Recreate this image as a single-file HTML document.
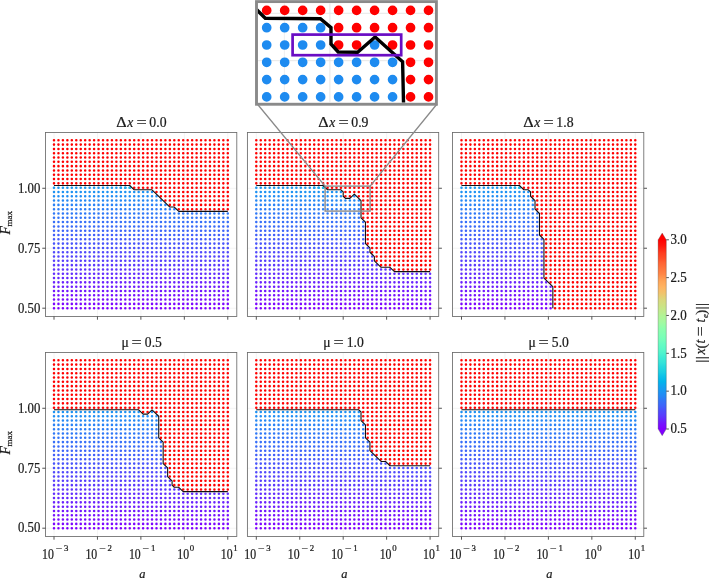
<!DOCTYPE html>
<html lang="en"><head><meta charset="utf-8"><title>Figure</title>
<style>html,body{margin:0;padding:0;background:#fff}svg{display:block}text{font-family:"Liberation Serif","DejaVu Serif",serif;fill:#1a1a1a;stroke:#1a1a1a;stroke-width:0.22px}.i{font-style:italic}.d{fill:none;stroke-linecap:round;stroke-width:2.55}</style></head><body>
<svg width="709" height="579" viewBox="0 0 709 579">
<rect width="709" height="579" fill="#fff"/>
<g>
<path d="M54 132.5v184M97.45 132.5v184M140.89 132.5v184M184.34 132.5v184M227.78 132.5v184M45.5 308.19h191.3M45.5 248.23h191.3M45.5 188.27h191.3" fill="none" stroke="#f1f1f1" stroke-width="0.8"/>
<path class="d" stroke="#1997f2" d="M54 187.66h0M58.46 187.66h0M62.91 187.66h0M67.37 187.66h0M71.82 187.66h0M76.28 187.66h0M80.74 187.66h0M85.19 187.66h0M89.65 187.66h0M94.1 187.66h0M98.56 187.66h0M103.02 187.66h0M107.47 187.66h0M111.93 187.66h0M116.38 187.66h0M120.84 187.66h0M125.3 187.66h0M129.75 187.66h0"/>
<path class="d" stroke="#1cc2e2" d="M129.75 187.66h0"/>
<path class="d" stroke="#19aaea" d="M125.3 187.66h0"/>
<path class="d" stroke="#1a9eee" d="M120.84 187.66h0"/>
<path class="d" stroke="#1d92f3" d="M54 191.96h0M58.46 191.96h0M62.91 191.96h0M67.37 191.96h0M71.82 191.96h0M76.28 191.96h0M80.74 191.96h0M85.19 191.96h0M89.65 191.96h0M94.1 191.96h0M98.56 191.96h0M103.02 191.96h0M107.47 191.96h0M111.93 191.96h0M116.38 191.96h0M120.84 191.96h0M125.3 191.96h0M129.75 191.96h0M134.21 191.96h0M138.66 191.96h0M143.12 191.96h0M147.58 191.96h0M152.03 191.96h0"/>
<path class="d" stroke="#208df4" d="M54 196.27h0M58.46 196.27h0M62.91 196.27h0M67.37 196.27h0M71.82 196.27h0M76.28 196.27h0M80.74 196.27h0M85.19 196.27h0M89.65 196.27h0M94.1 196.27h0M98.56 196.27h0M103.02 196.27h0M107.47 196.27h0M111.93 196.27h0M116.38 196.27h0M120.84 196.27h0M125.3 196.27h0M129.75 196.27h0M134.21 196.27h0M138.66 196.27h0M143.12 196.27h0M147.58 196.27h0M152.03 196.27h0M156.49 196.27h0"/>
<path class="d" stroke="#2488f5" d="M54 200.57h0M58.46 200.57h0M62.91 200.57h0M67.37 200.57h0M71.82 200.57h0M76.28 200.57h0M80.74 200.57h0M85.19 200.57h0M89.65 200.57h0M94.1 200.57h0M98.56 200.57h0M103.02 200.57h0M107.47 200.57h0M111.93 200.57h0M116.38 200.57h0M120.84 200.57h0M125.3 200.57h0M129.75 200.57h0M134.21 200.57h0M138.66 200.57h0M143.12 200.57h0M147.58 200.57h0M152.03 200.57h0M156.49 200.57h0M160.94 200.57h0"/>
<path class="d" stroke="#2883f6" d="M54 204.88h0M58.46 204.88h0M62.91 204.88h0M67.37 204.88h0M71.82 204.88h0M76.28 204.88h0M80.74 204.88h0M85.19 204.88h0M89.65 204.88h0M94.1 204.88h0M98.56 204.88h0M103.02 204.88h0M107.47 204.88h0M111.93 204.88h0M116.38 204.88h0M120.84 204.88h0M125.3 204.88h0M129.75 204.88h0M134.21 204.88h0M138.66 204.88h0M143.12 204.88h0M147.58 204.88h0M152.03 204.88h0M156.49 204.88h0M160.94 204.88h0M165.4 204.88h0"/>
<path class="d" stroke="#2b7ef6" d="M54 209.18h0M58.46 209.18h0M62.91 209.18h0M67.37 209.18h0M71.82 209.18h0M76.28 209.18h0M80.74 209.18h0M85.19 209.18h0M89.65 209.18h0M94.1 209.18h0M98.56 209.18h0M103.02 209.18h0M107.47 209.18h0M111.93 209.18h0M116.38 209.18h0M120.84 209.18h0M125.3 209.18h0M129.75 209.18h0M134.21 209.18h0M138.66 209.18h0M143.12 209.18h0M147.58 209.18h0M152.03 209.18h0M156.49 209.18h0M160.94 209.18h0M165.4 209.18h0M169.86 209.18h0M174.31 209.18h0"/>
<path class="d" stroke="#2f79f7" d="M54 213.49h0M58.46 213.49h0M62.91 213.49h0M67.37 213.49h0M71.82 213.49h0M76.28 213.49h0M80.74 213.49h0M85.19 213.49h0M89.65 213.49h0M94.1 213.49h0M98.56 213.49h0M103.02 213.49h0M107.47 213.49h0M111.93 213.49h0M116.38 213.49h0M120.84 213.49h0M125.3 213.49h0M129.75 213.49h0M134.21 213.49h0M138.66 213.49h0M143.12 213.49h0M147.58 213.49h0M152.03 213.49h0M156.49 213.49h0M160.94 213.49h0M165.4 213.49h0M169.86 213.49h0M174.31 213.49h0M178.77 213.49h0M183.22 213.49h0M187.68 213.49h0M192.14 213.49h0M196.59 213.49h0M201.05 213.49h0M205.5 213.49h0M209.96 213.49h0M214.42 213.49h0M218.87 213.49h0M223.33 213.49h0M227.78 213.49h0"/>
<path class="d" stroke="#3374f8" d="M54 217.79h0M58.46 217.79h0M62.91 217.79h0M67.37 217.79h0M71.82 217.79h0M76.28 217.79h0M80.74 217.79h0M85.19 217.79h0M89.65 217.79h0M94.1 217.79h0M98.56 217.79h0M103.02 217.79h0M107.47 217.79h0M111.93 217.79h0M116.38 217.79h0M120.84 217.79h0M125.3 217.79h0M129.75 217.79h0M134.21 217.79h0M138.66 217.79h0M143.12 217.79h0M147.58 217.79h0M152.03 217.79h0M156.49 217.79h0M160.94 217.79h0M165.4 217.79h0M169.86 217.79h0M174.31 217.79h0M178.77 217.79h0M183.22 217.79h0M187.68 217.79h0M192.14 217.79h0M196.59 217.79h0M201.05 217.79h0M205.5 217.79h0M209.96 217.79h0M214.42 217.79h0M218.87 217.79h0M223.33 217.79h0M227.78 217.79h0"/>
<path class="d" stroke="#366ff9" d="M54 222.09h0M58.46 222.09h0M62.91 222.09h0M67.37 222.09h0M71.82 222.09h0M76.28 222.09h0M80.74 222.09h0M85.19 222.09h0M89.65 222.09h0M94.1 222.09h0M98.56 222.09h0M103.02 222.09h0M107.47 222.09h0M111.93 222.09h0M116.38 222.09h0M120.84 222.09h0M125.3 222.09h0M129.75 222.09h0M134.21 222.09h0M138.66 222.09h0M143.12 222.09h0M147.58 222.09h0M152.03 222.09h0M156.49 222.09h0M160.94 222.09h0M165.4 222.09h0M169.86 222.09h0M174.31 222.09h0M178.77 222.09h0M183.22 222.09h0M187.68 222.09h0M192.14 222.09h0M196.59 222.09h0M201.05 222.09h0M205.5 222.09h0M209.96 222.09h0M214.42 222.09h0M218.87 222.09h0M223.33 222.09h0M227.78 222.09h0"/>
<path class="d" stroke="#3a6af9" d="M54 226.4h0M58.46 226.4h0M62.91 226.4h0M67.37 226.4h0M71.82 226.4h0M76.28 226.4h0M80.74 226.4h0M85.19 226.4h0M89.65 226.4h0M94.1 226.4h0M98.56 226.4h0M103.02 226.4h0M107.47 226.4h0M111.93 226.4h0M116.38 226.4h0M120.84 226.4h0M125.3 226.4h0M129.75 226.4h0M134.21 226.4h0M138.66 226.4h0M143.12 226.4h0M147.58 226.4h0M152.03 226.4h0M156.49 226.4h0M160.94 226.4h0M165.4 226.4h0M169.86 226.4h0M174.31 226.4h0M178.77 226.4h0M183.22 226.4h0M187.68 226.4h0M192.14 226.4h0M196.59 226.4h0M201.05 226.4h0M205.5 226.4h0M209.96 226.4h0M214.42 226.4h0M218.87 226.4h0M223.33 226.4h0M227.78 226.4h0"/>
<path class="d" stroke="#3e65fa" d="M54 230.71h0M58.46 230.71h0M62.91 230.71h0M67.37 230.71h0M71.82 230.71h0M76.28 230.71h0M80.74 230.71h0M85.19 230.71h0M89.65 230.71h0M94.1 230.71h0M98.56 230.71h0M103.02 230.71h0M107.47 230.71h0M111.93 230.71h0M116.38 230.71h0M120.84 230.71h0M125.3 230.71h0M129.75 230.71h0M134.21 230.71h0M138.66 230.71h0M143.12 230.71h0M147.58 230.71h0M152.03 230.71h0M156.49 230.71h0M160.94 230.71h0M165.4 230.71h0M169.86 230.71h0M174.31 230.71h0M178.77 230.71h0M183.22 230.71h0M187.68 230.71h0M192.14 230.71h0M196.59 230.71h0M201.05 230.71h0M205.5 230.71h0M209.96 230.71h0M214.42 230.71h0M218.87 230.71h0M223.33 230.71h0M227.78 230.71h0"/>
<path class="d" stroke="#415ffa" d="M54 235.01h0M58.46 235.01h0M62.91 235.01h0M67.37 235.01h0M71.82 235.01h0M76.28 235.01h0M80.74 235.01h0M85.19 235.01h0M89.65 235.01h0M94.1 235.01h0M98.56 235.01h0M103.02 235.01h0M107.47 235.01h0M111.93 235.01h0M116.38 235.01h0M120.84 235.01h0M125.3 235.01h0M129.75 235.01h0M134.21 235.01h0M138.66 235.01h0M143.12 235.01h0M147.58 235.01h0M152.03 235.01h0M156.49 235.01h0M160.94 235.01h0M165.4 235.01h0M169.86 235.01h0M174.31 235.01h0M178.77 235.01h0M183.22 235.01h0M187.68 235.01h0M192.14 235.01h0M196.59 235.01h0M201.05 235.01h0M205.5 235.01h0M209.96 235.01h0M214.42 235.01h0M218.87 235.01h0M223.33 235.01h0M227.78 235.01h0"/>
<path class="d" stroke="#455afb" d="M54 239.31h0M58.46 239.31h0M62.91 239.31h0M67.37 239.31h0M71.82 239.31h0M76.28 239.31h0M80.74 239.31h0M85.19 239.31h0M89.65 239.31h0M94.1 239.31h0M98.56 239.31h0M103.02 239.31h0M107.47 239.31h0M111.93 239.31h0M116.38 239.31h0M120.84 239.31h0M125.3 239.31h0M129.75 239.31h0M134.21 239.31h0M138.66 239.31h0M143.12 239.31h0M147.58 239.31h0M152.03 239.31h0M156.49 239.31h0M160.94 239.31h0M165.4 239.31h0M169.86 239.31h0M174.31 239.31h0M178.77 239.31h0M183.22 239.31h0M187.68 239.31h0M192.14 239.31h0M196.59 239.31h0M201.05 239.31h0M205.5 239.31h0M209.96 239.31h0M214.42 239.31h0M218.87 239.31h0M223.33 239.31h0M227.78 239.31h0"/>
<path class="d" stroke="#4955fb" d="M54 243.62h0M58.46 243.62h0M62.91 243.62h0M67.37 243.62h0M71.82 243.62h0M76.28 243.62h0M80.74 243.62h0M85.19 243.62h0M89.65 243.62h0M94.1 243.62h0M98.56 243.62h0M103.02 243.62h0M107.47 243.62h0M111.93 243.62h0M116.38 243.62h0M120.84 243.62h0M125.3 243.62h0M129.75 243.62h0M134.21 243.62h0M138.66 243.62h0M143.12 243.62h0M147.58 243.62h0M152.03 243.62h0M156.49 243.62h0M160.94 243.62h0M165.4 243.62h0M169.86 243.62h0M174.31 243.62h0M178.77 243.62h0M183.22 243.62h0M187.68 243.62h0M192.14 243.62h0M196.59 243.62h0M201.05 243.62h0M205.5 243.62h0M209.96 243.62h0M214.42 243.62h0M218.87 243.62h0M223.33 243.62h0M227.78 243.62h0"/>
<path class="d" stroke="#4c4ffc" d="M54 247.93h0M58.46 247.93h0M62.91 247.93h0M67.37 247.93h0M71.82 247.93h0M76.28 247.93h0M80.74 247.93h0M85.19 247.93h0M89.65 247.93h0M94.1 247.93h0M98.56 247.93h0M103.02 247.93h0M107.47 247.93h0M111.93 247.93h0M116.38 247.93h0M120.84 247.93h0M125.3 247.93h0M129.75 247.93h0M134.21 247.93h0M138.66 247.93h0M143.12 247.93h0M147.58 247.93h0M152.03 247.93h0M156.49 247.93h0M160.94 247.93h0M165.4 247.93h0M169.86 247.93h0M174.31 247.93h0M178.77 247.93h0M183.22 247.93h0M187.68 247.93h0M192.14 247.93h0M196.59 247.93h0M201.05 247.93h0M205.5 247.93h0M209.96 247.93h0M214.42 247.93h0M218.87 247.93h0M223.33 247.93h0M227.78 247.93h0"/>
<path class="d" stroke="#504afc" d="M54 252.23h0M58.46 252.23h0M62.91 252.23h0M67.37 252.23h0M71.82 252.23h0M76.28 252.23h0M80.74 252.23h0M85.19 252.23h0M89.65 252.23h0M94.1 252.23h0M98.56 252.23h0M103.02 252.23h0M107.47 252.23h0M111.93 252.23h0M116.38 252.23h0M120.84 252.23h0M125.3 252.23h0M129.75 252.23h0M134.21 252.23h0M138.66 252.23h0M143.12 252.23h0M147.58 252.23h0M152.03 252.23h0M156.49 252.23h0M160.94 252.23h0M165.4 252.23h0M169.86 252.23h0M174.31 252.23h0M178.77 252.23h0M183.22 252.23h0M187.68 252.23h0M192.14 252.23h0M196.59 252.23h0M201.05 252.23h0M205.5 252.23h0M209.96 252.23h0M214.42 252.23h0M218.87 252.23h0M223.33 252.23h0M227.78 252.23h0"/>
<path class="d" stroke="#5444fd" d="M54 256.53h0M58.46 256.53h0M62.91 256.53h0M67.37 256.53h0M71.82 256.53h0M76.28 256.53h0M80.74 256.53h0M85.19 256.53h0M89.65 256.53h0M94.1 256.53h0M98.56 256.53h0M103.02 256.53h0M107.47 256.53h0M111.93 256.53h0M116.38 256.53h0M120.84 256.53h0M125.3 256.53h0M129.75 256.53h0M134.21 256.53h0M138.66 256.53h0M143.12 256.53h0M147.58 256.53h0M152.03 256.53h0M156.49 256.53h0M160.94 256.53h0M165.4 256.53h0M169.86 256.53h0M174.31 256.53h0M178.77 256.53h0M183.22 256.53h0M187.68 256.53h0M192.14 256.53h0M196.59 256.53h0M201.05 256.53h0M205.5 256.53h0M209.96 256.53h0M214.42 256.53h0M218.87 256.53h0M223.33 256.53h0M227.78 256.53h0"/>
<path class="d" stroke="#573ffd" d="M54 260.84h0M58.46 260.84h0M62.91 260.84h0M67.37 260.84h0M71.82 260.84h0M76.28 260.84h0M80.74 260.84h0M85.19 260.84h0M89.65 260.84h0M94.1 260.84h0M98.56 260.84h0M103.02 260.84h0M107.47 260.84h0M111.93 260.84h0M116.38 260.84h0M120.84 260.84h0M125.3 260.84h0M129.75 260.84h0M134.21 260.84h0M138.66 260.84h0M143.12 260.84h0M147.58 260.84h0M152.03 260.84h0M156.49 260.84h0M160.94 260.84h0M165.4 260.84h0M169.86 260.84h0M174.31 260.84h0M178.77 260.84h0M183.22 260.84h0M187.68 260.84h0M192.14 260.84h0M196.59 260.84h0M201.05 260.84h0M205.5 260.84h0M209.96 260.84h0M214.42 260.84h0M218.87 260.84h0M223.33 260.84h0M227.78 260.84h0"/>
<path class="d" stroke="#5b39fd" d="M54 265.14h0M58.46 265.14h0M62.91 265.14h0M67.37 265.14h0M71.82 265.14h0M76.28 265.14h0M80.74 265.14h0M85.19 265.14h0M89.65 265.14h0M94.1 265.14h0M98.56 265.14h0M103.02 265.14h0M107.47 265.14h0M111.93 265.14h0M116.38 265.14h0M120.84 265.14h0M125.3 265.14h0M129.75 265.14h0M134.21 265.14h0M138.66 265.14h0M143.12 265.14h0M147.58 265.14h0M152.03 265.14h0M156.49 265.14h0M160.94 265.14h0M165.4 265.14h0M169.86 265.14h0M174.31 265.14h0M178.77 265.14h0M183.22 265.14h0M187.68 265.14h0M192.14 265.14h0M196.59 265.14h0M201.05 265.14h0M205.5 265.14h0M209.96 265.14h0M214.42 265.14h0M218.87 265.14h0M223.33 265.14h0M227.78 265.14h0"/>
<path class="d" stroke="#5f33fe" d="M54 269.45h0M58.46 269.45h0M62.91 269.45h0M67.37 269.45h0M71.82 269.45h0M76.28 269.45h0M80.74 269.45h0M85.19 269.45h0M89.65 269.45h0M94.1 269.45h0M98.56 269.45h0M103.02 269.45h0M107.47 269.45h0M111.93 269.45h0M116.38 269.45h0M120.84 269.45h0M125.3 269.45h0M129.75 269.45h0M134.21 269.45h0M138.66 269.45h0M143.12 269.45h0M147.58 269.45h0M152.03 269.45h0M156.49 269.45h0M160.94 269.45h0M165.4 269.45h0M169.86 269.45h0M174.31 269.45h0M178.77 269.45h0M183.22 269.45h0M187.68 269.45h0M192.14 269.45h0M196.59 269.45h0M201.05 269.45h0M205.5 269.45h0M209.96 269.45h0M214.42 269.45h0M218.87 269.45h0M223.33 269.45h0M227.78 269.45h0"/>
<path class="d" stroke="#622efe" d="M54 273.75h0M58.46 273.75h0M62.91 273.75h0M67.37 273.75h0M71.82 273.75h0M76.28 273.75h0M80.74 273.75h0M85.19 273.75h0M89.65 273.75h0M94.1 273.75h0M98.56 273.75h0M103.02 273.75h0M107.47 273.75h0M111.93 273.75h0M116.38 273.75h0M120.84 273.75h0M125.3 273.75h0M129.75 273.75h0M134.21 273.75h0M138.66 273.75h0M143.12 273.75h0M147.58 273.75h0M152.03 273.75h0M156.49 273.75h0M160.94 273.75h0M165.4 273.75h0M169.86 273.75h0M174.31 273.75h0M178.77 273.75h0M183.22 273.75h0M187.68 273.75h0M192.14 273.75h0M196.59 273.75h0M201.05 273.75h0M205.5 273.75h0M209.96 273.75h0M214.42 273.75h0M218.87 273.75h0M223.33 273.75h0M227.78 273.75h0"/>
<path class="d" stroke="#6628fe" d="M54 278.06h0M58.46 278.06h0M62.91 278.06h0M67.37 278.06h0M71.82 278.06h0M76.28 278.06h0M80.74 278.06h0M85.19 278.06h0M89.65 278.06h0M94.1 278.06h0M98.56 278.06h0M103.02 278.06h0M107.47 278.06h0M111.93 278.06h0M116.38 278.06h0M120.84 278.06h0M125.3 278.06h0M129.75 278.06h0M134.21 278.06h0M138.66 278.06h0M143.12 278.06h0M147.58 278.06h0M152.03 278.06h0M156.49 278.06h0M160.94 278.06h0M165.4 278.06h0M169.86 278.06h0M174.31 278.06h0M178.77 278.06h0M183.22 278.06h0M187.68 278.06h0M192.14 278.06h0M196.59 278.06h0M201.05 278.06h0M205.5 278.06h0M209.96 278.06h0M214.42 278.06h0M218.87 278.06h0M223.33 278.06h0M227.78 278.06h0"/>
<path class="d" stroke="#6a22fe" d="M54 282.37h0M58.46 282.37h0M62.91 282.37h0M67.37 282.37h0M71.82 282.37h0M76.28 282.37h0M80.74 282.37h0M85.19 282.37h0M89.65 282.37h0M94.1 282.37h0M98.56 282.37h0M103.02 282.37h0M107.47 282.37h0M111.93 282.37h0M116.38 282.37h0M120.84 282.37h0M125.3 282.37h0M129.75 282.37h0M134.21 282.37h0M138.66 282.37h0M143.12 282.37h0M147.58 282.37h0M152.03 282.37h0M156.49 282.37h0M160.94 282.37h0M165.4 282.37h0M169.86 282.37h0M174.31 282.37h0M178.77 282.37h0M183.22 282.37h0M187.68 282.37h0M192.14 282.37h0M196.59 282.37h0M201.05 282.37h0M205.5 282.37h0M209.96 282.37h0M214.42 282.37h0M218.87 282.37h0M223.33 282.37h0M227.78 282.37h0"/>
<path class="d" stroke="#6d1dff" d="M54 286.67h0M58.46 286.67h0M62.91 286.67h0M67.37 286.67h0M71.82 286.67h0M76.28 286.67h0M80.74 286.67h0M85.19 286.67h0M89.65 286.67h0M94.1 286.67h0M98.56 286.67h0M103.02 286.67h0M107.47 286.67h0M111.93 286.67h0M116.38 286.67h0M120.84 286.67h0M125.3 286.67h0M129.75 286.67h0M134.21 286.67h0M138.66 286.67h0M143.12 286.67h0M147.58 286.67h0M152.03 286.67h0M156.49 286.67h0M160.94 286.67h0M165.4 286.67h0M169.86 286.67h0M174.31 286.67h0M178.77 286.67h0M183.22 286.67h0M187.68 286.67h0M192.14 286.67h0M196.59 286.67h0M201.05 286.67h0M205.5 286.67h0M209.96 286.67h0M214.42 286.67h0M218.87 286.67h0M223.33 286.67h0M227.78 286.67h0"/>
<path class="d" stroke="#7117ff" d="M54 290.98h0M58.46 290.98h0M62.91 290.98h0M67.37 290.98h0M71.82 290.98h0M76.28 290.98h0M80.74 290.98h0M85.19 290.98h0M89.65 290.98h0M94.1 290.98h0M98.56 290.98h0M103.02 290.98h0M107.47 290.98h0M111.93 290.98h0M116.38 290.98h0M120.84 290.98h0M125.3 290.98h0M129.75 290.98h0M134.21 290.98h0M138.66 290.98h0M143.12 290.98h0M147.58 290.98h0M152.03 290.98h0M156.49 290.98h0M160.94 290.98h0M165.4 290.98h0M169.86 290.98h0M174.31 290.98h0M178.77 290.98h0M183.22 290.98h0M187.68 290.98h0M192.14 290.98h0M196.59 290.98h0M201.05 290.98h0M205.5 290.98h0M209.96 290.98h0M214.42 290.98h0M218.87 290.98h0M223.33 290.98h0M227.78 290.98h0"/>
<path class="d" stroke="#7511ff" d="M54 295.28h0M58.46 295.28h0M62.91 295.28h0M67.37 295.28h0M71.82 295.28h0M76.28 295.28h0M80.74 295.28h0M85.19 295.28h0M89.65 295.28h0M94.1 295.28h0M98.56 295.28h0M103.02 295.28h0M107.47 295.28h0M111.93 295.28h0M116.38 295.28h0M120.84 295.28h0M125.3 295.28h0M129.75 295.28h0M134.21 295.28h0M138.66 295.28h0M143.12 295.28h0M147.58 295.28h0M152.03 295.28h0M156.49 295.28h0M160.94 295.28h0M165.4 295.28h0M169.86 295.28h0M174.31 295.28h0M178.77 295.28h0M183.22 295.28h0M187.68 295.28h0M192.14 295.28h0M196.59 295.28h0M201.05 295.28h0M205.5 295.28h0M209.96 295.28h0M214.42 295.28h0M218.87 295.28h0M223.33 295.28h0M227.78 295.28h0"/>
<path class="d" stroke="#780bff" d="M54 299.59h0M58.46 299.59h0M62.91 299.59h0M67.37 299.59h0M71.82 299.59h0M76.28 299.59h0M80.74 299.59h0M85.19 299.59h0M89.65 299.59h0M94.1 299.59h0M98.56 299.59h0M103.02 299.59h0M107.47 299.59h0M111.93 299.59h0M116.38 299.59h0M120.84 299.59h0M125.3 299.59h0M129.75 299.59h0M134.21 299.59h0M138.66 299.59h0M143.12 299.59h0M147.58 299.59h0M152.03 299.59h0M156.49 299.59h0M160.94 299.59h0M165.4 299.59h0M169.86 299.59h0M174.31 299.59h0M178.77 299.59h0M183.22 299.59h0M187.68 299.59h0M192.14 299.59h0M196.59 299.59h0M201.05 299.59h0M205.5 299.59h0M209.96 299.59h0M214.42 299.59h0M218.87 299.59h0M223.33 299.59h0M227.78 299.59h0"/>
<path class="d" stroke="#7c06ff" d="M54 303.89h0M58.46 303.89h0M62.91 303.89h0M67.37 303.89h0M71.82 303.89h0M76.28 303.89h0M80.74 303.89h0M85.19 303.89h0M89.65 303.89h0M94.1 303.89h0M98.56 303.89h0M103.02 303.89h0M107.47 303.89h0M111.93 303.89h0M116.38 303.89h0M120.84 303.89h0M125.3 303.89h0M129.75 303.89h0M134.21 303.89h0M138.66 303.89h0M143.12 303.89h0M147.58 303.89h0M152.03 303.89h0M156.49 303.89h0M160.94 303.89h0M165.4 303.89h0M169.86 303.89h0M174.31 303.89h0M178.77 303.89h0M183.22 303.89h0M187.68 303.89h0M192.14 303.89h0M196.59 303.89h0M201.05 303.89h0M205.5 303.89h0M209.96 303.89h0M214.42 303.89h0M218.87 303.89h0M223.33 303.89h0M227.78 303.89h0"/>
<path class="d" stroke="#8000ff" d="M54 308.19h0M58.46 308.19h0M62.91 308.19h0M67.37 308.19h0M71.82 308.19h0M76.28 308.19h0M80.74 308.19h0M85.19 308.19h0M89.65 308.19h0M94.1 308.19h0M98.56 308.19h0M103.02 308.19h0M107.47 308.19h0M111.93 308.19h0M116.38 308.19h0M120.84 308.19h0M125.3 308.19h0M129.75 308.19h0M134.21 308.19h0M138.66 308.19h0M143.12 308.19h0M147.58 308.19h0M152.03 308.19h0M156.49 308.19h0M160.94 308.19h0M165.4 308.19h0M169.86 308.19h0M174.31 308.19h0M178.77 308.19h0M183.22 308.19h0M187.68 308.19h0M192.14 308.19h0M196.59 308.19h0M201.05 308.19h0M205.5 308.19h0M209.96 308.19h0M214.42 308.19h0M218.87 308.19h0M223.33 308.19h0M227.78 308.19h0"/>
<path class="d" stroke="#ff0000" d="M54 140.3h0M58.46 140.3h0M62.91 140.3h0M67.37 140.3h0M71.82 140.3h0M76.28 140.3h0M80.74 140.3h0M85.19 140.3h0M89.65 140.3h0M94.1 140.3h0M98.56 140.3h0M103.02 140.3h0M107.47 140.3h0M111.93 140.3h0M116.38 140.3h0M120.84 140.3h0M125.3 140.3h0M129.75 140.3h0M134.21 140.3h0M138.66 140.3h0M143.12 140.3h0M147.58 140.3h0M152.03 140.3h0M156.49 140.3h0M160.94 140.3h0M165.4 140.3h0M169.86 140.3h0M174.31 140.3h0M178.77 140.3h0M183.22 140.3h0M187.68 140.3h0M192.14 140.3h0M196.59 140.3h0M201.05 140.3h0M205.5 140.3h0M209.96 140.3h0M214.42 140.3h0M218.87 140.3h0M223.33 140.3h0M227.78 140.3h0M54 144.61h0M58.46 144.61h0M62.91 144.61h0M67.37 144.61h0M71.82 144.61h0M76.28 144.61h0M80.74 144.61h0M85.19 144.61h0M89.65 144.61h0M94.1 144.61h0M98.56 144.61h0M103.02 144.61h0M107.47 144.61h0M111.93 144.61h0M116.38 144.61h0M120.84 144.61h0M125.3 144.61h0M129.75 144.61h0M134.21 144.61h0M138.66 144.61h0M143.12 144.61h0M147.58 144.61h0M152.03 144.61h0M156.49 144.61h0M160.94 144.61h0M165.4 144.61h0M169.86 144.61h0M174.31 144.61h0M178.77 144.61h0M183.22 144.61h0M187.68 144.61h0M192.14 144.61h0M196.59 144.61h0M201.05 144.61h0M205.5 144.61h0M209.96 144.61h0M214.42 144.61h0M218.87 144.61h0M223.33 144.61h0M227.78 144.61h0M54 148.91h0M58.46 148.91h0M62.91 148.91h0M67.37 148.91h0M71.82 148.91h0M76.28 148.91h0M80.74 148.91h0M85.19 148.91h0M89.65 148.91h0M94.1 148.91h0M98.56 148.91h0M103.02 148.91h0M107.47 148.91h0M111.93 148.91h0M116.38 148.91h0M120.84 148.91h0M125.3 148.91h0M129.75 148.91h0M134.21 148.91h0M138.66 148.91h0M143.12 148.91h0M147.58 148.91h0M152.03 148.91h0M156.49 148.91h0M160.94 148.91h0M165.4 148.91h0M169.86 148.91h0M174.31 148.91h0M178.77 148.91h0M183.22 148.91h0M187.68 148.91h0M192.14 148.91h0M196.59 148.91h0M201.05 148.91h0M205.5 148.91h0M209.96 148.91h0M214.42 148.91h0M218.87 148.91h0M223.33 148.91h0M227.78 148.91h0M54 153.22h0M58.46 153.22h0M62.91 153.22h0M67.37 153.22h0M71.82 153.22h0M76.28 153.22h0M80.74 153.22h0M85.19 153.22h0M89.65 153.22h0M94.1 153.22h0M98.56 153.22h0M103.02 153.22h0M107.47 153.22h0M111.93 153.22h0M116.38 153.22h0M120.84 153.22h0M125.3 153.22h0M129.75 153.22h0M134.21 153.22h0M138.66 153.22h0M143.12 153.22h0M147.58 153.22h0M152.03 153.22h0M156.49 153.22h0M160.94 153.22h0M165.4 153.22h0M169.86 153.22h0M174.31 153.22h0M178.77 153.22h0M183.22 153.22h0M187.68 153.22h0M192.14 153.22h0M196.59 153.22h0M201.05 153.22h0M205.5 153.22h0M209.96 153.22h0M214.42 153.22h0M218.87 153.22h0M223.33 153.22h0M227.78 153.22h0M54 157.52h0M58.46 157.52h0M62.91 157.52h0M67.37 157.52h0M71.82 157.52h0M76.28 157.52h0M80.74 157.52h0M85.19 157.52h0M89.65 157.52h0M94.1 157.52h0M98.56 157.52h0M103.02 157.52h0M107.47 157.52h0M111.93 157.52h0M116.38 157.52h0M120.84 157.52h0M125.3 157.52h0M129.75 157.52h0M134.21 157.52h0M138.66 157.52h0M143.12 157.52h0M147.58 157.52h0M152.03 157.52h0M156.49 157.52h0M160.94 157.52h0M165.4 157.52h0M169.86 157.52h0M174.31 157.52h0M178.77 157.52h0M183.22 157.52h0M187.68 157.52h0M192.14 157.52h0M196.59 157.52h0M201.05 157.52h0M205.5 157.52h0M209.96 157.52h0M214.42 157.52h0M218.87 157.52h0M223.33 157.52h0M227.78 157.52h0M54 161.83h0M58.46 161.83h0M62.91 161.83h0M67.37 161.83h0M71.82 161.83h0M76.28 161.83h0M80.74 161.83h0M85.19 161.83h0M89.65 161.83h0M94.1 161.83h0M98.56 161.83h0M103.02 161.83h0M107.47 161.83h0M111.93 161.83h0M116.38 161.83h0M120.84 161.83h0M125.3 161.83h0M129.75 161.83h0M134.21 161.83h0M138.66 161.83h0M143.12 161.83h0M147.58 161.83h0M152.03 161.83h0M156.49 161.83h0M160.94 161.83h0M165.4 161.83h0M169.86 161.83h0M174.31 161.83h0M178.77 161.83h0M183.22 161.83h0M187.68 161.83h0M192.14 161.83h0M196.59 161.83h0M201.05 161.83h0M205.5 161.83h0M209.96 161.83h0M214.42 161.83h0M218.87 161.83h0M223.33 161.83h0M227.78 161.83h0M54 166.13h0M58.46 166.13h0M62.91 166.13h0M67.37 166.13h0M71.82 166.13h0M76.28 166.13h0M80.74 166.13h0M85.19 166.13h0M89.65 166.13h0M94.1 166.13h0M98.56 166.13h0M103.02 166.13h0M107.47 166.13h0M111.93 166.13h0M116.38 166.13h0M120.84 166.13h0M125.3 166.13h0M129.75 166.13h0M134.21 166.13h0M138.66 166.13h0M143.12 166.13h0M147.58 166.13h0M152.03 166.13h0M156.49 166.13h0M160.94 166.13h0M165.4 166.13h0M169.86 166.13h0M174.31 166.13h0M178.77 166.13h0M183.22 166.13h0M187.68 166.13h0M192.14 166.13h0M196.59 166.13h0M201.05 166.13h0M205.5 166.13h0M209.96 166.13h0M214.42 166.13h0M218.87 166.13h0M223.33 166.13h0M227.78 166.13h0M54 170.44h0M58.46 170.44h0M62.91 170.44h0M67.37 170.44h0M71.82 170.44h0M76.28 170.44h0M80.74 170.44h0M85.19 170.44h0M89.65 170.44h0M94.1 170.44h0M98.56 170.44h0M103.02 170.44h0M107.47 170.44h0M111.93 170.44h0M116.38 170.44h0M120.84 170.44h0M125.3 170.44h0M129.75 170.44h0M134.21 170.44h0M138.66 170.44h0M143.12 170.44h0M147.58 170.44h0M152.03 170.44h0M156.49 170.44h0M160.94 170.44h0M165.4 170.44h0M169.86 170.44h0M174.31 170.44h0M178.77 170.44h0M183.22 170.44h0M187.68 170.44h0M192.14 170.44h0M196.59 170.44h0M201.05 170.44h0M205.5 170.44h0M209.96 170.44h0M214.42 170.44h0M218.87 170.44h0M223.33 170.44h0M227.78 170.44h0M54 174.74h0M58.46 174.74h0M62.91 174.74h0M67.37 174.74h0M71.82 174.74h0M76.28 174.74h0M80.74 174.74h0M85.19 174.74h0M89.65 174.74h0M94.1 174.74h0M98.56 174.74h0M103.02 174.74h0M107.47 174.74h0M111.93 174.74h0M116.38 174.74h0M120.84 174.74h0M125.3 174.74h0M129.75 174.74h0M134.21 174.74h0M138.66 174.74h0M143.12 174.74h0M147.58 174.74h0M152.03 174.74h0M156.49 174.74h0M160.94 174.74h0M165.4 174.74h0M169.86 174.74h0M174.31 174.74h0M178.77 174.74h0M183.22 174.74h0M187.68 174.74h0M192.14 174.74h0M196.59 174.74h0M201.05 174.74h0M205.5 174.74h0M209.96 174.74h0M214.42 174.74h0M218.87 174.74h0M223.33 174.74h0M227.78 174.74h0M54 179.05h0M58.46 179.05h0M62.91 179.05h0M67.37 179.05h0M71.82 179.05h0M76.28 179.05h0M80.74 179.05h0M85.19 179.05h0M89.65 179.05h0M94.1 179.05h0M98.56 179.05h0M103.02 179.05h0M107.47 179.05h0M111.93 179.05h0M116.38 179.05h0M120.84 179.05h0M125.3 179.05h0M129.75 179.05h0M134.21 179.05h0M138.66 179.05h0M143.12 179.05h0M147.58 179.05h0M152.03 179.05h0M156.49 179.05h0M160.94 179.05h0M165.4 179.05h0M169.86 179.05h0M174.31 179.05h0M178.77 179.05h0M183.22 179.05h0M187.68 179.05h0M192.14 179.05h0M196.59 179.05h0M201.05 179.05h0M205.5 179.05h0M209.96 179.05h0M214.42 179.05h0M218.87 179.05h0M223.33 179.05h0M227.78 179.05h0M54 183.35h0M58.46 183.35h0M62.91 183.35h0M67.37 183.35h0M71.82 183.35h0M76.28 183.35h0M80.74 183.35h0M85.19 183.35h0M89.65 183.35h0M94.1 183.35h0M98.56 183.35h0M103.02 183.35h0M107.47 183.35h0M111.93 183.35h0M116.38 183.35h0M120.84 183.35h0M125.3 183.35h0M129.75 183.35h0M134.21 183.35h0M138.66 183.35h0M143.12 183.35h0M147.58 183.35h0M152.03 183.35h0M156.49 183.35h0M160.94 183.35h0M165.4 183.35h0M169.86 183.35h0M174.31 183.35h0M178.77 183.35h0M183.22 183.35h0M187.68 183.35h0M192.14 183.35h0M196.59 183.35h0M201.05 183.35h0M205.5 183.35h0M209.96 183.35h0M214.42 183.35h0M218.87 183.35h0M223.33 183.35h0M227.78 183.35h0M134.21 187.66h0M138.66 187.66h0M143.12 187.66h0M147.58 187.66h0M152.03 187.66h0M156.49 187.66h0M160.94 187.66h0M165.4 187.66h0M169.86 187.66h0M174.31 187.66h0M178.77 187.66h0M183.22 187.66h0M187.68 187.66h0M192.14 187.66h0M196.59 187.66h0M201.05 187.66h0M205.5 187.66h0M209.96 187.66h0M214.42 187.66h0M218.87 187.66h0M223.33 187.66h0M227.78 187.66h0M156.49 191.96h0M160.94 191.96h0M165.4 191.96h0M169.86 191.96h0M174.31 191.96h0M178.77 191.96h0M183.22 191.96h0M187.68 191.96h0M192.14 191.96h0M196.59 191.96h0M201.05 191.96h0M205.5 191.96h0M209.96 191.96h0M214.42 191.96h0M218.87 191.96h0M223.33 191.96h0M227.78 191.96h0M160.94 196.27h0M165.4 196.27h0M169.86 196.27h0M174.31 196.27h0M178.77 196.27h0M183.22 196.27h0M187.68 196.27h0M192.14 196.27h0M196.59 196.27h0M201.05 196.27h0M205.5 196.27h0M209.96 196.27h0M214.42 196.27h0M218.87 196.27h0M223.33 196.27h0M227.78 196.27h0M165.4 200.57h0M169.86 200.57h0M174.31 200.57h0M178.77 200.57h0M183.22 200.57h0M187.68 200.57h0M192.14 200.57h0M196.59 200.57h0M201.05 200.57h0M205.5 200.57h0M209.96 200.57h0M214.42 200.57h0M218.87 200.57h0M223.33 200.57h0M227.78 200.57h0M169.86 204.88h0M174.31 204.88h0M178.77 204.88h0M183.22 204.88h0M187.68 204.88h0M192.14 204.88h0M196.59 204.88h0M201.05 204.88h0M205.5 204.88h0M209.96 204.88h0M214.42 204.88h0M218.87 204.88h0M223.33 204.88h0M227.78 204.88h0M178.77 209.18h0M183.22 209.18h0M187.68 209.18h0M192.14 209.18h0M196.59 209.18h0M201.05 209.18h0M205.5 209.18h0M209.96 209.18h0M214.42 209.18h0M218.87 209.18h0M223.33 209.18h0M227.78 209.18h0"/>
<polyline fill="none" stroke="#111" stroke-width="1.1" stroke-linejoin="round" points="54,185.5 129.75,185.5 134.21,189.81 152.03,189.81 169.86,207.03 174.31,207.03 178.77,211.33 227.78,211.33"/>
<rect x="45.5" y="132.5" width="191.3" height="184" fill="none" stroke="#6a6a6a" stroke-width="0.85"/>
<path d="M54 316.5v3.2M97.45 316.5v3.2M140.89 316.5v3.2M184.34 316.5v3.2M227.78 316.5v3.2M45.5 308.19h-3.2M45.5 248.23h-3.2M45.5 188.27h-3.2" fill="none" stroke="#404040" stroke-width="0.9"/>
<text y="127" font-size="13.6"><tspan x="116.25" textLength="10.4" lengthAdjust="spacingAndGlyphs">Δ</tspan><tspan class="i" x="127.25">x</tspan><tspan x="136.55" textLength="10.2" lengthAdjust="spacingAndGlyphs">=</tspan><tspan x="149.35" textLength="17.2" lengthAdjust="spacingAndGlyphs">0.0</tspan></text>
<text x="40.3" y="312.5" font-size="13.6" text-anchor="end" textLength="22.3" lengthAdjust="spacingAndGlyphs">0.50</text>
<text x="40.3" y="252.53" font-size="13.6" text-anchor="end" textLength="22.3" lengthAdjust="spacingAndGlyphs">0.75</text>
<text x="40.3" y="192.57" font-size="13.6" text-anchor="end" textLength="22.3" lengthAdjust="spacingAndGlyphs">1.00</text>
<text transform="translate(9.7 223.2) rotate(-90)" font-size="13.6"><tspan class="i" x="-11.2" y="0">F</tspan><tspan x="-3.4" y="2.3" font-size="9">max</tspan></text>
</g>
<g>
<path d="M256.3 132.5v184M299.75 132.5v184M343.19 132.5v184M386.64 132.5v184M430.08 132.5v184M247.4 308.19h191.3M247.4 248.23h191.3M247.4 188.27h191.3" fill="none" stroke="#f1f1f1" stroke-width="0.8"/>
<path class="d" stroke="#1997f2" d="M256.3 187.66h0M260.76 187.66h0M265.21 187.66h0M269.67 187.66h0M274.12 187.66h0M278.58 187.66h0M283.04 187.66h0M287.49 187.66h0M291.95 187.66h0M296.4 187.66h0M300.86 187.66h0M305.32 187.66h0M309.77 187.66h0M314.23 187.66h0M318.68 187.66h0M323.14 187.66h0"/>
<path class="d" stroke="#1cc2e2" d="M323.14 187.66h0"/>
<path class="d" stroke="#19aaea" d="M318.68 187.66h0"/>
<path class="d" stroke="#1a9eee" d="M314.23 187.66h0"/>
<path class="d" stroke="#1d92f3" d="M256.3 191.96h0M260.76 191.96h0M265.21 191.96h0M269.67 191.96h0M274.12 191.96h0M278.58 191.96h0M283.04 191.96h0M287.49 191.96h0M291.95 191.96h0M296.4 191.96h0M300.86 191.96h0M305.32 191.96h0M309.77 191.96h0M314.23 191.96h0M318.68 191.96h0M323.14 191.96h0M327.6 191.96h0M332.05 191.96h0M336.51 191.96h0M340.96 191.96h0"/>
<path class="d" stroke="#208df4" d="M256.3 196.27h0M260.76 196.27h0M265.21 196.27h0M269.67 196.27h0M274.12 196.27h0M278.58 196.27h0M283.04 196.27h0M287.49 196.27h0M291.95 196.27h0M296.4 196.27h0M300.86 196.27h0M305.32 196.27h0M309.77 196.27h0M314.23 196.27h0M318.68 196.27h0M323.14 196.27h0M327.6 196.27h0M332.05 196.27h0M336.51 196.27h0M340.96 196.27h0M354.33 196.27h0"/>
<path class="d" stroke="#2488f5" d="M256.3 200.57h0M260.76 200.57h0M265.21 200.57h0M269.67 200.57h0M274.12 200.57h0M278.58 200.57h0M283.04 200.57h0M287.49 200.57h0M291.95 200.57h0M296.4 200.57h0M300.86 200.57h0M305.32 200.57h0M309.77 200.57h0M314.23 200.57h0M318.68 200.57h0M323.14 200.57h0M327.6 200.57h0M332.05 200.57h0M336.51 200.57h0M340.96 200.57h0M345.42 200.57h0M349.88 200.57h0M354.33 200.57h0M358.79 200.57h0"/>
<path class="d" stroke="#2883f6" d="M256.3 204.88h0M260.76 204.88h0M265.21 204.88h0M269.67 204.88h0M274.12 204.88h0M278.58 204.88h0M283.04 204.88h0M287.49 204.88h0M291.95 204.88h0M296.4 204.88h0M300.86 204.88h0M305.32 204.88h0M309.77 204.88h0M314.23 204.88h0M318.68 204.88h0M323.14 204.88h0M327.6 204.88h0M332.05 204.88h0M336.51 204.88h0M340.96 204.88h0M345.42 204.88h0M349.88 204.88h0M354.33 204.88h0M358.79 204.88h0"/>
<path class="d" stroke="#2b7ef6" d="M256.3 209.18h0M260.76 209.18h0M265.21 209.18h0M269.67 209.18h0M274.12 209.18h0M278.58 209.18h0M283.04 209.18h0M287.49 209.18h0M291.95 209.18h0M296.4 209.18h0M300.86 209.18h0M305.32 209.18h0M309.77 209.18h0M314.23 209.18h0M318.68 209.18h0M323.14 209.18h0M327.6 209.18h0M332.05 209.18h0M336.51 209.18h0M340.96 209.18h0M345.42 209.18h0M349.88 209.18h0M354.33 209.18h0M358.79 209.18h0"/>
<path class="d" stroke="#2f79f7" d="M256.3 213.49h0M260.76 213.49h0M265.21 213.49h0M269.67 213.49h0M274.12 213.49h0M278.58 213.49h0M283.04 213.49h0M287.49 213.49h0M291.95 213.49h0M296.4 213.49h0M300.86 213.49h0M305.32 213.49h0M309.77 213.49h0M314.23 213.49h0M318.68 213.49h0M323.14 213.49h0M327.6 213.49h0M332.05 213.49h0M336.51 213.49h0M340.96 213.49h0M345.42 213.49h0M349.88 213.49h0M354.33 213.49h0M358.79 213.49h0"/>
<path class="d" stroke="#3374f8" d="M256.3 217.79h0M260.76 217.79h0M265.21 217.79h0M269.67 217.79h0M274.12 217.79h0M278.58 217.79h0M283.04 217.79h0M287.49 217.79h0M291.95 217.79h0M296.4 217.79h0M300.86 217.79h0M305.32 217.79h0M309.77 217.79h0M314.23 217.79h0M318.68 217.79h0M323.14 217.79h0M327.6 217.79h0M332.05 217.79h0M336.51 217.79h0M340.96 217.79h0M345.42 217.79h0M349.88 217.79h0M354.33 217.79h0M358.79 217.79h0"/>
<path class="d" stroke="#366ff9" d="M256.3 222.09h0M260.76 222.09h0M265.21 222.09h0M269.67 222.09h0M274.12 222.09h0M278.58 222.09h0M283.04 222.09h0M287.49 222.09h0M291.95 222.09h0M296.4 222.09h0M300.86 222.09h0M305.32 222.09h0M309.77 222.09h0M314.23 222.09h0M318.68 222.09h0M323.14 222.09h0M327.6 222.09h0M332.05 222.09h0M336.51 222.09h0M340.96 222.09h0M345.42 222.09h0M349.88 222.09h0M354.33 222.09h0M358.79 222.09h0M363.24 222.09h0"/>
<path class="d" stroke="#3a6af9" d="M256.3 226.4h0M260.76 226.4h0M265.21 226.4h0M269.67 226.4h0M274.12 226.4h0M278.58 226.4h0M283.04 226.4h0M287.49 226.4h0M291.95 226.4h0M296.4 226.4h0M300.86 226.4h0M305.32 226.4h0M309.77 226.4h0M314.23 226.4h0M318.68 226.4h0M323.14 226.4h0M327.6 226.4h0M332.05 226.4h0M336.51 226.4h0M340.96 226.4h0M345.42 226.4h0M349.88 226.4h0M354.33 226.4h0M358.79 226.4h0M363.24 226.4h0"/>
<path class="d" stroke="#3e65fa" d="M256.3 230.71h0M260.76 230.71h0M265.21 230.71h0M269.67 230.71h0M274.12 230.71h0M278.58 230.71h0M283.04 230.71h0M287.49 230.71h0M291.95 230.71h0M296.4 230.71h0M300.86 230.71h0M305.32 230.71h0M309.77 230.71h0M314.23 230.71h0M318.68 230.71h0M323.14 230.71h0M327.6 230.71h0M332.05 230.71h0M336.51 230.71h0M340.96 230.71h0M345.42 230.71h0M349.88 230.71h0M354.33 230.71h0M358.79 230.71h0M363.24 230.71h0"/>
<path class="d" stroke="#415ffa" d="M256.3 235.01h0M260.76 235.01h0M265.21 235.01h0M269.67 235.01h0M274.12 235.01h0M278.58 235.01h0M283.04 235.01h0M287.49 235.01h0M291.95 235.01h0M296.4 235.01h0M300.86 235.01h0M305.32 235.01h0M309.77 235.01h0M314.23 235.01h0M318.68 235.01h0M323.14 235.01h0M327.6 235.01h0M332.05 235.01h0M336.51 235.01h0M340.96 235.01h0M345.42 235.01h0M349.88 235.01h0M354.33 235.01h0M358.79 235.01h0M363.24 235.01h0"/>
<path class="d" stroke="#455afb" d="M256.3 239.31h0M260.76 239.31h0M265.21 239.31h0M269.67 239.31h0M274.12 239.31h0M278.58 239.31h0M283.04 239.31h0M287.49 239.31h0M291.95 239.31h0M296.4 239.31h0M300.86 239.31h0M305.32 239.31h0M309.77 239.31h0M314.23 239.31h0M318.68 239.31h0M323.14 239.31h0M327.6 239.31h0M332.05 239.31h0M336.51 239.31h0M340.96 239.31h0M345.42 239.31h0M349.88 239.31h0M354.33 239.31h0M358.79 239.31h0M363.24 239.31h0"/>
<path class="d" stroke="#4955fb" d="M256.3 243.62h0M260.76 243.62h0M265.21 243.62h0M269.67 243.62h0M274.12 243.62h0M278.58 243.62h0M283.04 243.62h0M287.49 243.62h0M291.95 243.62h0M296.4 243.62h0M300.86 243.62h0M305.32 243.62h0M309.77 243.62h0M314.23 243.62h0M318.68 243.62h0M323.14 243.62h0M327.6 243.62h0M332.05 243.62h0M336.51 243.62h0M340.96 243.62h0M345.42 243.62h0M349.88 243.62h0M354.33 243.62h0M358.79 243.62h0M363.24 243.62h0"/>
<path class="d" stroke="#4c4ffc" d="M256.3 247.93h0M260.76 247.93h0M265.21 247.93h0M269.67 247.93h0M274.12 247.93h0M278.58 247.93h0M283.04 247.93h0M287.49 247.93h0M291.95 247.93h0M296.4 247.93h0M300.86 247.93h0M305.32 247.93h0M309.77 247.93h0M314.23 247.93h0M318.68 247.93h0M323.14 247.93h0M327.6 247.93h0M332.05 247.93h0M336.51 247.93h0M340.96 247.93h0M345.42 247.93h0M349.88 247.93h0M354.33 247.93h0M358.79 247.93h0M363.24 247.93h0M367.7 247.93h0"/>
<path class="d" stroke="#504afc" d="M256.3 252.23h0M260.76 252.23h0M265.21 252.23h0M269.67 252.23h0M274.12 252.23h0M278.58 252.23h0M283.04 252.23h0M287.49 252.23h0M291.95 252.23h0M296.4 252.23h0M300.86 252.23h0M305.32 252.23h0M309.77 252.23h0M314.23 252.23h0M318.68 252.23h0M323.14 252.23h0M327.6 252.23h0M332.05 252.23h0M336.51 252.23h0M340.96 252.23h0M345.42 252.23h0M349.88 252.23h0M354.33 252.23h0M358.79 252.23h0M363.24 252.23h0M367.7 252.23h0"/>
<path class="d" stroke="#5444fd" d="M256.3 256.53h0M260.76 256.53h0M265.21 256.53h0M269.67 256.53h0M274.12 256.53h0M278.58 256.53h0M283.04 256.53h0M287.49 256.53h0M291.95 256.53h0M296.4 256.53h0M300.86 256.53h0M305.32 256.53h0M309.77 256.53h0M314.23 256.53h0M318.68 256.53h0M323.14 256.53h0M327.6 256.53h0M332.05 256.53h0M336.51 256.53h0M340.96 256.53h0M345.42 256.53h0M349.88 256.53h0M354.33 256.53h0M358.79 256.53h0M363.24 256.53h0M367.7 256.53h0M372.16 256.53h0"/>
<path class="d" stroke="#573ffd" d="M256.3 260.84h0M260.76 260.84h0M265.21 260.84h0M269.67 260.84h0M274.12 260.84h0M278.58 260.84h0M283.04 260.84h0M287.49 260.84h0M291.95 260.84h0M296.4 260.84h0M300.86 260.84h0M305.32 260.84h0M309.77 260.84h0M314.23 260.84h0M318.68 260.84h0M323.14 260.84h0M327.6 260.84h0M332.05 260.84h0M336.51 260.84h0M340.96 260.84h0M345.42 260.84h0M349.88 260.84h0M354.33 260.84h0M358.79 260.84h0M363.24 260.84h0M367.7 260.84h0M372.16 260.84h0"/>
<path class="d" stroke="#5b39fd" d="M256.3 265.14h0M260.76 265.14h0M265.21 265.14h0M269.67 265.14h0M274.12 265.14h0M278.58 265.14h0M283.04 265.14h0M287.49 265.14h0M291.95 265.14h0M296.4 265.14h0M300.86 265.14h0M305.32 265.14h0M309.77 265.14h0M314.23 265.14h0M318.68 265.14h0M323.14 265.14h0M327.6 265.14h0M332.05 265.14h0M336.51 265.14h0M340.96 265.14h0M345.42 265.14h0M349.88 265.14h0M354.33 265.14h0M358.79 265.14h0M363.24 265.14h0M367.7 265.14h0M372.16 265.14h0M376.61 265.14h0"/>
<path class="d" stroke="#5f33fe" d="M256.3 269.45h0M260.76 269.45h0M265.21 269.45h0M269.67 269.45h0M274.12 269.45h0M278.58 269.45h0M283.04 269.45h0M287.49 269.45h0M291.95 269.45h0M296.4 269.45h0M300.86 269.45h0M305.32 269.45h0M309.77 269.45h0M314.23 269.45h0M318.68 269.45h0M323.14 269.45h0M327.6 269.45h0M332.05 269.45h0M336.51 269.45h0M340.96 269.45h0M345.42 269.45h0M349.88 269.45h0M354.33 269.45h0M358.79 269.45h0M363.24 269.45h0M367.7 269.45h0M372.16 269.45h0M376.61 269.45h0M381.07 269.45h0M385.52 269.45h0M389.98 269.45h0"/>
<path class="d" stroke="#622efe" d="M256.3 273.75h0M260.76 273.75h0M265.21 273.75h0M269.67 273.75h0M274.12 273.75h0M278.58 273.75h0M283.04 273.75h0M287.49 273.75h0M291.95 273.75h0M296.4 273.75h0M300.86 273.75h0M305.32 273.75h0M309.77 273.75h0M314.23 273.75h0M318.68 273.75h0M323.14 273.75h0M327.6 273.75h0M332.05 273.75h0M336.51 273.75h0M340.96 273.75h0M345.42 273.75h0M349.88 273.75h0M354.33 273.75h0M358.79 273.75h0M363.24 273.75h0M367.7 273.75h0M372.16 273.75h0M376.61 273.75h0M381.07 273.75h0M385.52 273.75h0M389.98 273.75h0M394.44 273.75h0M398.89 273.75h0M403.35 273.75h0M407.8 273.75h0M412.26 273.75h0M416.72 273.75h0M421.17 273.75h0M425.63 273.75h0M430.08 273.75h0"/>
<path class="d" stroke="#6628fe" d="M256.3 278.06h0M260.76 278.06h0M265.21 278.06h0M269.67 278.06h0M274.12 278.06h0M278.58 278.06h0M283.04 278.06h0M287.49 278.06h0M291.95 278.06h0M296.4 278.06h0M300.86 278.06h0M305.32 278.06h0M309.77 278.06h0M314.23 278.06h0M318.68 278.06h0M323.14 278.06h0M327.6 278.06h0M332.05 278.06h0M336.51 278.06h0M340.96 278.06h0M345.42 278.06h0M349.88 278.06h0M354.33 278.06h0M358.79 278.06h0M363.24 278.06h0M367.7 278.06h0M372.16 278.06h0M376.61 278.06h0M381.07 278.06h0M385.52 278.06h0M389.98 278.06h0M394.44 278.06h0M398.89 278.06h0M403.35 278.06h0M407.8 278.06h0M412.26 278.06h0M416.72 278.06h0M421.17 278.06h0M425.63 278.06h0M430.08 278.06h0"/>
<path class="d" stroke="#6a22fe" d="M256.3 282.37h0M260.76 282.37h0M265.21 282.37h0M269.67 282.37h0M274.12 282.37h0M278.58 282.37h0M283.04 282.37h0M287.49 282.37h0M291.95 282.37h0M296.4 282.37h0M300.86 282.37h0M305.32 282.37h0M309.77 282.37h0M314.23 282.37h0M318.68 282.37h0M323.14 282.37h0M327.6 282.37h0M332.05 282.37h0M336.51 282.37h0M340.96 282.37h0M345.42 282.37h0M349.88 282.37h0M354.33 282.37h0M358.79 282.37h0M363.24 282.37h0M367.7 282.37h0M372.16 282.37h0M376.61 282.37h0M381.07 282.37h0M385.52 282.37h0M389.98 282.37h0M394.44 282.37h0M398.89 282.37h0M403.35 282.37h0M407.8 282.37h0M412.26 282.37h0M416.72 282.37h0M421.17 282.37h0M425.63 282.37h0M430.08 282.37h0"/>
<path class="d" stroke="#6d1dff" d="M256.3 286.67h0M260.76 286.67h0M265.21 286.67h0M269.67 286.67h0M274.12 286.67h0M278.58 286.67h0M283.04 286.67h0M287.49 286.67h0M291.95 286.67h0M296.4 286.67h0M300.86 286.67h0M305.32 286.67h0M309.77 286.67h0M314.23 286.67h0M318.68 286.67h0M323.14 286.67h0M327.6 286.67h0M332.05 286.67h0M336.51 286.67h0M340.96 286.67h0M345.42 286.67h0M349.88 286.67h0M354.33 286.67h0M358.79 286.67h0M363.24 286.67h0M367.7 286.67h0M372.16 286.67h0M376.61 286.67h0M381.07 286.67h0M385.52 286.67h0M389.98 286.67h0M394.44 286.67h0M398.89 286.67h0M403.35 286.67h0M407.8 286.67h0M412.26 286.67h0M416.72 286.67h0M421.17 286.67h0M425.63 286.67h0M430.08 286.67h0"/>
<path class="d" stroke="#7117ff" d="M256.3 290.98h0M260.76 290.98h0M265.21 290.98h0M269.67 290.98h0M274.12 290.98h0M278.58 290.98h0M283.04 290.98h0M287.49 290.98h0M291.95 290.98h0M296.4 290.98h0M300.86 290.98h0M305.32 290.98h0M309.77 290.98h0M314.23 290.98h0M318.68 290.98h0M323.14 290.98h0M327.6 290.98h0M332.05 290.98h0M336.51 290.98h0M340.96 290.98h0M345.42 290.98h0M349.88 290.98h0M354.33 290.98h0M358.79 290.98h0M363.24 290.98h0M367.7 290.98h0M372.16 290.98h0M376.61 290.98h0M381.07 290.98h0M385.52 290.98h0M389.98 290.98h0M394.44 290.98h0M398.89 290.98h0M403.35 290.98h0M407.8 290.98h0M412.26 290.98h0M416.72 290.98h0M421.17 290.98h0M425.63 290.98h0M430.08 290.98h0"/>
<path class="d" stroke="#7511ff" d="M256.3 295.28h0M260.76 295.28h0M265.21 295.28h0M269.67 295.28h0M274.12 295.28h0M278.58 295.28h0M283.04 295.28h0M287.49 295.28h0M291.95 295.28h0M296.4 295.28h0M300.86 295.28h0M305.32 295.28h0M309.77 295.28h0M314.23 295.28h0M318.68 295.28h0M323.14 295.28h0M327.6 295.28h0M332.05 295.28h0M336.51 295.28h0M340.96 295.28h0M345.42 295.28h0M349.88 295.28h0M354.33 295.28h0M358.79 295.28h0M363.24 295.28h0M367.7 295.28h0M372.16 295.28h0M376.61 295.28h0M381.07 295.28h0M385.52 295.28h0M389.98 295.28h0M394.44 295.28h0M398.89 295.28h0M403.35 295.28h0M407.8 295.28h0M412.26 295.28h0M416.72 295.28h0M421.17 295.28h0M425.63 295.28h0M430.08 295.28h0"/>
<path class="d" stroke="#780bff" d="M256.3 299.59h0M260.76 299.59h0M265.21 299.59h0M269.67 299.59h0M274.12 299.59h0M278.58 299.59h0M283.04 299.59h0M287.49 299.59h0M291.95 299.59h0M296.4 299.59h0M300.86 299.59h0M305.32 299.59h0M309.77 299.59h0M314.23 299.59h0M318.68 299.59h0M323.14 299.59h0M327.6 299.59h0M332.05 299.59h0M336.51 299.59h0M340.96 299.59h0M345.42 299.59h0M349.88 299.59h0M354.33 299.59h0M358.79 299.59h0M363.24 299.59h0M367.7 299.59h0M372.16 299.59h0M376.61 299.59h0M381.07 299.59h0M385.52 299.59h0M389.98 299.59h0M394.44 299.59h0M398.89 299.59h0M403.35 299.59h0M407.8 299.59h0M412.26 299.59h0M416.72 299.59h0M421.17 299.59h0M425.63 299.59h0M430.08 299.59h0"/>
<path class="d" stroke="#7c06ff" d="M256.3 303.89h0M260.76 303.89h0M265.21 303.89h0M269.67 303.89h0M274.12 303.89h0M278.58 303.89h0M283.04 303.89h0M287.49 303.89h0M291.95 303.89h0M296.4 303.89h0M300.86 303.89h0M305.32 303.89h0M309.77 303.89h0M314.23 303.89h0M318.68 303.89h0M323.14 303.89h0M327.6 303.89h0M332.05 303.89h0M336.51 303.89h0M340.96 303.89h0M345.42 303.89h0M349.88 303.89h0M354.33 303.89h0M358.79 303.89h0M363.24 303.89h0M367.7 303.89h0M372.16 303.89h0M376.61 303.89h0M381.07 303.89h0M385.52 303.89h0M389.98 303.89h0M394.44 303.89h0M398.89 303.89h0M403.35 303.89h0M407.8 303.89h0M412.26 303.89h0M416.72 303.89h0M421.17 303.89h0M425.63 303.89h0M430.08 303.89h0"/>
<path class="d" stroke="#8000ff" d="M256.3 308.19h0M260.76 308.19h0M265.21 308.19h0M269.67 308.19h0M274.12 308.19h0M278.58 308.19h0M283.04 308.19h0M287.49 308.19h0M291.95 308.19h0M296.4 308.19h0M300.86 308.19h0M305.32 308.19h0M309.77 308.19h0M314.23 308.19h0M318.68 308.19h0M323.14 308.19h0M327.6 308.19h0M332.05 308.19h0M336.51 308.19h0M340.96 308.19h0M345.42 308.19h0M349.88 308.19h0M354.33 308.19h0M358.79 308.19h0M363.24 308.19h0M367.7 308.19h0M372.16 308.19h0M376.61 308.19h0M381.07 308.19h0M385.52 308.19h0M389.98 308.19h0M394.44 308.19h0M398.89 308.19h0M403.35 308.19h0M407.8 308.19h0M412.26 308.19h0M416.72 308.19h0M421.17 308.19h0M425.63 308.19h0M430.08 308.19h0"/>
<path class="d" stroke="#ff0000" d="M256.3 140.3h0M260.76 140.3h0M265.21 140.3h0M269.67 140.3h0M274.12 140.3h0M278.58 140.3h0M283.04 140.3h0M287.49 140.3h0M291.95 140.3h0M296.4 140.3h0M300.86 140.3h0M305.32 140.3h0M309.77 140.3h0M314.23 140.3h0M318.68 140.3h0M323.14 140.3h0M327.6 140.3h0M332.05 140.3h0M336.51 140.3h0M340.96 140.3h0M345.42 140.3h0M349.88 140.3h0M354.33 140.3h0M358.79 140.3h0M363.24 140.3h0M367.7 140.3h0M372.16 140.3h0M376.61 140.3h0M381.07 140.3h0M385.52 140.3h0M389.98 140.3h0M394.44 140.3h0M398.89 140.3h0M403.35 140.3h0M407.8 140.3h0M412.26 140.3h0M416.72 140.3h0M421.17 140.3h0M425.63 140.3h0M430.08 140.3h0M256.3 144.61h0M260.76 144.61h0M265.21 144.61h0M269.67 144.61h0M274.12 144.61h0M278.58 144.61h0M283.04 144.61h0M287.49 144.61h0M291.95 144.61h0M296.4 144.61h0M300.86 144.61h0M305.32 144.61h0M309.77 144.61h0M314.23 144.61h0M318.68 144.61h0M323.14 144.61h0M327.6 144.61h0M332.05 144.61h0M336.51 144.61h0M340.96 144.61h0M345.42 144.61h0M349.88 144.61h0M354.33 144.61h0M358.79 144.61h0M363.24 144.61h0M367.7 144.61h0M372.16 144.61h0M376.61 144.61h0M381.07 144.61h0M385.52 144.61h0M389.98 144.61h0M394.44 144.61h0M398.89 144.61h0M403.35 144.61h0M407.8 144.61h0M412.26 144.61h0M416.72 144.61h0M421.17 144.61h0M425.63 144.61h0M430.08 144.61h0M256.3 148.91h0M260.76 148.91h0M265.21 148.91h0M269.67 148.91h0M274.12 148.91h0M278.58 148.91h0M283.04 148.91h0M287.49 148.91h0M291.95 148.91h0M296.4 148.91h0M300.86 148.91h0M305.32 148.91h0M309.77 148.91h0M314.23 148.91h0M318.68 148.91h0M323.14 148.91h0M327.6 148.91h0M332.05 148.91h0M336.51 148.91h0M340.96 148.91h0M345.42 148.91h0M349.88 148.91h0M354.33 148.91h0M358.79 148.91h0M363.24 148.91h0M367.7 148.91h0M372.16 148.91h0M376.61 148.91h0M381.07 148.91h0M385.52 148.91h0M389.98 148.91h0M394.44 148.91h0M398.89 148.91h0M403.35 148.91h0M407.8 148.91h0M412.26 148.91h0M416.72 148.91h0M421.17 148.91h0M425.63 148.91h0M430.08 148.91h0M256.3 153.22h0M260.76 153.22h0M265.21 153.22h0M269.67 153.22h0M274.12 153.22h0M278.58 153.22h0M283.04 153.22h0M287.49 153.22h0M291.95 153.22h0M296.4 153.22h0M300.86 153.22h0M305.32 153.22h0M309.77 153.22h0M314.23 153.22h0M318.68 153.22h0M323.14 153.22h0M327.6 153.22h0M332.05 153.22h0M336.51 153.22h0M340.96 153.22h0M345.42 153.22h0M349.88 153.22h0M354.33 153.22h0M358.79 153.22h0M363.24 153.22h0M367.7 153.22h0M372.16 153.22h0M376.61 153.22h0M381.07 153.22h0M385.52 153.22h0M389.98 153.22h0M394.44 153.22h0M398.89 153.22h0M403.35 153.22h0M407.8 153.22h0M412.26 153.22h0M416.72 153.22h0M421.17 153.22h0M425.63 153.22h0M430.08 153.22h0M256.3 157.52h0M260.76 157.52h0M265.21 157.52h0M269.67 157.52h0M274.12 157.52h0M278.58 157.52h0M283.04 157.52h0M287.49 157.52h0M291.95 157.52h0M296.4 157.52h0M300.86 157.52h0M305.32 157.52h0M309.77 157.52h0M314.23 157.52h0M318.68 157.52h0M323.14 157.52h0M327.6 157.52h0M332.05 157.52h0M336.51 157.52h0M340.96 157.52h0M345.42 157.52h0M349.88 157.52h0M354.33 157.52h0M358.79 157.52h0M363.24 157.52h0M367.7 157.52h0M372.16 157.52h0M376.61 157.52h0M381.07 157.52h0M385.52 157.52h0M389.98 157.52h0M394.44 157.52h0M398.89 157.52h0M403.35 157.52h0M407.8 157.52h0M412.26 157.52h0M416.72 157.52h0M421.17 157.52h0M425.63 157.52h0M430.08 157.52h0M256.3 161.83h0M260.76 161.83h0M265.21 161.83h0M269.67 161.83h0M274.12 161.83h0M278.58 161.83h0M283.04 161.83h0M287.49 161.83h0M291.95 161.83h0M296.4 161.83h0M300.86 161.83h0M305.32 161.83h0M309.77 161.83h0M314.23 161.83h0M318.68 161.83h0M323.14 161.83h0M327.6 161.83h0M332.05 161.83h0M336.51 161.83h0M340.96 161.83h0M345.42 161.83h0M349.88 161.83h0M354.33 161.83h0M358.79 161.83h0M363.24 161.83h0M367.7 161.83h0M372.16 161.83h0M376.61 161.83h0M381.07 161.83h0M385.52 161.83h0M389.98 161.83h0M394.44 161.83h0M398.89 161.83h0M403.35 161.83h0M407.8 161.83h0M412.26 161.83h0M416.72 161.83h0M421.17 161.83h0M425.63 161.83h0M430.08 161.83h0M256.3 166.13h0M260.76 166.13h0M265.21 166.13h0M269.67 166.13h0M274.12 166.13h0M278.58 166.13h0M283.04 166.13h0M287.49 166.13h0M291.95 166.13h0M296.4 166.13h0M300.86 166.13h0M305.32 166.13h0M309.77 166.13h0M314.23 166.13h0M318.68 166.13h0M323.14 166.13h0M327.6 166.13h0M332.05 166.13h0M336.51 166.13h0M340.96 166.13h0M345.42 166.13h0M349.88 166.13h0M354.33 166.13h0M358.79 166.13h0M363.24 166.13h0M367.7 166.13h0M372.16 166.13h0M376.61 166.13h0M381.07 166.13h0M385.52 166.13h0M389.98 166.13h0M394.44 166.13h0M398.89 166.13h0M403.35 166.13h0M407.8 166.13h0M412.26 166.13h0M416.72 166.13h0M421.17 166.13h0M425.63 166.13h0M430.08 166.13h0M256.3 170.44h0M260.76 170.44h0M265.21 170.44h0M269.67 170.44h0M274.12 170.44h0M278.58 170.44h0M283.04 170.44h0M287.49 170.44h0M291.95 170.44h0M296.4 170.44h0M300.86 170.44h0M305.32 170.44h0M309.77 170.44h0M314.23 170.44h0M318.68 170.44h0M323.14 170.44h0M327.6 170.44h0M332.05 170.44h0M336.51 170.44h0M340.96 170.44h0M345.42 170.44h0M349.88 170.44h0M354.33 170.44h0M358.79 170.44h0M363.24 170.44h0M367.7 170.44h0M372.16 170.44h0M376.61 170.44h0M381.07 170.44h0M385.52 170.44h0M389.98 170.44h0M394.44 170.44h0M398.89 170.44h0M403.35 170.44h0M407.8 170.44h0M412.26 170.44h0M416.72 170.44h0M421.17 170.44h0M425.63 170.44h0M430.08 170.44h0M256.3 174.74h0M260.76 174.74h0M265.21 174.74h0M269.67 174.74h0M274.12 174.74h0M278.58 174.74h0M283.04 174.74h0M287.49 174.74h0M291.95 174.74h0M296.4 174.74h0M300.86 174.74h0M305.32 174.74h0M309.77 174.74h0M314.23 174.74h0M318.68 174.74h0M323.14 174.74h0M327.6 174.74h0M332.05 174.74h0M336.51 174.74h0M340.96 174.74h0M345.42 174.74h0M349.88 174.74h0M354.33 174.74h0M358.79 174.74h0M363.24 174.74h0M367.7 174.74h0M372.16 174.74h0M376.61 174.74h0M381.07 174.74h0M385.52 174.74h0M389.98 174.74h0M394.44 174.74h0M398.89 174.74h0M403.35 174.74h0M407.8 174.74h0M412.26 174.74h0M416.72 174.74h0M421.17 174.74h0M425.63 174.74h0M430.08 174.74h0M256.3 179.05h0M260.76 179.05h0M265.21 179.05h0M269.67 179.05h0M274.12 179.05h0M278.58 179.05h0M283.04 179.05h0M287.49 179.05h0M291.95 179.05h0M296.4 179.05h0M300.86 179.05h0M305.32 179.05h0M309.77 179.05h0M314.23 179.05h0M318.68 179.05h0M323.14 179.05h0M327.6 179.05h0M332.05 179.05h0M336.51 179.05h0M340.96 179.05h0M345.42 179.05h0M349.88 179.05h0M354.33 179.05h0M358.79 179.05h0M363.24 179.05h0M367.7 179.05h0M372.16 179.05h0M376.61 179.05h0M381.07 179.05h0M385.52 179.05h0M389.98 179.05h0M394.44 179.05h0M398.89 179.05h0M403.35 179.05h0M407.8 179.05h0M412.26 179.05h0M416.72 179.05h0M421.17 179.05h0M425.63 179.05h0M430.08 179.05h0M256.3 183.35h0M260.76 183.35h0M265.21 183.35h0M269.67 183.35h0M274.12 183.35h0M278.58 183.35h0M283.04 183.35h0M287.49 183.35h0M291.95 183.35h0M296.4 183.35h0M300.86 183.35h0M305.32 183.35h0M309.77 183.35h0M314.23 183.35h0M318.68 183.35h0M323.14 183.35h0M327.6 183.35h0M332.05 183.35h0M336.51 183.35h0M340.96 183.35h0M345.42 183.35h0M349.88 183.35h0M354.33 183.35h0M358.79 183.35h0M363.24 183.35h0M367.7 183.35h0M372.16 183.35h0M376.61 183.35h0M381.07 183.35h0M385.52 183.35h0M389.98 183.35h0M394.44 183.35h0M398.89 183.35h0M403.35 183.35h0M407.8 183.35h0M412.26 183.35h0M416.72 183.35h0M421.17 183.35h0M425.63 183.35h0M430.08 183.35h0M327.6 187.66h0M332.05 187.66h0M336.51 187.66h0M340.96 187.66h0M345.42 187.66h0M349.88 187.66h0M354.33 187.66h0M358.79 187.66h0M363.24 187.66h0M367.7 187.66h0M372.16 187.66h0M376.61 187.66h0M381.07 187.66h0M385.52 187.66h0M389.98 187.66h0M394.44 187.66h0M398.89 187.66h0M403.35 187.66h0M407.8 187.66h0M412.26 187.66h0M416.72 187.66h0M421.17 187.66h0M425.63 187.66h0M430.08 187.66h0M345.42 191.96h0M349.88 191.96h0M354.33 191.96h0M358.79 191.96h0M363.24 191.96h0M367.7 191.96h0M372.16 191.96h0M376.61 191.96h0M381.07 191.96h0M385.52 191.96h0M389.98 191.96h0M394.44 191.96h0M398.89 191.96h0M403.35 191.96h0M407.8 191.96h0M412.26 191.96h0M416.72 191.96h0M421.17 191.96h0M425.63 191.96h0M430.08 191.96h0M345.42 196.27h0M349.88 196.27h0M358.79 196.27h0M363.24 196.27h0M367.7 196.27h0M372.16 196.27h0M376.61 196.27h0M381.07 196.27h0M385.52 196.27h0M389.98 196.27h0M394.44 196.27h0M398.89 196.27h0M403.35 196.27h0M407.8 196.27h0M412.26 196.27h0M416.72 196.27h0M421.17 196.27h0M425.63 196.27h0M430.08 196.27h0M363.24 200.57h0M367.7 200.57h0M372.16 200.57h0M376.61 200.57h0M381.07 200.57h0M385.52 200.57h0M389.98 200.57h0M394.44 200.57h0M398.89 200.57h0M403.35 200.57h0M407.8 200.57h0M412.26 200.57h0M416.72 200.57h0M421.17 200.57h0M425.63 200.57h0M430.08 200.57h0M363.24 204.88h0M367.7 204.88h0M372.16 204.88h0M376.61 204.88h0M381.07 204.88h0M385.52 204.88h0M389.98 204.88h0M394.44 204.88h0M398.89 204.88h0M403.35 204.88h0M407.8 204.88h0M412.26 204.88h0M416.72 204.88h0M421.17 204.88h0M425.63 204.88h0M430.08 204.88h0M363.24 209.18h0M367.7 209.18h0M372.16 209.18h0M376.61 209.18h0M381.07 209.18h0M385.52 209.18h0M389.98 209.18h0M394.44 209.18h0M398.89 209.18h0M403.35 209.18h0M407.8 209.18h0M412.26 209.18h0M416.72 209.18h0M421.17 209.18h0M425.63 209.18h0M430.08 209.18h0M363.24 213.49h0M367.7 213.49h0M372.16 213.49h0M376.61 213.49h0M381.07 213.49h0M385.52 213.49h0M389.98 213.49h0M394.44 213.49h0M398.89 213.49h0M403.35 213.49h0M407.8 213.49h0M412.26 213.49h0M416.72 213.49h0M421.17 213.49h0M425.63 213.49h0M430.08 213.49h0M363.24 217.79h0M367.7 217.79h0M372.16 217.79h0M376.61 217.79h0M381.07 217.79h0M385.52 217.79h0M389.98 217.79h0M394.44 217.79h0M398.89 217.79h0M403.35 217.79h0M407.8 217.79h0M412.26 217.79h0M416.72 217.79h0M421.17 217.79h0M425.63 217.79h0M430.08 217.79h0M367.7 222.09h0M372.16 222.09h0M376.61 222.09h0M381.07 222.09h0M385.52 222.09h0M389.98 222.09h0M394.44 222.09h0M398.89 222.09h0M403.35 222.09h0M407.8 222.09h0M412.26 222.09h0M416.72 222.09h0M421.17 222.09h0M425.63 222.09h0M430.08 222.09h0M367.7 226.4h0M372.16 226.4h0M376.61 226.4h0M381.07 226.4h0M385.52 226.4h0M389.98 226.4h0M394.44 226.4h0M398.89 226.4h0M403.35 226.4h0M407.8 226.4h0M412.26 226.4h0M416.72 226.4h0M421.17 226.4h0M425.63 226.4h0M430.08 226.4h0M367.7 230.71h0M372.16 230.71h0M376.61 230.71h0M381.07 230.71h0M385.52 230.71h0M389.98 230.71h0M394.44 230.71h0M398.89 230.71h0M403.35 230.71h0M407.8 230.71h0M412.26 230.71h0M416.72 230.71h0M421.17 230.71h0M425.63 230.71h0M430.08 230.71h0M367.7 235.01h0M372.16 235.01h0M376.61 235.01h0M381.07 235.01h0M385.52 235.01h0M389.98 235.01h0M394.44 235.01h0M398.89 235.01h0M403.35 235.01h0M407.8 235.01h0M412.26 235.01h0M416.72 235.01h0M421.17 235.01h0M425.63 235.01h0M430.08 235.01h0M367.7 239.31h0M372.16 239.31h0M376.61 239.31h0M381.07 239.31h0M385.52 239.31h0M389.98 239.31h0M394.44 239.31h0M398.89 239.31h0M403.35 239.31h0M407.8 239.31h0M412.26 239.31h0M416.72 239.31h0M421.17 239.31h0M425.63 239.31h0M430.08 239.31h0M367.7 243.62h0M372.16 243.62h0M376.61 243.62h0M381.07 243.62h0M385.52 243.62h0M389.98 243.62h0M394.44 243.62h0M398.89 243.62h0M403.35 243.62h0M407.8 243.62h0M412.26 243.62h0M416.72 243.62h0M421.17 243.62h0M425.63 243.62h0M430.08 243.62h0M372.16 247.93h0M376.61 247.93h0M381.07 247.93h0M385.52 247.93h0M389.98 247.93h0M394.44 247.93h0M398.89 247.93h0M403.35 247.93h0M407.8 247.93h0M412.26 247.93h0M416.72 247.93h0M421.17 247.93h0M425.63 247.93h0M430.08 247.93h0M372.16 252.23h0M376.61 252.23h0M381.07 252.23h0M385.52 252.23h0M389.98 252.23h0M394.44 252.23h0M398.89 252.23h0M403.35 252.23h0M407.8 252.23h0M412.26 252.23h0M416.72 252.23h0M421.17 252.23h0M425.63 252.23h0M430.08 252.23h0M376.61 256.53h0M381.07 256.53h0M385.52 256.53h0M389.98 256.53h0M394.44 256.53h0M398.89 256.53h0M403.35 256.53h0M407.8 256.53h0M412.26 256.53h0M416.72 256.53h0M421.17 256.53h0M425.63 256.53h0M430.08 256.53h0M376.61 260.84h0M381.07 260.84h0M385.52 260.84h0M389.98 260.84h0M394.44 260.84h0M398.89 260.84h0M403.35 260.84h0M407.8 260.84h0M412.26 260.84h0M416.72 260.84h0M421.17 260.84h0M425.63 260.84h0M430.08 260.84h0M381.07 265.14h0M385.52 265.14h0M389.98 265.14h0M394.44 265.14h0M398.89 265.14h0M403.35 265.14h0M407.8 265.14h0M412.26 265.14h0M416.72 265.14h0M421.17 265.14h0M425.63 265.14h0M430.08 265.14h0M394.44 269.45h0M398.89 269.45h0M403.35 269.45h0M407.8 269.45h0M412.26 269.45h0M416.72 269.45h0M421.17 269.45h0M425.63 269.45h0M430.08 269.45h0"/>
<polyline fill="none" stroke="#111" stroke-width="1.1" stroke-linejoin="round" points="256.3,185.5 323.14,185.5 327.6,189.81 340.96,189.81 343.19,191.96 343.19,196.27 345.42,198.42 349.88,198.42 354.33,194.11 361.02,200.57 361.02,217.79 365.47,222.09 365.47,243.62 369.93,247.93 369.93,252.23 374.38,256.53 374.38,260.84 381.07,267.3 389.98,267.3 394.44,271.6 430.08,271.6"/>
<rect x="247.4" y="132.5" width="191.3" height="184" fill="none" stroke="#6a6a6a" stroke-width="0.85"/>
<path d="M256.3 316.5v3.2M299.75 316.5v3.2M343.19 316.5v3.2M386.64 316.5v3.2M430.08 316.5v3.2M438.7 308.19h3.2M438.7 248.23h3.2M438.7 188.27h3.2" fill="none" stroke="#404040" stroke-width="0.9"/>
<text y="127" font-size="13.6"><tspan x="318.15" textLength="10.4" lengthAdjust="spacingAndGlyphs">Δ</tspan><tspan class="i" x="329.15">x</tspan><tspan x="338.45" textLength="10.2" lengthAdjust="spacingAndGlyphs">=</tspan><tspan x="351.25" textLength="17.2" lengthAdjust="spacingAndGlyphs">0.9</tspan></text>
</g>
<g>
<path d="M461.5 132.5v184M504.95 132.5v184M548.39 132.5v184M591.84 132.5v184M635.28 132.5v184M452.5 308.19h191.3M452.5 248.23h191.3M452.5 188.27h191.3" fill="none" stroke="#f1f1f1" stroke-width="0.8"/>
<path class="d" stroke="#1997f2" d="M461.5 187.66h0M465.96 187.66h0M470.41 187.66h0M474.87 187.66h0M479.32 187.66h0M483.78 187.66h0M488.24 187.66h0M492.69 187.66h0M497.15 187.66h0M501.6 187.66h0M506.06 187.66h0M510.52 187.66h0M514.97 187.66h0M519.43 187.66h0"/>
<path class="d" stroke="#1cc2e2" d="M519.43 187.66h0"/>
<path class="d" stroke="#19aaea" d="M514.97 187.66h0"/>
<path class="d" stroke="#1a9eee" d="M510.52 187.66h0"/>
<path class="d" stroke="#1d92f3" d="M461.5 191.96h0M465.96 191.96h0M470.41 191.96h0M474.87 191.96h0M479.32 191.96h0M483.78 191.96h0M488.24 191.96h0M492.69 191.96h0M497.15 191.96h0M501.6 191.96h0M506.06 191.96h0M510.52 191.96h0M514.97 191.96h0M519.43 191.96h0M523.88 191.96h0M528.34 191.96h0"/>
<path class="d" stroke="#208df4" d="M461.5 196.27h0M465.96 196.27h0M470.41 196.27h0M474.87 196.27h0M479.32 196.27h0M483.78 196.27h0M488.24 196.27h0M492.69 196.27h0M497.15 196.27h0M501.6 196.27h0M506.06 196.27h0M510.52 196.27h0M514.97 196.27h0M519.43 196.27h0M523.88 196.27h0M528.34 196.27h0"/>
<path class="d" stroke="#2488f5" d="M461.5 200.57h0M465.96 200.57h0M470.41 200.57h0M474.87 200.57h0M479.32 200.57h0M483.78 200.57h0M488.24 200.57h0M492.69 200.57h0M497.15 200.57h0M501.6 200.57h0M506.06 200.57h0M510.52 200.57h0M514.97 200.57h0M519.43 200.57h0M523.88 200.57h0M528.34 200.57h0M532.8 200.57h0"/>
<path class="d" stroke="#2883f6" d="M461.5 204.88h0M465.96 204.88h0M470.41 204.88h0M474.87 204.88h0M479.32 204.88h0M483.78 204.88h0M488.24 204.88h0M492.69 204.88h0M497.15 204.88h0M501.6 204.88h0M506.06 204.88h0M510.52 204.88h0M514.97 204.88h0M519.43 204.88h0M523.88 204.88h0M528.34 204.88h0M532.8 204.88h0"/>
<path class="d" stroke="#2b7ef6" d="M461.5 209.18h0M465.96 209.18h0M470.41 209.18h0M474.87 209.18h0M479.32 209.18h0M483.78 209.18h0M488.24 209.18h0M492.69 209.18h0M497.15 209.18h0M501.6 209.18h0M506.06 209.18h0M510.52 209.18h0M514.97 209.18h0M519.43 209.18h0M523.88 209.18h0M528.34 209.18h0M532.8 209.18h0"/>
<path class="d" stroke="#2f79f7" d="M461.5 213.49h0M465.96 213.49h0M470.41 213.49h0M474.87 213.49h0M479.32 213.49h0M483.78 213.49h0M488.24 213.49h0M492.69 213.49h0M497.15 213.49h0M501.6 213.49h0M506.06 213.49h0M510.52 213.49h0M514.97 213.49h0M519.43 213.49h0M523.88 213.49h0M528.34 213.49h0M532.8 213.49h0M537.25 213.49h0"/>
<path class="d" stroke="#3374f8" d="M461.5 217.79h0M465.96 217.79h0M470.41 217.79h0M474.87 217.79h0M479.32 217.79h0M483.78 217.79h0M488.24 217.79h0M492.69 217.79h0M497.15 217.79h0M501.6 217.79h0M506.06 217.79h0M510.52 217.79h0M514.97 217.79h0M519.43 217.79h0M523.88 217.79h0M528.34 217.79h0M532.8 217.79h0M537.25 217.79h0"/>
<path class="d" stroke="#366ff9" d="M461.5 222.09h0M465.96 222.09h0M470.41 222.09h0M474.87 222.09h0M479.32 222.09h0M483.78 222.09h0M488.24 222.09h0M492.69 222.09h0M497.15 222.09h0M501.6 222.09h0M506.06 222.09h0M510.52 222.09h0M514.97 222.09h0M519.43 222.09h0M523.88 222.09h0M528.34 222.09h0M532.8 222.09h0M537.25 222.09h0"/>
<path class="d" stroke="#3a6af9" d="M461.5 226.4h0M465.96 226.4h0M470.41 226.4h0M474.87 226.4h0M479.32 226.4h0M483.78 226.4h0M488.24 226.4h0M492.69 226.4h0M497.15 226.4h0M501.6 226.4h0M506.06 226.4h0M510.52 226.4h0M514.97 226.4h0M519.43 226.4h0M523.88 226.4h0M528.34 226.4h0M532.8 226.4h0M537.25 226.4h0"/>
<path class="d" stroke="#3e65fa" d="M461.5 230.71h0M465.96 230.71h0M470.41 230.71h0M474.87 230.71h0M479.32 230.71h0M483.78 230.71h0M488.24 230.71h0M492.69 230.71h0M497.15 230.71h0M501.6 230.71h0M506.06 230.71h0M510.52 230.71h0M514.97 230.71h0M519.43 230.71h0M523.88 230.71h0M528.34 230.71h0M532.8 230.71h0M537.25 230.71h0"/>
<path class="d" stroke="#415ffa" d="M461.5 235.01h0M465.96 235.01h0M470.41 235.01h0M474.87 235.01h0M479.32 235.01h0M483.78 235.01h0M488.24 235.01h0M492.69 235.01h0M497.15 235.01h0M501.6 235.01h0M506.06 235.01h0M510.52 235.01h0M514.97 235.01h0M519.43 235.01h0M523.88 235.01h0M528.34 235.01h0M532.8 235.01h0M537.25 235.01h0"/>
<path class="d" stroke="#455afb" d="M461.5 239.31h0M465.96 239.31h0M470.41 239.31h0M474.87 239.31h0M479.32 239.31h0M483.78 239.31h0M488.24 239.31h0M492.69 239.31h0M497.15 239.31h0M501.6 239.31h0M506.06 239.31h0M510.52 239.31h0M514.97 239.31h0M519.43 239.31h0M523.88 239.31h0M528.34 239.31h0M532.8 239.31h0M537.25 239.31h0M541.71 239.31h0"/>
<path class="d" stroke="#4955fb" d="M461.5 243.62h0M465.96 243.62h0M470.41 243.62h0M474.87 243.62h0M479.32 243.62h0M483.78 243.62h0M488.24 243.62h0M492.69 243.62h0M497.15 243.62h0M501.6 243.62h0M506.06 243.62h0M510.52 243.62h0M514.97 243.62h0M519.43 243.62h0M523.88 243.62h0M528.34 243.62h0M532.8 243.62h0M537.25 243.62h0M541.71 243.62h0"/>
<path class="d" stroke="#4c4ffc" d="M461.5 247.93h0M465.96 247.93h0M470.41 247.93h0M474.87 247.93h0M479.32 247.93h0M483.78 247.93h0M488.24 247.93h0M492.69 247.93h0M497.15 247.93h0M501.6 247.93h0M506.06 247.93h0M510.52 247.93h0M514.97 247.93h0M519.43 247.93h0M523.88 247.93h0M528.34 247.93h0M532.8 247.93h0M537.25 247.93h0M541.71 247.93h0"/>
<path class="d" stroke="#504afc" d="M461.5 252.23h0M465.96 252.23h0M470.41 252.23h0M474.87 252.23h0M479.32 252.23h0M483.78 252.23h0M488.24 252.23h0M492.69 252.23h0M497.15 252.23h0M501.6 252.23h0M506.06 252.23h0M510.52 252.23h0M514.97 252.23h0M519.43 252.23h0M523.88 252.23h0M528.34 252.23h0M532.8 252.23h0M537.25 252.23h0M541.71 252.23h0"/>
<path class="d" stroke="#5444fd" d="M461.5 256.53h0M465.96 256.53h0M470.41 256.53h0M474.87 256.53h0M479.32 256.53h0M483.78 256.53h0M488.24 256.53h0M492.69 256.53h0M497.15 256.53h0M501.6 256.53h0M506.06 256.53h0M510.52 256.53h0M514.97 256.53h0M519.43 256.53h0M523.88 256.53h0M528.34 256.53h0M532.8 256.53h0M537.25 256.53h0M541.71 256.53h0"/>
<path class="d" stroke="#573ffd" d="M461.5 260.84h0M465.96 260.84h0M470.41 260.84h0M474.87 260.84h0M479.32 260.84h0M483.78 260.84h0M488.24 260.84h0M492.69 260.84h0M497.15 260.84h0M501.6 260.84h0M506.06 260.84h0M510.52 260.84h0M514.97 260.84h0M519.43 260.84h0M523.88 260.84h0M528.34 260.84h0M532.8 260.84h0M537.25 260.84h0M541.71 260.84h0"/>
<path class="d" stroke="#5b39fd" d="M461.5 265.14h0M465.96 265.14h0M470.41 265.14h0M474.87 265.14h0M479.32 265.14h0M483.78 265.14h0M488.24 265.14h0M492.69 265.14h0M497.15 265.14h0M501.6 265.14h0M506.06 265.14h0M510.52 265.14h0M514.97 265.14h0M519.43 265.14h0M523.88 265.14h0M528.34 265.14h0M532.8 265.14h0M537.25 265.14h0M541.71 265.14h0"/>
<path class="d" stroke="#5f33fe" d="M461.5 269.45h0M465.96 269.45h0M470.41 269.45h0M474.87 269.45h0M479.32 269.45h0M483.78 269.45h0M488.24 269.45h0M492.69 269.45h0M497.15 269.45h0M501.6 269.45h0M506.06 269.45h0M510.52 269.45h0M514.97 269.45h0M519.43 269.45h0M523.88 269.45h0M528.34 269.45h0M532.8 269.45h0M537.25 269.45h0M541.71 269.45h0"/>
<path class="d" stroke="#622efe" d="M461.5 273.75h0M465.96 273.75h0M470.41 273.75h0M474.87 273.75h0M479.32 273.75h0M483.78 273.75h0M488.24 273.75h0M492.69 273.75h0M497.15 273.75h0M501.6 273.75h0M506.06 273.75h0M510.52 273.75h0M514.97 273.75h0M519.43 273.75h0M523.88 273.75h0M528.34 273.75h0M532.8 273.75h0M537.25 273.75h0M541.71 273.75h0"/>
<path class="d" stroke="#6628fe" d="M461.5 278.06h0M465.96 278.06h0M470.41 278.06h0M474.87 278.06h0M479.32 278.06h0M483.78 278.06h0M488.24 278.06h0M492.69 278.06h0M497.15 278.06h0M501.6 278.06h0M506.06 278.06h0M510.52 278.06h0M514.97 278.06h0M519.43 278.06h0M523.88 278.06h0M528.34 278.06h0M532.8 278.06h0M537.25 278.06h0M541.71 278.06h0"/>
<path class="d" stroke="#6a22fe" d="M461.5 282.37h0M465.96 282.37h0M470.41 282.37h0M474.87 282.37h0M479.32 282.37h0M483.78 282.37h0M488.24 282.37h0M492.69 282.37h0M497.15 282.37h0M501.6 282.37h0M506.06 282.37h0M510.52 282.37h0M514.97 282.37h0M519.43 282.37h0M523.88 282.37h0M528.34 282.37h0M532.8 282.37h0M537.25 282.37h0M541.71 282.37h0M546.16 282.37h0"/>
<path class="d" stroke="#6d1dff" d="M461.5 286.67h0M465.96 286.67h0M470.41 286.67h0M474.87 286.67h0M479.32 286.67h0M483.78 286.67h0M488.24 286.67h0M492.69 286.67h0M497.15 286.67h0M501.6 286.67h0M506.06 286.67h0M510.52 286.67h0M514.97 286.67h0M519.43 286.67h0M523.88 286.67h0M528.34 286.67h0M532.8 286.67h0M537.25 286.67h0M541.71 286.67h0M546.16 286.67h0M550.62 286.67h0"/>
<path class="d" stroke="#7117ff" d="M461.5 290.98h0M465.96 290.98h0M470.41 290.98h0M474.87 290.98h0M479.32 290.98h0M483.78 290.98h0M488.24 290.98h0M492.69 290.98h0M497.15 290.98h0M501.6 290.98h0M506.06 290.98h0M510.52 290.98h0M514.97 290.98h0M519.43 290.98h0M523.88 290.98h0M528.34 290.98h0M532.8 290.98h0M537.25 290.98h0M541.71 290.98h0M546.16 290.98h0M550.62 290.98h0"/>
<path class="d" stroke="#7511ff" d="M461.5 295.28h0M465.96 295.28h0M470.41 295.28h0M474.87 295.28h0M479.32 295.28h0M483.78 295.28h0M488.24 295.28h0M492.69 295.28h0M497.15 295.28h0M501.6 295.28h0M506.06 295.28h0M510.52 295.28h0M514.97 295.28h0M519.43 295.28h0M523.88 295.28h0M528.34 295.28h0M532.8 295.28h0M537.25 295.28h0M541.71 295.28h0M546.16 295.28h0M550.62 295.28h0"/>
<path class="d" stroke="#780bff" d="M461.5 299.59h0M465.96 299.59h0M470.41 299.59h0M474.87 299.59h0M479.32 299.59h0M483.78 299.59h0M488.24 299.59h0M492.69 299.59h0M497.15 299.59h0M501.6 299.59h0M506.06 299.59h0M510.52 299.59h0M514.97 299.59h0M519.43 299.59h0M523.88 299.59h0M528.34 299.59h0M532.8 299.59h0M537.25 299.59h0M541.71 299.59h0M546.16 299.59h0M550.62 299.59h0"/>
<path class="d" stroke="#7c06ff" d="M461.5 303.89h0M465.96 303.89h0M470.41 303.89h0M474.87 303.89h0M479.32 303.89h0M483.78 303.89h0M488.24 303.89h0M492.69 303.89h0M497.15 303.89h0M501.6 303.89h0M506.06 303.89h0M510.52 303.89h0M514.97 303.89h0M519.43 303.89h0M523.88 303.89h0M528.34 303.89h0M532.8 303.89h0M537.25 303.89h0M541.71 303.89h0M546.16 303.89h0M550.62 303.89h0"/>
<path class="d" stroke="#8000ff" d="M461.5 308.19h0M465.96 308.19h0M470.41 308.19h0M474.87 308.19h0M479.32 308.19h0M483.78 308.19h0M488.24 308.19h0M492.69 308.19h0M497.15 308.19h0M501.6 308.19h0M506.06 308.19h0M510.52 308.19h0M514.97 308.19h0M519.43 308.19h0M523.88 308.19h0M528.34 308.19h0M532.8 308.19h0M537.25 308.19h0M541.71 308.19h0M546.16 308.19h0M550.62 308.19h0"/>
<path class="d" stroke="#ff0000" d="M461.5 140.3h0M465.96 140.3h0M470.41 140.3h0M474.87 140.3h0M479.32 140.3h0M483.78 140.3h0M488.24 140.3h0M492.69 140.3h0M497.15 140.3h0M501.6 140.3h0M506.06 140.3h0M510.52 140.3h0M514.97 140.3h0M519.43 140.3h0M523.88 140.3h0M528.34 140.3h0M532.8 140.3h0M537.25 140.3h0M541.71 140.3h0M546.16 140.3h0M550.62 140.3h0M555.08 140.3h0M559.53 140.3h0M563.99 140.3h0M568.44 140.3h0M572.9 140.3h0M577.36 140.3h0M581.81 140.3h0M586.27 140.3h0M590.72 140.3h0M595.18 140.3h0M599.64 140.3h0M604.09 140.3h0M608.55 140.3h0M613 140.3h0M617.46 140.3h0M621.92 140.3h0M626.37 140.3h0M630.83 140.3h0M635.28 140.3h0M461.5 144.61h0M465.96 144.61h0M470.41 144.61h0M474.87 144.61h0M479.32 144.61h0M483.78 144.61h0M488.24 144.61h0M492.69 144.61h0M497.15 144.61h0M501.6 144.61h0M506.06 144.61h0M510.52 144.61h0M514.97 144.61h0M519.43 144.61h0M523.88 144.61h0M528.34 144.61h0M532.8 144.61h0M537.25 144.61h0M541.71 144.61h0M546.16 144.61h0M550.62 144.61h0M555.08 144.61h0M559.53 144.61h0M563.99 144.61h0M568.44 144.61h0M572.9 144.61h0M577.36 144.61h0M581.81 144.61h0M586.27 144.61h0M590.72 144.61h0M595.18 144.61h0M599.64 144.61h0M604.09 144.61h0M608.55 144.61h0M613 144.61h0M617.46 144.61h0M621.92 144.61h0M626.37 144.61h0M630.83 144.61h0M635.28 144.61h0M461.5 148.91h0M465.96 148.91h0M470.41 148.91h0M474.87 148.91h0M479.32 148.91h0M483.78 148.91h0M488.24 148.91h0M492.69 148.91h0M497.15 148.91h0M501.6 148.91h0M506.06 148.91h0M510.52 148.91h0M514.97 148.91h0M519.43 148.91h0M523.88 148.91h0M528.34 148.91h0M532.8 148.91h0M537.25 148.91h0M541.71 148.91h0M546.16 148.91h0M550.62 148.91h0M555.08 148.91h0M559.53 148.91h0M563.99 148.91h0M568.44 148.91h0M572.9 148.91h0M577.36 148.91h0M581.81 148.91h0M586.27 148.91h0M590.72 148.91h0M595.18 148.91h0M599.64 148.91h0M604.09 148.91h0M608.55 148.91h0M613 148.91h0M617.46 148.91h0M621.92 148.91h0M626.37 148.91h0M630.83 148.91h0M635.28 148.91h0M461.5 153.22h0M465.96 153.22h0M470.41 153.22h0M474.87 153.22h0M479.32 153.22h0M483.78 153.22h0M488.24 153.22h0M492.69 153.22h0M497.15 153.22h0M501.6 153.22h0M506.06 153.22h0M510.52 153.22h0M514.97 153.22h0M519.43 153.22h0M523.88 153.22h0M528.34 153.22h0M532.8 153.22h0M537.25 153.22h0M541.71 153.22h0M546.16 153.22h0M550.62 153.22h0M555.08 153.22h0M559.53 153.22h0M563.99 153.22h0M568.44 153.22h0M572.9 153.22h0M577.36 153.22h0M581.81 153.22h0M586.27 153.22h0M590.72 153.22h0M595.18 153.22h0M599.64 153.22h0M604.09 153.22h0M608.55 153.22h0M613 153.22h0M617.46 153.22h0M621.92 153.22h0M626.37 153.22h0M630.83 153.22h0M635.28 153.22h0M461.5 157.52h0M465.96 157.52h0M470.41 157.52h0M474.87 157.52h0M479.32 157.52h0M483.78 157.52h0M488.24 157.52h0M492.69 157.52h0M497.15 157.52h0M501.6 157.52h0M506.06 157.52h0M510.52 157.52h0M514.97 157.52h0M519.43 157.52h0M523.88 157.52h0M528.34 157.52h0M532.8 157.52h0M537.25 157.52h0M541.71 157.52h0M546.16 157.52h0M550.62 157.52h0M555.08 157.52h0M559.53 157.52h0M563.99 157.52h0M568.44 157.52h0M572.9 157.52h0M577.36 157.52h0M581.81 157.52h0M586.27 157.52h0M590.72 157.52h0M595.18 157.52h0M599.64 157.52h0M604.09 157.52h0M608.55 157.52h0M613 157.52h0M617.46 157.52h0M621.92 157.52h0M626.37 157.52h0M630.83 157.52h0M635.28 157.52h0M461.5 161.83h0M465.96 161.83h0M470.41 161.83h0M474.87 161.83h0M479.32 161.83h0M483.78 161.83h0M488.24 161.83h0M492.69 161.83h0M497.15 161.83h0M501.6 161.83h0M506.06 161.83h0M510.52 161.83h0M514.97 161.83h0M519.43 161.83h0M523.88 161.83h0M528.34 161.83h0M532.8 161.83h0M537.25 161.83h0M541.71 161.83h0M546.16 161.83h0M550.62 161.83h0M555.08 161.83h0M559.53 161.83h0M563.99 161.83h0M568.44 161.83h0M572.9 161.83h0M577.36 161.83h0M581.81 161.83h0M586.27 161.83h0M590.72 161.83h0M595.18 161.83h0M599.64 161.83h0M604.09 161.83h0M608.55 161.83h0M613 161.83h0M617.46 161.83h0M621.92 161.83h0M626.37 161.83h0M630.83 161.83h0M635.28 161.83h0M461.5 166.13h0M465.96 166.13h0M470.41 166.13h0M474.87 166.13h0M479.32 166.13h0M483.78 166.13h0M488.24 166.13h0M492.69 166.13h0M497.15 166.13h0M501.6 166.13h0M506.06 166.13h0M510.52 166.13h0M514.97 166.13h0M519.43 166.13h0M523.88 166.13h0M528.34 166.13h0M532.8 166.13h0M537.25 166.13h0M541.71 166.13h0M546.16 166.13h0M550.62 166.13h0M555.08 166.13h0M559.53 166.13h0M563.99 166.13h0M568.44 166.13h0M572.9 166.13h0M577.36 166.13h0M581.81 166.13h0M586.27 166.13h0M590.72 166.13h0M595.18 166.13h0M599.64 166.13h0M604.09 166.13h0M608.55 166.13h0M613 166.13h0M617.46 166.13h0M621.92 166.13h0M626.37 166.13h0M630.83 166.13h0M635.28 166.13h0M461.5 170.44h0M465.96 170.44h0M470.41 170.44h0M474.87 170.44h0M479.32 170.44h0M483.78 170.44h0M488.24 170.44h0M492.69 170.44h0M497.15 170.44h0M501.6 170.44h0M506.06 170.44h0M510.52 170.44h0M514.97 170.44h0M519.43 170.44h0M523.88 170.44h0M528.34 170.44h0M532.8 170.44h0M537.25 170.44h0M541.71 170.44h0M546.16 170.44h0M550.62 170.44h0M555.08 170.44h0M559.53 170.44h0M563.99 170.44h0M568.44 170.44h0M572.9 170.44h0M577.36 170.44h0M581.81 170.44h0M586.27 170.44h0M590.72 170.44h0M595.18 170.44h0M599.64 170.44h0M604.09 170.44h0M608.55 170.44h0M613 170.44h0M617.46 170.44h0M621.92 170.44h0M626.37 170.44h0M630.83 170.44h0M635.28 170.44h0M461.5 174.74h0M465.96 174.74h0M470.41 174.74h0M474.87 174.74h0M479.32 174.74h0M483.78 174.74h0M488.24 174.74h0M492.69 174.74h0M497.15 174.74h0M501.6 174.74h0M506.06 174.74h0M510.52 174.74h0M514.97 174.74h0M519.43 174.74h0M523.88 174.74h0M528.34 174.74h0M532.8 174.74h0M537.25 174.74h0M541.71 174.74h0M546.16 174.74h0M550.62 174.74h0M555.08 174.74h0M559.53 174.74h0M563.99 174.74h0M568.44 174.74h0M572.9 174.74h0M577.36 174.74h0M581.81 174.74h0M586.27 174.74h0M590.72 174.74h0M595.18 174.74h0M599.64 174.74h0M604.09 174.74h0M608.55 174.74h0M613 174.74h0M617.46 174.74h0M621.92 174.74h0M626.37 174.74h0M630.83 174.74h0M635.28 174.74h0M461.5 179.05h0M465.96 179.05h0M470.41 179.05h0M474.87 179.05h0M479.32 179.05h0M483.78 179.05h0M488.24 179.05h0M492.69 179.05h0M497.15 179.05h0M501.6 179.05h0M506.06 179.05h0M510.52 179.05h0M514.97 179.05h0M519.43 179.05h0M523.88 179.05h0M528.34 179.05h0M532.8 179.05h0M537.25 179.05h0M541.71 179.05h0M546.16 179.05h0M550.62 179.05h0M555.08 179.05h0M559.53 179.05h0M563.99 179.05h0M568.44 179.05h0M572.9 179.05h0M577.36 179.05h0M581.81 179.05h0M586.27 179.05h0M590.72 179.05h0M595.18 179.05h0M599.64 179.05h0M604.09 179.05h0M608.55 179.05h0M613 179.05h0M617.46 179.05h0M621.92 179.05h0M626.37 179.05h0M630.83 179.05h0M635.28 179.05h0M461.5 183.35h0M465.96 183.35h0M470.41 183.35h0M474.87 183.35h0M479.32 183.35h0M483.78 183.35h0M488.24 183.35h0M492.69 183.35h0M497.15 183.35h0M501.6 183.35h0M506.06 183.35h0M510.52 183.35h0M514.97 183.35h0M519.43 183.35h0M523.88 183.35h0M528.34 183.35h0M532.8 183.35h0M537.25 183.35h0M541.71 183.35h0M546.16 183.35h0M550.62 183.35h0M555.08 183.35h0M559.53 183.35h0M563.99 183.35h0M568.44 183.35h0M572.9 183.35h0M577.36 183.35h0M581.81 183.35h0M586.27 183.35h0M590.72 183.35h0M595.18 183.35h0M599.64 183.35h0M604.09 183.35h0M608.55 183.35h0M613 183.35h0M617.46 183.35h0M621.92 183.35h0M626.37 183.35h0M630.83 183.35h0M635.28 183.35h0M523.88 187.66h0M528.34 187.66h0M532.8 187.66h0M537.25 187.66h0M541.71 187.66h0M546.16 187.66h0M550.62 187.66h0M555.08 187.66h0M559.53 187.66h0M563.99 187.66h0M568.44 187.66h0M572.9 187.66h0M577.36 187.66h0M581.81 187.66h0M586.27 187.66h0M590.72 187.66h0M595.18 187.66h0M599.64 187.66h0M604.09 187.66h0M608.55 187.66h0M613 187.66h0M617.46 187.66h0M621.92 187.66h0M626.37 187.66h0M630.83 187.66h0M635.28 187.66h0M532.8 191.96h0M537.25 191.96h0M541.71 191.96h0M546.16 191.96h0M550.62 191.96h0M555.08 191.96h0M559.53 191.96h0M563.99 191.96h0M568.44 191.96h0M572.9 191.96h0M577.36 191.96h0M581.81 191.96h0M586.27 191.96h0M590.72 191.96h0M595.18 191.96h0M599.64 191.96h0M604.09 191.96h0M608.55 191.96h0M613 191.96h0M617.46 191.96h0M621.92 191.96h0M626.37 191.96h0M630.83 191.96h0M635.28 191.96h0M532.8 196.27h0M537.25 196.27h0M541.71 196.27h0M546.16 196.27h0M550.62 196.27h0M555.08 196.27h0M559.53 196.27h0M563.99 196.27h0M568.44 196.27h0M572.9 196.27h0M577.36 196.27h0M581.81 196.27h0M586.27 196.27h0M590.72 196.27h0M595.18 196.27h0M599.64 196.27h0M604.09 196.27h0M608.55 196.27h0M613 196.27h0M617.46 196.27h0M621.92 196.27h0M626.37 196.27h0M630.83 196.27h0M635.28 196.27h0M537.25 200.57h0M541.71 200.57h0M546.16 200.57h0M550.62 200.57h0M555.08 200.57h0M559.53 200.57h0M563.99 200.57h0M568.44 200.57h0M572.9 200.57h0M577.36 200.57h0M581.81 200.57h0M586.27 200.57h0M590.72 200.57h0M595.18 200.57h0M599.64 200.57h0M604.09 200.57h0M608.55 200.57h0M613 200.57h0M617.46 200.57h0M621.92 200.57h0M626.37 200.57h0M630.83 200.57h0M635.28 200.57h0M537.25 204.88h0M541.71 204.88h0M546.16 204.88h0M550.62 204.88h0M555.08 204.88h0M559.53 204.88h0M563.99 204.88h0M568.44 204.88h0M572.9 204.88h0M577.36 204.88h0M581.81 204.88h0M586.27 204.88h0M590.72 204.88h0M595.18 204.88h0M599.64 204.88h0M604.09 204.88h0M608.55 204.88h0M613 204.88h0M617.46 204.88h0M621.92 204.88h0M626.37 204.88h0M630.83 204.88h0M635.28 204.88h0M537.25 209.18h0M541.71 209.18h0M546.16 209.18h0M550.62 209.18h0M555.08 209.18h0M559.53 209.18h0M563.99 209.18h0M568.44 209.18h0M572.9 209.18h0M577.36 209.18h0M581.81 209.18h0M586.27 209.18h0M590.72 209.18h0M595.18 209.18h0M599.64 209.18h0M604.09 209.18h0M608.55 209.18h0M613 209.18h0M617.46 209.18h0M621.92 209.18h0M626.37 209.18h0M630.83 209.18h0M635.28 209.18h0M541.71 213.49h0M546.16 213.49h0M550.62 213.49h0M555.08 213.49h0M559.53 213.49h0M563.99 213.49h0M568.44 213.49h0M572.9 213.49h0M577.36 213.49h0M581.81 213.49h0M586.27 213.49h0M590.72 213.49h0M595.18 213.49h0M599.64 213.49h0M604.09 213.49h0M608.55 213.49h0M613 213.49h0M617.46 213.49h0M621.92 213.49h0M626.37 213.49h0M630.83 213.49h0M635.28 213.49h0M541.71 217.79h0M546.16 217.79h0M550.62 217.79h0M555.08 217.79h0M559.53 217.79h0M563.99 217.79h0M568.44 217.79h0M572.9 217.79h0M577.36 217.79h0M581.81 217.79h0M586.27 217.79h0M590.72 217.79h0M595.18 217.79h0M599.64 217.79h0M604.09 217.79h0M608.55 217.79h0M613 217.79h0M617.46 217.79h0M621.92 217.79h0M626.37 217.79h0M630.83 217.79h0M635.28 217.79h0M541.71 222.09h0M546.16 222.09h0M550.62 222.09h0M555.08 222.09h0M559.53 222.09h0M563.99 222.09h0M568.44 222.09h0M572.9 222.09h0M577.36 222.09h0M581.81 222.09h0M586.27 222.09h0M590.72 222.09h0M595.18 222.09h0M599.64 222.09h0M604.09 222.09h0M608.55 222.09h0M613 222.09h0M617.46 222.09h0M621.92 222.09h0M626.37 222.09h0M630.83 222.09h0M635.28 222.09h0M541.71 226.4h0M546.16 226.4h0M550.62 226.4h0M555.08 226.4h0M559.53 226.4h0M563.99 226.4h0M568.44 226.4h0M572.9 226.4h0M577.36 226.4h0M581.81 226.4h0M586.27 226.4h0M590.72 226.4h0M595.18 226.4h0M599.64 226.4h0M604.09 226.4h0M608.55 226.4h0M613 226.4h0M617.46 226.4h0M621.92 226.4h0M626.37 226.4h0M630.83 226.4h0M635.28 226.4h0M541.71 230.71h0M546.16 230.71h0M550.62 230.71h0M555.08 230.71h0M559.53 230.71h0M563.99 230.71h0M568.44 230.71h0M572.9 230.71h0M577.36 230.71h0M581.81 230.71h0M586.27 230.71h0M590.72 230.71h0M595.18 230.71h0M599.64 230.71h0M604.09 230.71h0M608.55 230.71h0M613 230.71h0M617.46 230.71h0M621.92 230.71h0M626.37 230.71h0M630.83 230.71h0M635.28 230.71h0M541.71 235.01h0M546.16 235.01h0M550.62 235.01h0M555.08 235.01h0M559.53 235.01h0M563.99 235.01h0M568.44 235.01h0M572.9 235.01h0M577.36 235.01h0M581.81 235.01h0M586.27 235.01h0M590.72 235.01h0M595.18 235.01h0M599.64 235.01h0M604.09 235.01h0M608.55 235.01h0M613 235.01h0M617.46 235.01h0M621.92 235.01h0M626.37 235.01h0M630.83 235.01h0M635.28 235.01h0M546.16 239.31h0M550.62 239.31h0M555.08 239.31h0M559.53 239.31h0M563.99 239.31h0M568.44 239.31h0M572.9 239.31h0M577.36 239.31h0M581.81 239.31h0M586.27 239.31h0M590.72 239.31h0M595.18 239.31h0M599.64 239.31h0M604.09 239.31h0M608.55 239.31h0M613 239.31h0M617.46 239.31h0M621.92 239.31h0M626.37 239.31h0M630.83 239.31h0M635.28 239.31h0M546.16 243.62h0M550.62 243.62h0M555.08 243.62h0M559.53 243.62h0M563.99 243.62h0M568.44 243.62h0M572.9 243.62h0M577.36 243.62h0M581.81 243.62h0M586.27 243.62h0M590.72 243.62h0M595.18 243.62h0M599.64 243.62h0M604.09 243.62h0M608.55 243.62h0M613 243.62h0M617.46 243.62h0M621.92 243.62h0M626.37 243.62h0M630.83 243.62h0M635.28 243.62h0M546.16 247.93h0M550.62 247.93h0M555.08 247.93h0M559.53 247.93h0M563.99 247.93h0M568.44 247.93h0M572.9 247.93h0M577.36 247.93h0M581.81 247.93h0M586.27 247.93h0M590.72 247.93h0M595.18 247.93h0M599.64 247.93h0M604.09 247.93h0M608.55 247.93h0M613 247.93h0M617.46 247.93h0M621.92 247.93h0M626.37 247.93h0M630.83 247.93h0M635.28 247.93h0M546.16 252.23h0M550.62 252.23h0M555.08 252.23h0M559.53 252.23h0M563.99 252.23h0M568.44 252.23h0M572.9 252.23h0M577.36 252.23h0M581.81 252.23h0M586.27 252.23h0M590.72 252.23h0M595.18 252.23h0M599.64 252.23h0M604.09 252.23h0M608.55 252.23h0M613 252.23h0M617.46 252.23h0M621.92 252.23h0M626.37 252.23h0M630.83 252.23h0M635.28 252.23h0M546.16 256.53h0M550.62 256.53h0M555.08 256.53h0M559.53 256.53h0M563.99 256.53h0M568.44 256.53h0M572.9 256.53h0M577.36 256.53h0M581.81 256.53h0M586.27 256.53h0M590.72 256.53h0M595.18 256.53h0M599.64 256.53h0M604.09 256.53h0M608.55 256.53h0M613 256.53h0M617.46 256.53h0M621.92 256.53h0M626.37 256.53h0M630.83 256.53h0M635.28 256.53h0M546.16 260.84h0M550.62 260.84h0M555.08 260.84h0M559.53 260.84h0M563.99 260.84h0M568.44 260.84h0M572.9 260.84h0M577.36 260.84h0M581.81 260.84h0M586.27 260.84h0M590.72 260.84h0M595.18 260.84h0M599.64 260.84h0M604.09 260.84h0M608.55 260.84h0M613 260.84h0M617.46 260.84h0M621.92 260.84h0M626.37 260.84h0M630.83 260.84h0M635.28 260.84h0M546.16 265.14h0M550.62 265.14h0M555.08 265.14h0M559.53 265.14h0M563.99 265.14h0M568.44 265.14h0M572.9 265.14h0M577.36 265.14h0M581.81 265.14h0M586.27 265.14h0M590.72 265.14h0M595.18 265.14h0M599.64 265.14h0M604.09 265.14h0M608.55 265.14h0M613 265.14h0M617.46 265.14h0M621.92 265.14h0M626.37 265.14h0M630.83 265.14h0M635.28 265.14h0M546.16 269.45h0M550.62 269.45h0M555.08 269.45h0M559.53 269.45h0M563.99 269.45h0M568.44 269.45h0M572.9 269.45h0M577.36 269.45h0M581.81 269.45h0M586.27 269.45h0M590.72 269.45h0M595.18 269.45h0M599.64 269.45h0M604.09 269.45h0M608.55 269.45h0M613 269.45h0M617.46 269.45h0M621.92 269.45h0M626.37 269.45h0M630.83 269.45h0M635.28 269.45h0M546.16 273.75h0M550.62 273.75h0M555.08 273.75h0M559.53 273.75h0M563.99 273.75h0M568.44 273.75h0M572.9 273.75h0M577.36 273.75h0M581.81 273.75h0M586.27 273.75h0M590.72 273.75h0M595.18 273.75h0M599.64 273.75h0M604.09 273.75h0M608.55 273.75h0M613 273.75h0M617.46 273.75h0M621.92 273.75h0M626.37 273.75h0M630.83 273.75h0M635.28 273.75h0M546.16 278.06h0M550.62 278.06h0M555.08 278.06h0M559.53 278.06h0M563.99 278.06h0M568.44 278.06h0M572.9 278.06h0M577.36 278.06h0M581.81 278.06h0M586.27 278.06h0M590.72 278.06h0M595.18 278.06h0M599.64 278.06h0M604.09 278.06h0M608.55 278.06h0M613 278.06h0M617.46 278.06h0M621.92 278.06h0M626.37 278.06h0M630.83 278.06h0M635.28 278.06h0M550.62 282.37h0M555.08 282.37h0M559.53 282.37h0M563.99 282.37h0M568.44 282.37h0M572.9 282.37h0M577.36 282.37h0M581.81 282.37h0M586.27 282.37h0M590.72 282.37h0M595.18 282.37h0M599.64 282.37h0M604.09 282.37h0M608.55 282.37h0M613 282.37h0M617.46 282.37h0M621.92 282.37h0M626.37 282.37h0M630.83 282.37h0M635.28 282.37h0M555.08 286.67h0M559.53 286.67h0M563.99 286.67h0M568.44 286.67h0M572.9 286.67h0M577.36 286.67h0M581.81 286.67h0M586.27 286.67h0M590.72 286.67h0M595.18 286.67h0M599.64 286.67h0M604.09 286.67h0M608.55 286.67h0M613 286.67h0M617.46 286.67h0M621.92 286.67h0M626.37 286.67h0M630.83 286.67h0M635.28 286.67h0M555.08 290.98h0M559.53 290.98h0M563.99 290.98h0M568.44 290.98h0M572.9 290.98h0M577.36 290.98h0M581.81 290.98h0M586.27 290.98h0M590.72 290.98h0M595.18 290.98h0M599.64 290.98h0M604.09 290.98h0M608.55 290.98h0M613 290.98h0M617.46 290.98h0M621.92 290.98h0M626.37 290.98h0M630.83 290.98h0M635.28 290.98h0M555.08 295.28h0M559.53 295.28h0M563.99 295.28h0M568.44 295.28h0M572.9 295.28h0M577.36 295.28h0M581.81 295.28h0M586.27 295.28h0M590.72 295.28h0M595.18 295.28h0M599.64 295.28h0M604.09 295.28h0M608.55 295.28h0M613 295.28h0M617.46 295.28h0M621.92 295.28h0M626.37 295.28h0M630.83 295.28h0M635.28 295.28h0M555.08 299.59h0M559.53 299.59h0M563.99 299.59h0M568.44 299.59h0M572.9 299.59h0M577.36 299.59h0M581.81 299.59h0M586.27 299.59h0M590.72 299.59h0M595.18 299.59h0M599.64 299.59h0M604.09 299.59h0M608.55 299.59h0M613 299.59h0M617.46 299.59h0M621.92 299.59h0M626.37 299.59h0M630.83 299.59h0M635.28 299.59h0M555.08 303.89h0M559.53 303.89h0M563.99 303.89h0M568.44 303.89h0M572.9 303.89h0M577.36 303.89h0M581.81 303.89h0M586.27 303.89h0M590.72 303.89h0M595.18 303.89h0M599.64 303.89h0M604.09 303.89h0M608.55 303.89h0M613 303.89h0M617.46 303.89h0M621.92 303.89h0M626.37 303.89h0M630.83 303.89h0M635.28 303.89h0M555.08 308.19h0M559.53 308.19h0M563.99 308.19h0M568.44 308.19h0M572.9 308.19h0M577.36 308.19h0M581.81 308.19h0M586.27 308.19h0M590.72 308.19h0M595.18 308.19h0M599.64 308.19h0M604.09 308.19h0M608.55 308.19h0M613 308.19h0M617.46 308.19h0M621.92 308.19h0M626.37 308.19h0M630.83 308.19h0M635.28 308.19h0"/>
<polyline fill="none" stroke="#111" stroke-width="1.1" stroke-linejoin="round" points="461.5,185.5 519.43,185.5 523.88,189.81 528.34,189.81 530.57,191.96 530.57,196.27 535.02,200.57 535.02,209.18 539.48,213.49 539.48,235.01 543.94,239.31 543.94,278.06 552.85,286.67 552.85,308.19"/>
<rect x="452.5" y="132.5" width="191.3" height="184" fill="none" stroke="#6a6a6a" stroke-width="0.85"/>
<path d="M461.5 316.5v3.2M504.95 316.5v3.2M548.39 316.5v3.2M591.84 316.5v3.2M635.28 316.5v3.2M643.8 308.19h3.2M643.8 248.23h3.2M643.8 188.27h3.2" fill="none" stroke="#404040" stroke-width="0.9"/>
<text y="127" font-size="13.6"><tspan x="523.25" textLength="10.4" lengthAdjust="spacingAndGlyphs">Δ</tspan><tspan class="i" x="534.25">x</tspan><tspan x="543.55" textLength="10.2" lengthAdjust="spacingAndGlyphs">=</tspan><tspan x="556.35" textLength="17.2" lengthAdjust="spacingAndGlyphs">1.8</tspan></text>
</g>
<g>
<path d="M54 352.5v184M97.45 352.5v184M140.89 352.5v184M184.34 352.5v184M227.78 352.5v184M45.5 528.19h191.3M45.5 468.23h191.3M45.5 408.27h191.3" fill="none" stroke="#f1f1f1" stroke-width="0.8"/>
<path class="d" stroke="#1d92f3" d="M54 411.96h0M58.46 411.96h0M62.91 411.96h0M67.37 411.96h0M71.82 411.96h0M76.28 411.96h0M80.74 411.96h0M85.19 411.96h0M89.65 411.96h0M94.1 411.96h0M98.56 411.96h0M103.02 411.96h0M107.47 411.96h0M111.93 411.96h0M116.38 411.96h0M120.84 411.96h0M125.3 411.96h0M129.75 411.96h0M134.21 411.96h0M138.66 411.96h0M152.03 411.96h0"/>
<path class="d" stroke="#208df4" d="M54 416.26h0M58.46 416.26h0M62.91 416.26h0M67.37 416.26h0M71.82 416.26h0M76.28 416.26h0M80.74 416.26h0M85.19 416.26h0M89.65 416.26h0M94.1 416.26h0M98.56 416.26h0M103.02 416.26h0M107.47 416.26h0M111.93 416.26h0M116.38 416.26h0M120.84 416.26h0M125.3 416.26h0M129.75 416.26h0M134.21 416.26h0M138.66 416.26h0M143.12 416.26h0M147.58 416.26h0M152.03 416.26h0M156.49 416.26h0"/>
<path class="d" stroke="#2488f5" d="M54 420.57h0M58.46 420.57h0M62.91 420.57h0M67.37 420.57h0M71.82 420.57h0M76.28 420.57h0M80.74 420.57h0M85.19 420.57h0M89.65 420.57h0M94.1 420.57h0M98.56 420.57h0M103.02 420.57h0M107.47 420.57h0M111.93 420.57h0M116.38 420.57h0M120.84 420.57h0M125.3 420.57h0M129.75 420.57h0M134.21 420.57h0M138.66 420.57h0M143.12 420.57h0M147.58 420.57h0M152.03 420.57h0M156.49 420.57h0"/>
<path class="d" stroke="#2883f6" d="M54 424.88h0M58.46 424.88h0M62.91 424.88h0M67.37 424.88h0M71.82 424.88h0M76.28 424.88h0M80.74 424.88h0M85.19 424.88h0M89.65 424.88h0M94.1 424.88h0M98.56 424.88h0M103.02 424.88h0M107.47 424.88h0M111.93 424.88h0M116.38 424.88h0M120.84 424.88h0M125.3 424.88h0M129.75 424.88h0M134.21 424.88h0M138.66 424.88h0M143.12 424.88h0M147.58 424.88h0M152.03 424.88h0M156.49 424.88h0"/>
<path class="d" stroke="#2b7ef6" d="M54 429.18h0M58.46 429.18h0M62.91 429.18h0M67.37 429.18h0M71.82 429.18h0M76.28 429.18h0M80.74 429.18h0M85.19 429.18h0M89.65 429.18h0M94.1 429.18h0M98.56 429.18h0M103.02 429.18h0M107.47 429.18h0M111.93 429.18h0M116.38 429.18h0M120.84 429.18h0M125.3 429.18h0M129.75 429.18h0M134.21 429.18h0M138.66 429.18h0M143.12 429.18h0M147.58 429.18h0M152.03 429.18h0M156.49 429.18h0"/>
<path class="d" stroke="#2f79f7" d="M54 433.49h0M58.46 433.49h0M62.91 433.49h0M67.37 433.49h0M71.82 433.49h0M76.28 433.49h0M80.74 433.49h0M85.19 433.49h0M89.65 433.49h0M94.1 433.49h0M98.56 433.49h0M103.02 433.49h0M107.47 433.49h0M111.93 433.49h0M116.38 433.49h0M120.84 433.49h0M125.3 433.49h0M129.75 433.49h0M134.21 433.49h0M138.66 433.49h0M143.12 433.49h0M147.58 433.49h0M152.03 433.49h0M156.49 433.49h0"/>
<path class="d" stroke="#3374f8" d="M54 437.79h0M58.46 437.79h0M62.91 437.79h0M67.37 437.79h0M71.82 437.79h0M76.28 437.79h0M80.74 437.79h0M85.19 437.79h0M89.65 437.79h0M94.1 437.79h0M98.56 437.79h0M103.02 437.79h0M107.47 437.79h0M111.93 437.79h0M116.38 437.79h0M120.84 437.79h0M125.3 437.79h0M129.75 437.79h0M134.21 437.79h0M138.66 437.79h0M143.12 437.79h0M147.58 437.79h0M152.03 437.79h0M156.49 437.79h0"/>
<path class="d" stroke="#366ff9" d="M54 442.1h0M58.46 442.1h0M62.91 442.1h0M67.37 442.1h0M71.82 442.1h0M76.28 442.1h0M80.74 442.1h0M85.19 442.1h0M89.65 442.1h0M94.1 442.1h0M98.56 442.1h0M103.02 442.1h0M107.47 442.1h0M111.93 442.1h0M116.38 442.1h0M120.84 442.1h0M125.3 442.1h0M129.75 442.1h0M134.21 442.1h0M138.66 442.1h0M143.12 442.1h0M147.58 442.1h0M152.03 442.1h0M156.49 442.1h0M160.94 442.1h0"/>
<path class="d" stroke="#3a6af9" d="M54 446.4h0M58.46 446.4h0M62.91 446.4h0M67.37 446.4h0M71.82 446.4h0M76.28 446.4h0M80.74 446.4h0M85.19 446.4h0M89.65 446.4h0M94.1 446.4h0M98.56 446.4h0M103.02 446.4h0M107.47 446.4h0M111.93 446.4h0M116.38 446.4h0M120.84 446.4h0M125.3 446.4h0M129.75 446.4h0M134.21 446.4h0M138.66 446.4h0M143.12 446.4h0M147.58 446.4h0M152.03 446.4h0M156.49 446.4h0M160.94 446.4h0"/>
<path class="d" stroke="#3e65fa" d="M54 450.71h0M58.46 450.71h0M62.91 450.71h0M67.37 450.71h0M71.82 450.71h0M76.28 450.71h0M80.74 450.71h0M85.19 450.71h0M89.65 450.71h0M94.1 450.71h0M98.56 450.71h0M103.02 450.71h0M107.47 450.71h0M111.93 450.71h0M116.38 450.71h0M120.84 450.71h0M125.3 450.71h0M129.75 450.71h0M134.21 450.71h0M138.66 450.71h0M143.12 450.71h0M147.58 450.71h0M152.03 450.71h0M156.49 450.71h0M160.94 450.71h0"/>
<path class="d" stroke="#415ffa" d="M54 455.01h0M58.46 455.01h0M62.91 455.01h0M67.37 455.01h0M71.82 455.01h0M76.28 455.01h0M80.74 455.01h0M85.19 455.01h0M89.65 455.01h0M94.1 455.01h0M98.56 455.01h0M103.02 455.01h0M107.47 455.01h0M111.93 455.01h0M116.38 455.01h0M120.84 455.01h0M125.3 455.01h0M129.75 455.01h0M134.21 455.01h0M138.66 455.01h0M143.12 455.01h0M147.58 455.01h0M152.03 455.01h0M156.49 455.01h0M160.94 455.01h0"/>
<path class="d" stroke="#455afb" d="M54 459.31h0M58.46 459.31h0M62.91 459.31h0M67.37 459.31h0M71.82 459.31h0M76.28 459.31h0M80.74 459.31h0M85.19 459.31h0M89.65 459.31h0M94.1 459.31h0M98.56 459.31h0M103.02 459.31h0M107.47 459.31h0M111.93 459.31h0M116.38 459.31h0M120.84 459.31h0M125.3 459.31h0M129.75 459.31h0M134.21 459.31h0M138.66 459.31h0M143.12 459.31h0M147.58 459.31h0M152.03 459.31h0M156.49 459.31h0M160.94 459.31h0"/>
<path class="d" stroke="#4955fb" d="M54 463.62h0M58.46 463.62h0M62.91 463.62h0M67.37 463.62h0M71.82 463.62h0M76.28 463.62h0M80.74 463.62h0M85.19 463.62h0M89.65 463.62h0M94.1 463.62h0M98.56 463.62h0M103.02 463.62h0M107.47 463.62h0M111.93 463.62h0M116.38 463.62h0M120.84 463.62h0M125.3 463.62h0M129.75 463.62h0M134.21 463.62h0M138.66 463.62h0M143.12 463.62h0M147.58 463.62h0M152.03 463.62h0M156.49 463.62h0M160.94 463.62h0"/>
<path class="d" stroke="#4c4ffc" d="M54 467.93h0M58.46 467.93h0M62.91 467.93h0M67.37 467.93h0M71.82 467.93h0M76.28 467.93h0M80.74 467.93h0M85.19 467.93h0M89.65 467.93h0M94.1 467.93h0M98.56 467.93h0M103.02 467.93h0M107.47 467.93h0M111.93 467.93h0M116.38 467.93h0M120.84 467.93h0M125.3 467.93h0M129.75 467.93h0M134.21 467.93h0M138.66 467.93h0M143.12 467.93h0M147.58 467.93h0M152.03 467.93h0M156.49 467.93h0M160.94 467.93h0M165.4 467.93h0"/>
<path class="d" stroke="#504afc" d="M54 472.23h0M58.46 472.23h0M62.91 472.23h0M67.37 472.23h0M71.82 472.23h0M76.28 472.23h0M80.74 472.23h0M85.19 472.23h0M89.65 472.23h0M94.1 472.23h0M98.56 472.23h0M103.02 472.23h0M107.47 472.23h0M111.93 472.23h0M116.38 472.23h0M120.84 472.23h0M125.3 472.23h0M129.75 472.23h0M134.21 472.23h0M138.66 472.23h0M143.12 472.23h0M147.58 472.23h0M152.03 472.23h0M156.49 472.23h0M160.94 472.23h0M165.4 472.23h0"/>
<path class="d" stroke="#5444fd" d="M54 476.53h0M58.46 476.53h0M62.91 476.53h0M67.37 476.53h0M71.82 476.53h0M76.28 476.53h0M80.74 476.53h0M85.19 476.53h0M89.65 476.53h0M94.1 476.53h0M98.56 476.53h0M103.02 476.53h0M107.47 476.53h0M111.93 476.53h0M116.38 476.53h0M120.84 476.53h0M125.3 476.53h0M129.75 476.53h0M134.21 476.53h0M138.66 476.53h0M143.12 476.53h0M147.58 476.53h0M152.03 476.53h0M156.49 476.53h0M160.94 476.53h0M165.4 476.53h0"/>
<path class="d" stroke="#573ffd" d="M54 480.84h0M58.46 480.84h0M62.91 480.84h0M67.37 480.84h0M71.82 480.84h0M76.28 480.84h0M80.74 480.84h0M85.19 480.84h0M89.65 480.84h0M94.1 480.84h0M98.56 480.84h0M103.02 480.84h0M107.47 480.84h0M111.93 480.84h0M116.38 480.84h0M120.84 480.84h0M125.3 480.84h0M129.75 480.84h0M134.21 480.84h0M138.66 480.84h0M143.12 480.84h0M147.58 480.84h0M152.03 480.84h0M156.49 480.84h0M160.94 480.84h0M165.4 480.84h0M169.86 480.84h0"/>
<path class="d" stroke="#5b39fd" d="M54 485.14h0M58.46 485.14h0M62.91 485.14h0M67.37 485.14h0M71.82 485.14h0M76.28 485.14h0M80.74 485.14h0M85.19 485.14h0M89.65 485.14h0M94.1 485.14h0M98.56 485.14h0M103.02 485.14h0M107.47 485.14h0M111.93 485.14h0M116.38 485.14h0M120.84 485.14h0M125.3 485.14h0M129.75 485.14h0M134.21 485.14h0M138.66 485.14h0M143.12 485.14h0M147.58 485.14h0M152.03 485.14h0M156.49 485.14h0M160.94 485.14h0M165.4 485.14h0M169.86 485.14h0"/>
<path class="d" stroke="#5f33fe" d="M54 489.45h0M58.46 489.45h0M62.91 489.45h0M67.37 489.45h0M71.82 489.45h0M76.28 489.45h0M80.74 489.45h0M85.19 489.45h0M89.65 489.45h0M94.1 489.45h0M98.56 489.45h0M103.02 489.45h0M107.47 489.45h0M111.93 489.45h0M116.38 489.45h0M120.84 489.45h0M125.3 489.45h0M129.75 489.45h0M134.21 489.45h0M138.66 489.45h0M143.12 489.45h0M147.58 489.45h0M152.03 489.45h0M156.49 489.45h0M160.94 489.45h0M165.4 489.45h0M169.86 489.45h0M174.31 489.45h0M178.77 489.45h0"/>
<path class="d" stroke="#622efe" d="M54 493.75h0M58.46 493.75h0M62.91 493.75h0M67.37 493.75h0M71.82 493.75h0M76.28 493.75h0M80.74 493.75h0M85.19 493.75h0M89.65 493.75h0M94.1 493.75h0M98.56 493.75h0M103.02 493.75h0M107.47 493.75h0M111.93 493.75h0M116.38 493.75h0M120.84 493.75h0M125.3 493.75h0M129.75 493.75h0M134.21 493.75h0M138.66 493.75h0M143.12 493.75h0M147.58 493.75h0M152.03 493.75h0M156.49 493.75h0M160.94 493.75h0M165.4 493.75h0M169.86 493.75h0M174.31 493.75h0M178.77 493.75h0M183.22 493.75h0M187.68 493.75h0M192.14 493.75h0M196.59 493.75h0M201.05 493.75h0M205.5 493.75h0M209.96 493.75h0M214.42 493.75h0M218.87 493.75h0M223.33 493.75h0M227.78 493.75h0"/>
<path class="d" stroke="#6628fe" d="M54 498.06h0M58.46 498.06h0M62.91 498.06h0M67.37 498.06h0M71.82 498.06h0M76.28 498.06h0M80.74 498.06h0M85.19 498.06h0M89.65 498.06h0M94.1 498.06h0M98.56 498.06h0M103.02 498.06h0M107.47 498.06h0M111.93 498.06h0M116.38 498.06h0M120.84 498.06h0M125.3 498.06h0M129.75 498.06h0M134.21 498.06h0M138.66 498.06h0M143.12 498.06h0M147.58 498.06h0M152.03 498.06h0M156.49 498.06h0M160.94 498.06h0M165.4 498.06h0M169.86 498.06h0M174.31 498.06h0M178.77 498.06h0M183.22 498.06h0M187.68 498.06h0M192.14 498.06h0M196.59 498.06h0M201.05 498.06h0M205.5 498.06h0M209.96 498.06h0M214.42 498.06h0M218.87 498.06h0M223.33 498.06h0M227.78 498.06h0"/>
<path class="d" stroke="#6a22fe" d="M54 502.37h0M58.46 502.37h0M62.91 502.37h0M67.37 502.37h0M71.82 502.37h0M76.28 502.37h0M80.74 502.37h0M85.19 502.37h0M89.65 502.37h0M94.1 502.37h0M98.56 502.37h0M103.02 502.37h0M107.47 502.37h0M111.93 502.37h0M116.38 502.37h0M120.84 502.37h0M125.3 502.37h0M129.75 502.37h0M134.21 502.37h0M138.66 502.37h0M143.12 502.37h0M147.58 502.37h0M152.03 502.37h0M156.49 502.37h0M160.94 502.37h0M165.4 502.37h0M169.86 502.37h0M174.31 502.37h0M178.77 502.37h0M183.22 502.37h0M187.68 502.37h0M192.14 502.37h0M196.59 502.37h0M201.05 502.37h0M205.5 502.37h0M209.96 502.37h0M214.42 502.37h0M218.87 502.37h0M223.33 502.37h0M227.78 502.37h0"/>
<path class="d" stroke="#6d1dff" d="M54 506.67h0M58.46 506.67h0M62.91 506.67h0M67.37 506.67h0M71.82 506.67h0M76.28 506.67h0M80.74 506.67h0M85.19 506.67h0M89.65 506.67h0M94.1 506.67h0M98.56 506.67h0M103.02 506.67h0M107.47 506.67h0M111.93 506.67h0M116.38 506.67h0M120.84 506.67h0M125.3 506.67h0M129.75 506.67h0M134.21 506.67h0M138.66 506.67h0M143.12 506.67h0M147.58 506.67h0M152.03 506.67h0M156.49 506.67h0M160.94 506.67h0M165.4 506.67h0M169.86 506.67h0M174.31 506.67h0M178.77 506.67h0M183.22 506.67h0M187.68 506.67h0M192.14 506.67h0M196.59 506.67h0M201.05 506.67h0M205.5 506.67h0M209.96 506.67h0M214.42 506.67h0M218.87 506.67h0M223.33 506.67h0M227.78 506.67h0"/>
<path class="d" stroke="#7117ff" d="M54 510.98h0M58.46 510.98h0M62.91 510.98h0M67.37 510.98h0M71.82 510.98h0M76.28 510.98h0M80.74 510.98h0M85.19 510.98h0M89.65 510.98h0M94.1 510.98h0M98.56 510.98h0M103.02 510.98h0M107.47 510.98h0M111.93 510.98h0M116.38 510.98h0M120.84 510.98h0M125.3 510.98h0M129.75 510.98h0M134.21 510.98h0M138.66 510.98h0M143.12 510.98h0M147.58 510.98h0M152.03 510.98h0M156.49 510.98h0M160.94 510.98h0M165.4 510.98h0M169.86 510.98h0M174.31 510.98h0M178.77 510.98h0M183.22 510.98h0M187.68 510.98h0M192.14 510.98h0M196.59 510.98h0M201.05 510.98h0M205.5 510.98h0M209.96 510.98h0M214.42 510.98h0M218.87 510.98h0M223.33 510.98h0M227.78 510.98h0"/>
<path class="d" stroke="#7511ff" d="M54 515.28h0M58.46 515.28h0M62.91 515.28h0M67.37 515.28h0M71.82 515.28h0M76.28 515.28h0M80.74 515.28h0M85.19 515.28h0M89.65 515.28h0M94.1 515.28h0M98.56 515.28h0M103.02 515.28h0M107.47 515.28h0M111.93 515.28h0M116.38 515.28h0M120.84 515.28h0M125.3 515.28h0M129.75 515.28h0M134.21 515.28h0M138.66 515.28h0M143.12 515.28h0M147.58 515.28h0M152.03 515.28h0M156.49 515.28h0M160.94 515.28h0M165.4 515.28h0M169.86 515.28h0M174.31 515.28h0M178.77 515.28h0M183.22 515.28h0M187.68 515.28h0M192.14 515.28h0M196.59 515.28h0M201.05 515.28h0M205.5 515.28h0M209.96 515.28h0M214.42 515.28h0M218.87 515.28h0M223.33 515.28h0M227.78 515.28h0"/>
<path class="d" stroke="#780bff" d="M54 519.59h0M58.46 519.59h0M62.91 519.59h0M67.37 519.59h0M71.82 519.59h0M76.28 519.59h0M80.74 519.59h0M85.19 519.59h0M89.65 519.59h0M94.1 519.59h0M98.56 519.59h0M103.02 519.59h0M107.47 519.59h0M111.93 519.59h0M116.38 519.59h0M120.84 519.59h0M125.3 519.59h0M129.75 519.59h0M134.21 519.59h0M138.66 519.59h0M143.12 519.59h0M147.58 519.59h0M152.03 519.59h0M156.49 519.59h0M160.94 519.59h0M165.4 519.59h0M169.86 519.59h0M174.31 519.59h0M178.77 519.59h0M183.22 519.59h0M187.68 519.59h0M192.14 519.59h0M196.59 519.59h0M201.05 519.59h0M205.5 519.59h0M209.96 519.59h0M214.42 519.59h0M218.87 519.59h0M223.33 519.59h0M227.78 519.59h0"/>
<path class="d" stroke="#7c06ff" d="M54 523.89h0M58.46 523.89h0M62.91 523.89h0M67.37 523.89h0M71.82 523.89h0M76.28 523.89h0M80.74 523.89h0M85.19 523.89h0M89.65 523.89h0M94.1 523.89h0M98.56 523.89h0M103.02 523.89h0M107.47 523.89h0M111.93 523.89h0M116.38 523.89h0M120.84 523.89h0M125.3 523.89h0M129.75 523.89h0M134.21 523.89h0M138.66 523.89h0M143.12 523.89h0M147.58 523.89h0M152.03 523.89h0M156.49 523.89h0M160.94 523.89h0M165.4 523.89h0M169.86 523.89h0M174.31 523.89h0M178.77 523.89h0M183.22 523.89h0M187.68 523.89h0M192.14 523.89h0M196.59 523.89h0M201.05 523.89h0M205.5 523.89h0M209.96 523.89h0M214.42 523.89h0M218.87 523.89h0M223.33 523.89h0M227.78 523.89h0"/>
<path class="d" stroke="#8000ff" d="M54 528.19h0M58.46 528.19h0M62.91 528.19h0M67.37 528.19h0M71.82 528.19h0M76.28 528.19h0M80.74 528.19h0M85.19 528.19h0M89.65 528.19h0M94.1 528.19h0M98.56 528.19h0M103.02 528.19h0M107.47 528.19h0M111.93 528.19h0M116.38 528.19h0M120.84 528.19h0M125.3 528.19h0M129.75 528.19h0M134.21 528.19h0M138.66 528.19h0M143.12 528.19h0M147.58 528.19h0M152.03 528.19h0M156.49 528.19h0M160.94 528.19h0M165.4 528.19h0M169.86 528.19h0M174.31 528.19h0M178.77 528.19h0M183.22 528.19h0M187.68 528.19h0M192.14 528.19h0M196.59 528.19h0M201.05 528.19h0M205.5 528.19h0M209.96 528.19h0M214.42 528.19h0M218.87 528.19h0M223.33 528.19h0M227.78 528.19h0"/>
<path class="d" stroke="#ff0000" d="M54 360.3h0M58.46 360.3h0M62.91 360.3h0M67.37 360.3h0M71.82 360.3h0M76.28 360.3h0M80.74 360.3h0M85.19 360.3h0M89.65 360.3h0M94.1 360.3h0M98.56 360.3h0M103.02 360.3h0M107.47 360.3h0M111.93 360.3h0M116.38 360.3h0M120.84 360.3h0M125.3 360.3h0M129.75 360.3h0M134.21 360.3h0M138.66 360.3h0M143.12 360.3h0M147.58 360.3h0M152.03 360.3h0M156.49 360.3h0M160.94 360.3h0M165.4 360.3h0M169.86 360.3h0M174.31 360.3h0M178.77 360.3h0M183.22 360.3h0M187.68 360.3h0M192.14 360.3h0M196.59 360.3h0M201.05 360.3h0M205.5 360.3h0M209.96 360.3h0M214.42 360.3h0M218.87 360.3h0M223.33 360.3h0M227.78 360.3h0M54 364.61h0M58.46 364.61h0M62.91 364.61h0M67.37 364.61h0M71.82 364.61h0M76.28 364.61h0M80.74 364.61h0M85.19 364.61h0M89.65 364.61h0M94.1 364.61h0M98.56 364.61h0M103.02 364.61h0M107.47 364.61h0M111.93 364.61h0M116.38 364.61h0M120.84 364.61h0M125.3 364.61h0M129.75 364.61h0M134.21 364.61h0M138.66 364.61h0M143.12 364.61h0M147.58 364.61h0M152.03 364.61h0M156.49 364.61h0M160.94 364.61h0M165.4 364.61h0M169.86 364.61h0M174.31 364.61h0M178.77 364.61h0M183.22 364.61h0M187.68 364.61h0M192.14 364.61h0M196.59 364.61h0M201.05 364.61h0M205.5 364.61h0M209.96 364.61h0M214.42 364.61h0M218.87 364.61h0M223.33 364.61h0M227.78 364.61h0M54 368.91h0M58.46 368.91h0M62.91 368.91h0M67.37 368.91h0M71.82 368.91h0M76.28 368.91h0M80.74 368.91h0M85.19 368.91h0M89.65 368.91h0M94.1 368.91h0M98.56 368.91h0M103.02 368.91h0M107.47 368.91h0M111.93 368.91h0M116.38 368.91h0M120.84 368.91h0M125.3 368.91h0M129.75 368.91h0M134.21 368.91h0M138.66 368.91h0M143.12 368.91h0M147.58 368.91h0M152.03 368.91h0M156.49 368.91h0M160.94 368.91h0M165.4 368.91h0M169.86 368.91h0M174.31 368.91h0M178.77 368.91h0M183.22 368.91h0M187.68 368.91h0M192.14 368.91h0M196.59 368.91h0M201.05 368.91h0M205.5 368.91h0M209.96 368.91h0M214.42 368.91h0M218.87 368.91h0M223.33 368.91h0M227.78 368.91h0M54 373.22h0M58.46 373.22h0M62.91 373.22h0M67.37 373.22h0M71.82 373.22h0M76.28 373.22h0M80.74 373.22h0M85.19 373.22h0M89.65 373.22h0M94.1 373.22h0M98.56 373.22h0M103.02 373.22h0M107.47 373.22h0M111.93 373.22h0M116.38 373.22h0M120.84 373.22h0M125.3 373.22h0M129.75 373.22h0M134.21 373.22h0M138.66 373.22h0M143.12 373.22h0M147.58 373.22h0M152.03 373.22h0M156.49 373.22h0M160.94 373.22h0M165.4 373.22h0M169.86 373.22h0M174.31 373.22h0M178.77 373.22h0M183.22 373.22h0M187.68 373.22h0M192.14 373.22h0M196.59 373.22h0M201.05 373.22h0M205.5 373.22h0M209.96 373.22h0M214.42 373.22h0M218.87 373.22h0M223.33 373.22h0M227.78 373.22h0M54 377.52h0M58.46 377.52h0M62.91 377.52h0M67.37 377.52h0M71.82 377.52h0M76.28 377.52h0M80.74 377.52h0M85.19 377.52h0M89.65 377.52h0M94.1 377.52h0M98.56 377.52h0M103.02 377.52h0M107.47 377.52h0M111.93 377.52h0M116.38 377.52h0M120.84 377.52h0M125.3 377.52h0M129.75 377.52h0M134.21 377.52h0M138.66 377.52h0M143.12 377.52h0M147.58 377.52h0M152.03 377.52h0M156.49 377.52h0M160.94 377.52h0M165.4 377.52h0M169.86 377.52h0M174.31 377.52h0M178.77 377.52h0M183.22 377.52h0M187.68 377.52h0M192.14 377.52h0M196.59 377.52h0M201.05 377.52h0M205.5 377.52h0M209.96 377.52h0M214.42 377.52h0M218.87 377.52h0M223.33 377.52h0M227.78 377.52h0M54 381.82h0M58.46 381.82h0M62.91 381.82h0M67.37 381.82h0M71.82 381.82h0M76.28 381.82h0M80.74 381.82h0M85.19 381.82h0M89.65 381.82h0M94.1 381.82h0M98.56 381.82h0M103.02 381.82h0M107.47 381.82h0M111.93 381.82h0M116.38 381.82h0M120.84 381.82h0M125.3 381.82h0M129.75 381.82h0M134.21 381.82h0M138.66 381.82h0M143.12 381.82h0M147.58 381.82h0M152.03 381.82h0M156.49 381.82h0M160.94 381.82h0M165.4 381.82h0M169.86 381.82h0M174.31 381.82h0M178.77 381.82h0M183.22 381.82h0M187.68 381.82h0M192.14 381.82h0M196.59 381.82h0M201.05 381.82h0M205.5 381.82h0M209.96 381.82h0M214.42 381.82h0M218.87 381.82h0M223.33 381.82h0M227.78 381.82h0M54 386.13h0M58.46 386.13h0M62.91 386.13h0M67.37 386.13h0M71.82 386.13h0M76.28 386.13h0M80.74 386.13h0M85.19 386.13h0M89.65 386.13h0M94.1 386.13h0M98.56 386.13h0M103.02 386.13h0M107.47 386.13h0M111.93 386.13h0M116.38 386.13h0M120.84 386.13h0M125.3 386.13h0M129.75 386.13h0M134.21 386.13h0M138.66 386.13h0M143.12 386.13h0M147.58 386.13h0M152.03 386.13h0M156.49 386.13h0M160.94 386.13h0M165.4 386.13h0M169.86 386.13h0M174.31 386.13h0M178.77 386.13h0M183.22 386.13h0M187.68 386.13h0M192.14 386.13h0M196.59 386.13h0M201.05 386.13h0M205.5 386.13h0M209.96 386.13h0M214.42 386.13h0M218.87 386.13h0M223.33 386.13h0M227.78 386.13h0M54 390.44h0M58.46 390.44h0M62.91 390.44h0M67.37 390.44h0M71.82 390.44h0M76.28 390.44h0M80.74 390.44h0M85.19 390.44h0M89.65 390.44h0M94.1 390.44h0M98.56 390.44h0M103.02 390.44h0M107.47 390.44h0M111.93 390.44h0M116.38 390.44h0M120.84 390.44h0M125.3 390.44h0M129.75 390.44h0M134.21 390.44h0M138.66 390.44h0M143.12 390.44h0M147.58 390.44h0M152.03 390.44h0M156.49 390.44h0M160.94 390.44h0M165.4 390.44h0M169.86 390.44h0M174.31 390.44h0M178.77 390.44h0M183.22 390.44h0M187.68 390.44h0M192.14 390.44h0M196.59 390.44h0M201.05 390.44h0M205.5 390.44h0M209.96 390.44h0M214.42 390.44h0M218.87 390.44h0M223.33 390.44h0M227.78 390.44h0M54 394.74h0M58.46 394.74h0M62.91 394.74h0M67.37 394.74h0M71.82 394.74h0M76.28 394.74h0M80.74 394.74h0M85.19 394.74h0M89.65 394.74h0M94.1 394.74h0M98.56 394.74h0M103.02 394.74h0M107.47 394.74h0M111.93 394.74h0M116.38 394.74h0M120.84 394.74h0M125.3 394.74h0M129.75 394.74h0M134.21 394.74h0M138.66 394.74h0M143.12 394.74h0M147.58 394.74h0M152.03 394.74h0M156.49 394.74h0M160.94 394.74h0M165.4 394.74h0M169.86 394.74h0M174.31 394.74h0M178.77 394.74h0M183.22 394.74h0M187.68 394.74h0M192.14 394.74h0M196.59 394.74h0M201.05 394.74h0M205.5 394.74h0M209.96 394.74h0M214.42 394.74h0M218.87 394.74h0M223.33 394.74h0M227.78 394.74h0M54 399.05h0M58.46 399.05h0M62.91 399.05h0M67.37 399.05h0M71.82 399.05h0M76.28 399.05h0M80.74 399.05h0M85.19 399.05h0M89.65 399.05h0M94.1 399.05h0M98.56 399.05h0M103.02 399.05h0M107.47 399.05h0M111.93 399.05h0M116.38 399.05h0M120.84 399.05h0M125.3 399.05h0M129.75 399.05h0M134.21 399.05h0M138.66 399.05h0M143.12 399.05h0M147.58 399.05h0M152.03 399.05h0M156.49 399.05h0M160.94 399.05h0M165.4 399.05h0M169.86 399.05h0M174.31 399.05h0M178.77 399.05h0M183.22 399.05h0M187.68 399.05h0M192.14 399.05h0M196.59 399.05h0M201.05 399.05h0M205.5 399.05h0M209.96 399.05h0M214.42 399.05h0M218.87 399.05h0M223.33 399.05h0M227.78 399.05h0M54 403.35h0M58.46 403.35h0M62.91 403.35h0M67.37 403.35h0M71.82 403.35h0M76.28 403.35h0M80.74 403.35h0M85.19 403.35h0M89.65 403.35h0M94.1 403.35h0M98.56 403.35h0M103.02 403.35h0M107.47 403.35h0M111.93 403.35h0M116.38 403.35h0M120.84 403.35h0M125.3 403.35h0M129.75 403.35h0M134.21 403.35h0M138.66 403.35h0M143.12 403.35h0M147.58 403.35h0M152.03 403.35h0M156.49 403.35h0M160.94 403.35h0M165.4 403.35h0M169.86 403.35h0M174.31 403.35h0M178.77 403.35h0M183.22 403.35h0M187.68 403.35h0M192.14 403.35h0M196.59 403.35h0M201.05 403.35h0M205.5 403.35h0M209.96 403.35h0M214.42 403.35h0M218.87 403.35h0M223.33 403.35h0M227.78 403.35h0M54 407.66h0M58.46 407.66h0M62.91 407.66h0M67.37 407.66h0M71.82 407.66h0M76.28 407.66h0M80.74 407.66h0M85.19 407.66h0M89.65 407.66h0M94.1 407.66h0M98.56 407.66h0M103.02 407.66h0M107.47 407.66h0M111.93 407.66h0M116.38 407.66h0M120.84 407.66h0M125.3 407.66h0M129.75 407.66h0M134.21 407.66h0M138.66 407.66h0M143.12 407.66h0M147.58 407.66h0M152.03 407.66h0M156.49 407.66h0M160.94 407.66h0M165.4 407.66h0M169.86 407.66h0M174.31 407.66h0M178.77 407.66h0M183.22 407.66h0M187.68 407.66h0M192.14 407.66h0M196.59 407.66h0M201.05 407.66h0M205.5 407.66h0M209.96 407.66h0M214.42 407.66h0M218.87 407.66h0M223.33 407.66h0M227.78 407.66h0M143.12 411.96h0M147.58 411.96h0M156.49 411.96h0M160.94 411.96h0M165.4 411.96h0M169.86 411.96h0M174.31 411.96h0M178.77 411.96h0M183.22 411.96h0M187.68 411.96h0M192.14 411.96h0M196.59 411.96h0M201.05 411.96h0M205.5 411.96h0M209.96 411.96h0M214.42 411.96h0M218.87 411.96h0M223.33 411.96h0M227.78 411.96h0M160.94 416.26h0M165.4 416.26h0M169.86 416.26h0M174.31 416.26h0M178.77 416.26h0M183.22 416.26h0M187.68 416.26h0M192.14 416.26h0M196.59 416.26h0M201.05 416.26h0M205.5 416.26h0M209.96 416.26h0M214.42 416.26h0M218.87 416.26h0M223.33 416.26h0M227.78 416.26h0M160.94 420.57h0M165.4 420.57h0M169.86 420.57h0M174.31 420.57h0M178.77 420.57h0M183.22 420.57h0M187.68 420.57h0M192.14 420.57h0M196.59 420.57h0M201.05 420.57h0M205.5 420.57h0M209.96 420.57h0M214.42 420.57h0M218.87 420.57h0M223.33 420.57h0M227.78 420.57h0M160.94 424.88h0M165.4 424.88h0M169.86 424.88h0M174.31 424.88h0M178.77 424.88h0M183.22 424.88h0M187.68 424.88h0M192.14 424.88h0M196.59 424.88h0M201.05 424.88h0M205.5 424.88h0M209.96 424.88h0M214.42 424.88h0M218.87 424.88h0M223.33 424.88h0M227.78 424.88h0M160.94 429.18h0M165.4 429.18h0M169.86 429.18h0M174.31 429.18h0M178.77 429.18h0M183.22 429.18h0M187.68 429.18h0M192.14 429.18h0M196.59 429.18h0M201.05 429.18h0M205.5 429.18h0M209.96 429.18h0M214.42 429.18h0M218.87 429.18h0M223.33 429.18h0M227.78 429.18h0M160.94 433.49h0M165.4 433.49h0M169.86 433.49h0M174.31 433.49h0M178.77 433.49h0M183.22 433.49h0M187.68 433.49h0M192.14 433.49h0M196.59 433.49h0M201.05 433.49h0M205.5 433.49h0M209.96 433.49h0M214.42 433.49h0M218.87 433.49h0M223.33 433.49h0M227.78 433.49h0M160.94 437.79h0M165.4 437.79h0M169.86 437.79h0M174.31 437.79h0M178.77 437.79h0M183.22 437.79h0M187.68 437.79h0M192.14 437.79h0M196.59 437.79h0M201.05 437.79h0M205.5 437.79h0M209.96 437.79h0M214.42 437.79h0M218.87 437.79h0M223.33 437.79h0M227.78 437.79h0M165.4 442.1h0M169.86 442.1h0M174.31 442.1h0M178.77 442.1h0M183.22 442.1h0M187.68 442.1h0M192.14 442.1h0M196.59 442.1h0M201.05 442.1h0M205.5 442.1h0M209.96 442.1h0M214.42 442.1h0M218.87 442.1h0M223.33 442.1h0M227.78 442.1h0M165.4 446.4h0M169.86 446.4h0M174.31 446.4h0M178.77 446.4h0M183.22 446.4h0M187.68 446.4h0M192.14 446.4h0M196.59 446.4h0M201.05 446.4h0M205.5 446.4h0M209.96 446.4h0M214.42 446.4h0M218.87 446.4h0M223.33 446.4h0M227.78 446.4h0M165.4 450.71h0M169.86 450.71h0M174.31 450.71h0M178.77 450.71h0M183.22 450.71h0M187.68 450.71h0M192.14 450.71h0M196.59 450.71h0M201.05 450.71h0M205.5 450.71h0M209.96 450.71h0M214.42 450.71h0M218.87 450.71h0M223.33 450.71h0M227.78 450.71h0M165.4 455.01h0M169.86 455.01h0M174.31 455.01h0M178.77 455.01h0M183.22 455.01h0M187.68 455.01h0M192.14 455.01h0M196.59 455.01h0M201.05 455.01h0M205.5 455.01h0M209.96 455.01h0M214.42 455.01h0M218.87 455.01h0M223.33 455.01h0M227.78 455.01h0M165.4 459.31h0M169.86 459.31h0M174.31 459.31h0M178.77 459.31h0M183.22 459.31h0M187.68 459.31h0M192.14 459.31h0M196.59 459.31h0M201.05 459.31h0M205.5 459.31h0M209.96 459.31h0M214.42 459.31h0M218.87 459.31h0M223.33 459.31h0M227.78 459.31h0M165.4 463.62h0M169.86 463.62h0M174.31 463.62h0M178.77 463.62h0M183.22 463.62h0M187.68 463.62h0M192.14 463.62h0M196.59 463.62h0M201.05 463.62h0M205.5 463.62h0M209.96 463.62h0M214.42 463.62h0M218.87 463.62h0M223.33 463.62h0M227.78 463.62h0M169.86 467.93h0M174.31 467.93h0M178.77 467.93h0M183.22 467.93h0M187.68 467.93h0M192.14 467.93h0M196.59 467.93h0M201.05 467.93h0M205.5 467.93h0M209.96 467.93h0M214.42 467.93h0M218.87 467.93h0M223.33 467.93h0M227.78 467.93h0M169.86 472.23h0M174.31 472.23h0M178.77 472.23h0M183.22 472.23h0M187.68 472.23h0M192.14 472.23h0M196.59 472.23h0M201.05 472.23h0M205.5 472.23h0M209.96 472.23h0M214.42 472.23h0M218.87 472.23h0M223.33 472.23h0M227.78 472.23h0M169.86 476.53h0M174.31 476.53h0M178.77 476.53h0M183.22 476.53h0M187.68 476.53h0M192.14 476.53h0M196.59 476.53h0M201.05 476.53h0M205.5 476.53h0M209.96 476.53h0M214.42 476.53h0M218.87 476.53h0M223.33 476.53h0M227.78 476.53h0M174.31 480.84h0M178.77 480.84h0M183.22 480.84h0M187.68 480.84h0M192.14 480.84h0M196.59 480.84h0M201.05 480.84h0M205.5 480.84h0M209.96 480.84h0M214.42 480.84h0M218.87 480.84h0M223.33 480.84h0M227.78 480.84h0M174.31 485.14h0M178.77 485.14h0M183.22 485.14h0M187.68 485.14h0M192.14 485.14h0M196.59 485.14h0M201.05 485.14h0M205.5 485.14h0M209.96 485.14h0M214.42 485.14h0M218.87 485.14h0M223.33 485.14h0M227.78 485.14h0M183.22 489.45h0M187.68 489.45h0M192.14 489.45h0M196.59 489.45h0M201.05 489.45h0M205.5 489.45h0M209.96 489.45h0M214.42 489.45h0M218.87 489.45h0M223.33 489.45h0M227.78 489.45h0"/>
<polyline fill="none" stroke="#111" stroke-width="1.1" stroke-linejoin="round" points="54,409.81 138.66,409.81 143.12,414.11 147.58,414.11 152.03,409.81 158.72,416.26 158.72,437.79 163.17,442.1 163.17,463.62 167.63,467.93 167.63,476.53 172.08,480.84 172.08,485.14 174.31,487.3 178.77,487.3 183.22,491.6 227.78,491.6"/>
<rect x="45.5" y="352.5" width="191.3" height="184" fill="none" stroke="#6a6a6a" stroke-width="0.85"/>
<path d="M54 536.5v3.2M97.45 536.5v3.2M140.89 536.5v3.2M184.34 536.5v3.2M227.78 536.5v3.2M45.5 528.19h-3.2M45.5 468.23h-3.2M45.5 408.27h-3.2" fill="none" stroke="#404040" stroke-width="0.9"/>
<text y="347" font-size="13.6"><tspan x="121.45">μ</tspan><tspan x="131.55" textLength="10.2" lengthAdjust="spacingAndGlyphs">=</tspan><tspan x="144.85" textLength="17.0" lengthAdjust="spacingAndGlyphs">0.5</tspan></text>
<text x="40.3" y="532.49" font-size="13.6" text-anchor="end" textLength="22.3" lengthAdjust="spacingAndGlyphs">0.50</text>
<text x="40.3" y="472.53" font-size="13.6" text-anchor="end" textLength="22.3" lengthAdjust="spacingAndGlyphs">0.75</text>
<text x="40.3" y="412.57" font-size="13.6" text-anchor="end" textLength="22.3" lengthAdjust="spacingAndGlyphs">1.00</text>
<text transform="translate(9.7 443.2) rotate(-90)" font-size="13.6"><tspan class="i" x="-11.2" y="0">F</tspan><tspan x="-3.4" y="2.3" font-size="9">max</tspan></text>
<text x="42" y="558.5" font-size="13.6" textLength="11.8" lengthAdjust="spacingAndGlyphs">10</text>
<text y="551.2" font-size="8.8"><tspan x="56" textLength="6.6" lengthAdjust="spacingAndGlyphs">−</tspan><tspan x="64">3</tspan></text>
<text x="85.45" y="558.5" font-size="13.6" textLength="11.8" lengthAdjust="spacingAndGlyphs">10</text>
<text y="551.2" font-size="8.8"><tspan x="99.45" textLength="6.6" lengthAdjust="spacingAndGlyphs">−</tspan><tspan x="107.45">2</tspan></text>
<text x="128.89" y="558.5" font-size="13.6" textLength="11.8" lengthAdjust="spacingAndGlyphs">10</text>
<text y="551.2" font-size="8.8"><tspan x="142.89" textLength="6.6" lengthAdjust="spacingAndGlyphs">−</tspan><tspan x="150.89">1</tspan></text>
<text x="177.34" y="558.5" font-size="13.6" textLength="11.8" lengthAdjust="spacingAndGlyphs">10</text>
<text x="189.84" y="551.2" font-size="8.8">0</text>
<text x="220.78" y="558.5" font-size="13.6" textLength="11.8" lengthAdjust="spacingAndGlyphs">10</text>
<text x="233.28" y="551.2" font-size="8.8">1</text>
<text class="i" x="142.45" y="578" font-size="12.8" text-anchor="middle" textLength="6.2" lengthAdjust="spacingAndGlyphs">a</text>
</g>
<g>
<path d="M256.3 352.5v184M299.75 352.5v184M343.19 352.5v184M386.64 352.5v184M430.08 352.5v184M247.4 528.19h191.3M247.4 468.23h191.3M247.4 408.27h191.3" fill="none" stroke="#f1f1f1" stroke-width="0.8"/>
<path class="d" stroke="#1d92f3" d="M256.3 411.96h0M260.76 411.96h0M265.21 411.96h0M269.67 411.96h0M274.12 411.96h0M278.58 411.96h0M283.04 411.96h0M287.49 411.96h0M291.95 411.96h0M296.4 411.96h0M300.86 411.96h0M305.32 411.96h0M309.77 411.96h0M314.23 411.96h0M318.68 411.96h0M323.14 411.96h0M327.6 411.96h0M332.05 411.96h0M336.51 411.96h0M340.96 411.96h0M345.42 411.96h0M349.88 411.96h0M354.33 411.96h0M358.79 411.96h0"/>
<path class="d" stroke="#208df4" d="M256.3 416.26h0M260.76 416.26h0M265.21 416.26h0M269.67 416.26h0M274.12 416.26h0M278.58 416.26h0M283.04 416.26h0M287.49 416.26h0M291.95 416.26h0M296.4 416.26h0M300.86 416.26h0M305.32 416.26h0M309.77 416.26h0M314.23 416.26h0M318.68 416.26h0M323.14 416.26h0M327.6 416.26h0M332.05 416.26h0M336.51 416.26h0M340.96 416.26h0M345.42 416.26h0M349.88 416.26h0M354.33 416.26h0M358.79 416.26h0"/>
<path class="d" stroke="#2488f5" d="M256.3 420.57h0M260.76 420.57h0M265.21 420.57h0M269.67 420.57h0M274.12 420.57h0M278.58 420.57h0M283.04 420.57h0M287.49 420.57h0M291.95 420.57h0M296.4 420.57h0M300.86 420.57h0M305.32 420.57h0M309.77 420.57h0M314.23 420.57h0M318.68 420.57h0M323.14 420.57h0M327.6 420.57h0M332.05 420.57h0M336.51 420.57h0M340.96 420.57h0M345.42 420.57h0M349.88 420.57h0M354.33 420.57h0M358.79 420.57h0"/>
<path class="d" stroke="#2883f6" d="M256.3 424.88h0M260.76 424.88h0M265.21 424.88h0M269.67 424.88h0M274.12 424.88h0M278.58 424.88h0M283.04 424.88h0M287.49 424.88h0M291.95 424.88h0M296.4 424.88h0M300.86 424.88h0M305.32 424.88h0M309.77 424.88h0M314.23 424.88h0M318.68 424.88h0M323.14 424.88h0M327.6 424.88h0M332.05 424.88h0M336.51 424.88h0M340.96 424.88h0M345.42 424.88h0M349.88 424.88h0M354.33 424.88h0M358.79 424.88h0M363.24 424.88h0"/>
<path class="d" stroke="#2b7ef6" d="M256.3 429.18h0M260.76 429.18h0M265.21 429.18h0M269.67 429.18h0M274.12 429.18h0M278.58 429.18h0M283.04 429.18h0M287.49 429.18h0M291.95 429.18h0M296.4 429.18h0M300.86 429.18h0M305.32 429.18h0M309.77 429.18h0M314.23 429.18h0M318.68 429.18h0M323.14 429.18h0M327.6 429.18h0M332.05 429.18h0M336.51 429.18h0M340.96 429.18h0M345.42 429.18h0M349.88 429.18h0M354.33 429.18h0M358.79 429.18h0M363.24 429.18h0"/>
<path class="d" stroke="#2f79f7" d="M256.3 433.49h0M260.76 433.49h0M265.21 433.49h0M269.67 433.49h0M274.12 433.49h0M278.58 433.49h0M283.04 433.49h0M287.49 433.49h0M291.95 433.49h0M296.4 433.49h0M300.86 433.49h0M305.32 433.49h0M309.77 433.49h0M314.23 433.49h0M318.68 433.49h0M323.14 433.49h0M327.6 433.49h0M332.05 433.49h0M336.51 433.49h0M340.96 433.49h0M345.42 433.49h0M349.88 433.49h0M354.33 433.49h0M358.79 433.49h0M363.24 433.49h0"/>
<path class="d" stroke="#3374f8" d="M256.3 437.79h0M260.76 437.79h0M265.21 437.79h0M269.67 437.79h0M274.12 437.79h0M278.58 437.79h0M283.04 437.79h0M287.49 437.79h0M291.95 437.79h0M296.4 437.79h0M300.86 437.79h0M305.32 437.79h0M309.77 437.79h0M314.23 437.79h0M318.68 437.79h0M323.14 437.79h0M327.6 437.79h0M332.05 437.79h0M336.51 437.79h0M340.96 437.79h0M345.42 437.79h0M349.88 437.79h0M354.33 437.79h0M358.79 437.79h0M363.24 437.79h0"/>
<path class="d" stroke="#366ff9" d="M256.3 442.1h0M260.76 442.1h0M265.21 442.1h0M269.67 442.1h0M274.12 442.1h0M278.58 442.1h0M283.04 442.1h0M287.49 442.1h0M291.95 442.1h0M296.4 442.1h0M300.86 442.1h0M305.32 442.1h0M309.77 442.1h0M314.23 442.1h0M318.68 442.1h0M323.14 442.1h0M327.6 442.1h0M332.05 442.1h0M336.51 442.1h0M340.96 442.1h0M345.42 442.1h0M349.88 442.1h0M354.33 442.1h0M358.79 442.1h0M363.24 442.1h0M367.7 442.1h0"/>
<path class="d" stroke="#3a6af9" d="M256.3 446.4h0M260.76 446.4h0M265.21 446.4h0M269.67 446.4h0M274.12 446.4h0M278.58 446.4h0M283.04 446.4h0M287.49 446.4h0M291.95 446.4h0M296.4 446.4h0M300.86 446.4h0M305.32 446.4h0M309.77 446.4h0M314.23 446.4h0M318.68 446.4h0M323.14 446.4h0M327.6 446.4h0M332.05 446.4h0M336.51 446.4h0M340.96 446.4h0M345.42 446.4h0M349.88 446.4h0M354.33 446.4h0M358.79 446.4h0M363.24 446.4h0M367.7 446.4h0"/>
<path class="d" stroke="#3e65fa" d="M256.3 450.71h0M260.76 450.71h0M265.21 450.71h0M269.67 450.71h0M274.12 450.71h0M278.58 450.71h0M283.04 450.71h0M287.49 450.71h0M291.95 450.71h0M296.4 450.71h0M300.86 450.71h0M305.32 450.71h0M309.77 450.71h0M314.23 450.71h0M318.68 450.71h0M323.14 450.71h0M327.6 450.71h0M332.05 450.71h0M336.51 450.71h0M340.96 450.71h0M345.42 450.71h0M349.88 450.71h0M354.33 450.71h0M358.79 450.71h0M363.24 450.71h0M367.7 450.71h0"/>
<path class="d" stroke="#415ffa" d="M256.3 455.01h0M260.76 455.01h0M265.21 455.01h0M269.67 455.01h0M274.12 455.01h0M278.58 455.01h0M283.04 455.01h0M287.49 455.01h0M291.95 455.01h0M296.4 455.01h0M300.86 455.01h0M305.32 455.01h0M309.77 455.01h0M314.23 455.01h0M318.68 455.01h0M323.14 455.01h0M327.6 455.01h0M332.05 455.01h0M336.51 455.01h0M340.96 455.01h0M345.42 455.01h0M349.88 455.01h0M354.33 455.01h0M358.79 455.01h0M363.24 455.01h0M367.7 455.01h0M372.16 455.01h0"/>
<path class="d" stroke="#455afb" d="M256.3 459.31h0M260.76 459.31h0M265.21 459.31h0M269.67 459.31h0M274.12 459.31h0M278.58 459.31h0M283.04 459.31h0M287.49 459.31h0M291.95 459.31h0M296.4 459.31h0M300.86 459.31h0M305.32 459.31h0M309.77 459.31h0M314.23 459.31h0M318.68 459.31h0M323.14 459.31h0M327.6 459.31h0M332.05 459.31h0M336.51 459.31h0M340.96 459.31h0M345.42 459.31h0M349.88 459.31h0M354.33 459.31h0M358.79 459.31h0M363.24 459.31h0M367.7 459.31h0M372.16 459.31h0M376.61 459.31h0"/>
<path class="d" stroke="#4955fb" d="M256.3 463.62h0M260.76 463.62h0M265.21 463.62h0M269.67 463.62h0M274.12 463.62h0M278.58 463.62h0M283.04 463.62h0M287.49 463.62h0M291.95 463.62h0M296.4 463.62h0M300.86 463.62h0M305.32 463.62h0M309.77 463.62h0M314.23 463.62h0M318.68 463.62h0M323.14 463.62h0M327.6 463.62h0M332.05 463.62h0M336.51 463.62h0M340.96 463.62h0M345.42 463.62h0M349.88 463.62h0M354.33 463.62h0M358.79 463.62h0M363.24 463.62h0M367.7 463.62h0M372.16 463.62h0M376.61 463.62h0M381.07 463.62h0M385.52 463.62h0"/>
<path class="d" stroke="#4c4ffc" d="M256.3 467.93h0M260.76 467.93h0M265.21 467.93h0M269.67 467.93h0M274.12 467.93h0M278.58 467.93h0M283.04 467.93h0M287.49 467.93h0M291.95 467.93h0M296.4 467.93h0M300.86 467.93h0M305.32 467.93h0M309.77 467.93h0M314.23 467.93h0M318.68 467.93h0M323.14 467.93h0M327.6 467.93h0M332.05 467.93h0M336.51 467.93h0M340.96 467.93h0M345.42 467.93h0M349.88 467.93h0M354.33 467.93h0M358.79 467.93h0M363.24 467.93h0M367.7 467.93h0M372.16 467.93h0M376.61 467.93h0M381.07 467.93h0M385.52 467.93h0M389.98 467.93h0M394.44 467.93h0M398.89 467.93h0M403.35 467.93h0M407.8 467.93h0M412.26 467.93h0M416.72 467.93h0M421.17 467.93h0M425.63 467.93h0M430.08 467.93h0"/>
<path class="d" stroke="#504afc" d="M256.3 472.23h0M260.76 472.23h0M265.21 472.23h0M269.67 472.23h0M274.12 472.23h0M278.58 472.23h0M283.04 472.23h0M287.49 472.23h0M291.95 472.23h0M296.4 472.23h0M300.86 472.23h0M305.32 472.23h0M309.77 472.23h0M314.23 472.23h0M318.68 472.23h0M323.14 472.23h0M327.6 472.23h0M332.05 472.23h0M336.51 472.23h0M340.96 472.23h0M345.42 472.23h0M349.88 472.23h0M354.33 472.23h0M358.79 472.23h0M363.24 472.23h0M367.7 472.23h0M372.16 472.23h0M376.61 472.23h0M381.07 472.23h0M385.52 472.23h0M389.98 472.23h0M394.44 472.23h0M398.89 472.23h0M403.35 472.23h0M407.8 472.23h0M412.26 472.23h0M416.72 472.23h0M421.17 472.23h0M425.63 472.23h0M430.08 472.23h0"/>
<path class="d" stroke="#5444fd" d="M256.3 476.53h0M260.76 476.53h0M265.21 476.53h0M269.67 476.53h0M274.12 476.53h0M278.58 476.53h0M283.04 476.53h0M287.49 476.53h0M291.95 476.53h0M296.4 476.53h0M300.86 476.53h0M305.32 476.53h0M309.77 476.53h0M314.23 476.53h0M318.68 476.53h0M323.14 476.53h0M327.6 476.53h0M332.05 476.53h0M336.51 476.53h0M340.96 476.53h0M345.42 476.53h0M349.88 476.53h0M354.33 476.53h0M358.79 476.53h0M363.24 476.53h0M367.7 476.53h0M372.16 476.53h0M376.61 476.53h0M381.07 476.53h0M385.52 476.53h0M389.98 476.53h0M394.44 476.53h0M398.89 476.53h0M403.35 476.53h0M407.8 476.53h0M412.26 476.53h0M416.72 476.53h0M421.17 476.53h0M425.63 476.53h0M430.08 476.53h0"/>
<path class="d" stroke="#573ffd" d="M256.3 480.84h0M260.76 480.84h0M265.21 480.84h0M269.67 480.84h0M274.12 480.84h0M278.58 480.84h0M283.04 480.84h0M287.49 480.84h0M291.95 480.84h0M296.4 480.84h0M300.86 480.84h0M305.32 480.84h0M309.77 480.84h0M314.23 480.84h0M318.68 480.84h0M323.14 480.84h0M327.6 480.84h0M332.05 480.84h0M336.51 480.84h0M340.96 480.84h0M345.42 480.84h0M349.88 480.84h0M354.33 480.84h0M358.79 480.84h0M363.24 480.84h0M367.7 480.84h0M372.16 480.84h0M376.61 480.84h0M381.07 480.84h0M385.52 480.84h0M389.98 480.84h0M394.44 480.84h0M398.89 480.84h0M403.35 480.84h0M407.8 480.84h0M412.26 480.84h0M416.72 480.84h0M421.17 480.84h0M425.63 480.84h0M430.08 480.84h0"/>
<path class="d" stroke="#5b39fd" d="M256.3 485.14h0M260.76 485.14h0M265.21 485.14h0M269.67 485.14h0M274.12 485.14h0M278.58 485.14h0M283.04 485.14h0M287.49 485.14h0M291.95 485.14h0M296.4 485.14h0M300.86 485.14h0M305.32 485.14h0M309.77 485.14h0M314.23 485.14h0M318.68 485.14h0M323.14 485.14h0M327.6 485.14h0M332.05 485.14h0M336.51 485.14h0M340.96 485.14h0M345.42 485.14h0M349.88 485.14h0M354.33 485.14h0M358.79 485.14h0M363.24 485.14h0M367.7 485.14h0M372.16 485.14h0M376.61 485.14h0M381.07 485.14h0M385.52 485.14h0M389.98 485.14h0M394.44 485.14h0M398.89 485.14h0M403.35 485.14h0M407.8 485.14h0M412.26 485.14h0M416.72 485.14h0M421.17 485.14h0M425.63 485.14h0M430.08 485.14h0"/>
<path class="d" stroke="#5f33fe" d="M256.3 489.45h0M260.76 489.45h0M265.21 489.45h0M269.67 489.45h0M274.12 489.45h0M278.58 489.45h0M283.04 489.45h0M287.49 489.45h0M291.95 489.45h0M296.4 489.45h0M300.86 489.45h0M305.32 489.45h0M309.77 489.45h0M314.23 489.45h0M318.68 489.45h0M323.14 489.45h0M327.6 489.45h0M332.05 489.45h0M336.51 489.45h0M340.96 489.45h0M345.42 489.45h0M349.88 489.45h0M354.33 489.45h0M358.79 489.45h0M363.24 489.45h0M367.7 489.45h0M372.16 489.45h0M376.61 489.45h0M381.07 489.45h0M385.52 489.45h0M389.98 489.45h0M394.44 489.45h0M398.89 489.45h0M403.35 489.45h0M407.8 489.45h0M412.26 489.45h0M416.72 489.45h0M421.17 489.45h0M425.63 489.45h0M430.08 489.45h0"/>
<path class="d" stroke="#622efe" d="M256.3 493.75h0M260.76 493.75h0M265.21 493.75h0M269.67 493.75h0M274.12 493.75h0M278.58 493.75h0M283.04 493.75h0M287.49 493.75h0M291.95 493.75h0M296.4 493.75h0M300.86 493.75h0M305.32 493.75h0M309.77 493.75h0M314.23 493.75h0M318.68 493.75h0M323.14 493.75h0M327.6 493.75h0M332.05 493.75h0M336.51 493.75h0M340.96 493.75h0M345.42 493.75h0M349.88 493.75h0M354.33 493.75h0M358.79 493.75h0M363.24 493.75h0M367.7 493.75h0M372.16 493.75h0M376.61 493.75h0M381.07 493.75h0M385.52 493.75h0M389.98 493.75h0M394.44 493.75h0M398.89 493.75h0M403.35 493.75h0M407.8 493.75h0M412.26 493.75h0M416.72 493.75h0M421.17 493.75h0M425.63 493.75h0M430.08 493.75h0"/>
<path class="d" stroke="#6628fe" d="M256.3 498.06h0M260.76 498.06h0M265.21 498.06h0M269.67 498.06h0M274.12 498.06h0M278.58 498.06h0M283.04 498.06h0M287.49 498.06h0M291.95 498.06h0M296.4 498.06h0M300.86 498.06h0M305.32 498.06h0M309.77 498.06h0M314.23 498.06h0M318.68 498.06h0M323.14 498.06h0M327.6 498.06h0M332.05 498.06h0M336.51 498.06h0M340.96 498.06h0M345.42 498.06h0M349.88 498.06h0M354.33 498.06h0M358.79 498.06h0M363.24 498.06h0M367.7 498.06h0M372.16 498.06h0M376.61 498.06h0M381.07 498.06h0M385.52 498.06h0M389.98 498.06h0M394.44 498.06h0M398.89 498.06h0M403.35 498.06h0M407.8 498.06h0M412.26 498.06h0M416.72 498.06h0M421.17 498.06h0M425.63 498.06h0M430.08 498.06h0"/>
<path class="d" stroke="#6a22fe" d="M256.3 502.37h0M260.76 502.37h0M265.21 502.37h0M269.67 502.37h0M274.12 502.37h0M278.58 502.37h0M283.04 502.37h0M287.49 502.37h0M291.95 502.37h0M296.4 502.37h0M300.86 502.37h0M305.32 502.37h0M309.77 502.37h0M314.23 502.37h0M318.68 502.37h0M323.14 502.37h0M327.6 502.37h0M332.05 502.37h0M336.51 502.37h0M340.96 502.37h0M345.42 502.37h0M349.88 502.37h0M354.33 502.37h0M358.79 502.37h0M363.24 502.37h0M367.7 502.37h0M372.16 502.37h0M376.61 502.37h0M381.07 502.37h0M385.52 502.37h0M389.98 502.37h0M394.44 502.37h0M398.89 502.37h0M403.35 502.37h0M407.8 502.37h0M412.26 502.37h0M416.72 502.37h0M421.17 502.37h0M425.63 502.37h0M430.08 502.37h0"/>
<path class="d" stroke="#6d1dff" d="M256.3 506.67h0M260.76 506.67h0M265.21 506.67h0M269.67 506.67h0M274.12 506.67h0M278.58 506.67h0M283.04 506.67h0M287.49 506.67h0M291.95 506.67h0M296.4 506.67h0M300.86 506.67h0M305.32 506.67h0M309.77 506.67h0M314.23 506.67h0M318.68 506.67h0M323.14 506.67h0M327.6 506.67h0M332.05 506.67h0M336.51 506.67h0M340.96 506.67h0M345.42 506.67h0M349.88 506.67h0M354.33 506.67h0M358.79 506.67h0M363.24 506.67h0M367.7 506.67h0M372.16 506.67h0M376.61 506.67h0M381.07 506.67h0M385.52 506.67h0M389.98 506.67h0M394.44 506.67h0M398.89 506.67h0M403.35 506.67h0M407.8 506.67h0M412.26 506.67h0M416.72 506.67h0M421.17 506.67h0M425.63 506.67h0M430.08 506.67h0"/>
<path class="d" stroke="#7117ff" d="M256.3 510.98h0M260.76 510.98h0M265.21 510.98h0M269.67 510.98h0M274.12 510.98h0M278.58 510.98h0M283.04 510.98h0M287.49 510.98h0M291.95 510.98h0M296.4 510.98h0M300.86 510.98h0M305.32 510.98h0M309.77 510.98h0M314.23 510.98h0M318.68 510.98h0M323.14 510.98h0M327.6 510.98h0M332.05 510.98h0M336.51 510.98h0M340.96 510.98h0M345.42 510.98h0M349.88 510.98h0M354.33 510.98h0M358.79 510.98h0M363.24 510.98h0M367.7 510.98h0M372.16 510.98h0M376.61 510.98h0M381.07 510.98h0M385.52 510.98h0M389.98 510.98h0M394.44 510.98h0M398.89 510.98h0M403.35 510.98h0M407.8 510.98h0M412.26 510.98h0M416.72 510.98h0M421.17 510.98h0M425.63 510.98h0M430.08 510.98h0"/>
<path class="d" stroke="#7511ff" d="M256.3 515.28h0M260.76 515.28h0M265.21 515.28h0M269.67 515.28h0M274.12 515.28h0M278.58 515.28h0M283.04 515.28h0M287.49 515.28h0M291.95 515.28h0M296.4 515.28h0M300.86 515.28h0M305.32 515.28h0M309.77 515.28h0M314.23 515.28h0M318.68 515.28h0M323.14 515.28h0M327.6 515.28h0M332.05 515.28h0M336.51 515.28h0M340.96 515.28h0M345.42 515.28h0M349.88 515.28h0M354.33 515.28h0M358.79 515.28h0M363.24 515.28h0M367.7 515.28h0M372.16 515.28h0M376.61 515.28h0M381.07 515.28h0M385.52 515.28h0M389.98 515.28h0M394.44 515.28h0M398.89 515.28h0M403.35 515.28h0M407.8 515.28h0M412.26 515.28h0M416.72 515.28h0M421.17 515.28h0M425.63 515.28h0M430.08 515.28h0"/>
<path class="d" stroke="#780bff" d="M256.3 519.59h0M260.76 519.59h0M265.21 519.59h0M269.67 519.59h0M274.12 519.59h0M278.58 519.59h0M283.04 519.59h0M287.49 519.59h0M291.95 519.59h0M296.4 519.59h0M300.86 519.59h0M305.32 519.59h0M309.77 519.59h0M314.23 519.59h0M318.68 519.59h0M323.14 519.59h0M327.6 519.59h0M332.05 519.59h0M336.51 519.59h0M340.96 519.59h0M345.42 519.59h0M349.88 519.59h0M354.33 519.59h0M358.79 519.59h0M363.24 519.59h0M367.7 519.59h0M372.16 519.59h0M376.61 519.59h0M381.07 519.59h0M385.52 519.59h0M389.98 519.59h0M394.44 519.59h0M398.89 519.59h0M403.35 519.59h0M407.8 519.59h0M412.26 519.59h0M416.72 519.59h0M421.17 519.59h0M425.63 519.59h0M430.08 519.59h0"/>
<path class="d" stroke="#7c06ff" d="M256.3 523.89h0M260.76 523.89h0M265.21 523.89h0M269.67 523.89h0M274.12 523.89h0M278.58 523.89h0M283.04 523.89h0M287.49 523.89h0M291.95 523.89h0M296.4 523.89h0M300.86 523.89h0M305.32 523.89h0M309.77 523.89h0M314.23 523.89h0M318.68 523.89h0M323.14 523.89h0M327.6 523.89h0M332.05 523.89h0M336.51 523.89h0M340.96 523.89h0M345.42 523.89h0M349.88 523.89h0M354.33 523.89h0M358.79 523.89h0M363.24 523.89h0M367.7 523.89h0M372.16 523.89h0M376.61 523.89h0M381.07 523.89h0M385.52 523.89h0M389.98 523.89h0M394.44 523.89h0M398.89 523.89h0M403.35 523.89h0M407.8 523.89h0M412.26 523.89h0M416.72 523.89h0M421.17 523.89h0M425.63 523.89h0M430.08 523.89h0"/>
<path class="d" stroke="#8000ff" d="M256.3 528.19h0M260.76 528.19h0M265.21 528.19h0M269.67 528.19h0M274.12 528.19h0M278.58 528.19h0M283.04 528.19h0M287.49 528.19h0M291.95 528.19h0M296.4 528.19h0M300.86 528.19h0M305.32 528.19h0M309.77 528.19h0M314.23 528.19h0M318.68 528.19h0M323.14 528.19h0M327.6 528.19h0M332.05 528.19h0M336.51 528.19h0M340.96 528.19h0M345.42 528.19h0M349.88 528.19h0M354.33 528.19h0M358.79 528.19h0M363.24 528.19h0M367.7 528.19h0M372.16 528.19h0M376.61 528.19h0M381.07 528.19h0M385.52 528.19h0M389.98 528.19h0M394.44 528.19h0M398.89 528.19h0M403.35 528.19h0M407.8 528.19h0M412.26 528.19h0M416.72 528.19h0M421.17 528.19h0M425.63 528.19h0M430.08 528.19h0"/>
<path class="d" stroke="#ff0000" d="M256.3 360.3h0M260.76 360.3h0M265.21 360.3h0M269.67 360.3h0M274.12 360.3h0M278.58 360.3h0M283.04 360.3h0M287.49 360.3h0M291.95 360.3h0M296.4 360.3h0M300.86 360.3h0M305.32 360.3h0M309.77 360.3h0M314.23 360.3h0M318.68 360.3h0M323.14 360.3h0M327.6 360.3h0M332.05 360.3h0M336.51 360.3h0M340.96 360.3h0M345.42 360.3h0M349.88 360.3h0M354.33 360.3h0M358.79 360.3h0M363.24 360.3h0M367.7 360.3h0M372.16 360.3h0M376.61 360.3h0M381.07 360.3h0M385.52 360.3h0M389.98 360.3h0M394.44 360.3h0M398.89 360.3h0M403.35 360.3h0M407.8 360.3h0M412.26 360.3h0M416.72 360.3h0M421.17 360.3h0M425.63 360.3h0M430.08 360.3h0M256.3 364.61h0M260.76 364.61h0M265.21 364.61h0M269.67 364.61h0M274.12 364.61h0M278.58 364.61h0M283.04 364.61h0M287.49 364.61h0M291.95 364.61h0M296.4 364.61h0M300.86 364.61h0M305.32 364.61h0M309.77 364.61h0M314.23 364.61h0M318.68 364.61h0M323.14 364.61h0M327.6 364.61h0M332.05 364.61h0M336.51 364.61h0M340.96 364.61h0M345.42 364.61h0M349.88 364.61h0M354.33 364.61h0M358.79 364.61h0M363.24 364.61h0M367.7 364.61h0M372.16 364.61h0M376.61 364.61h0M381.07 364.61h0M385.52 364.61h0M389.98 364.61h0M394.44 364.61h0M398.89 364.61h0M403.35 364.61h0M407.8 364.61h0M412.26 364.61h0M416.72 364.61h0M421.17 364.61h0M425.63 364.61h0M430.08 364.61h0M256.3 368.91h0M260.76 368.91h0M265.21 368.91h0M269.67 368.91h0M274.12 368.91h0M278.58 368.91h0M283.04 368.91h0M287.49 368.91h0M291.95 368.91h0M296.4 368.91h0M300.86 368.91h0M305.32 368.91h0M309.77 368.91h0M314.23 368.91h0M318.68 368.91h0M323.14 368.91h0M327.6 368.91h0M332.05 368.91h0M336.51 368.91h0M340.96 368.91h0M345.42 368.91h0M349.88 368.91h0M354.33 368.91h0M358.79 368.91h0M363.24 368.91h0M367.7 368.91h0M372.16 368.91h0M376.61 368.91h0M381.07 368.91h0M385.52 368.91h0M389.98 368.91h0M394.44 368.91h0M398.89 368.91h0M403.35 368.91h0M407.8 368.91h0M412.26 368.91h0M416.72 368.91h0M421.17 368.91h0M425.63 368.91h0M430.08 368.91h0M256.3 373.22h0M260.76 373.22h0M265.21 373.22h0M269.67 373.22h0M274.12 373.22h0M278.58 373.22h0M283.04 373.22h0M287.49 373.22h0M291.95 373.22h0M296.4 373.22h0M300.86 373.22h0M305.32 373.22h0M309.77 373.22h0M314.23 373.22h0M318.68 373.22h0M323.14 373.22h0M327.6 373.22h0M332.05 373.22h0M336.51 373.22h0M340.96 373.22h0M345.42 373.22h0M349.88 373.22h0M354.33 373.22h0M358.79 373.22h0M363.24 373.22h0M367.7 373.22h0M372.16 373.22h0M376.61 373.22h0M381.07 373.22h0M385.52 373.22h0M389.98 373.22h0M394.44 373.22h0M398.89 373.22h0M403.35 373.22h0M407.8 373.22h0M412.26 373.22h0M416.72 373.22h0M421.17 373.22h0M425.63 373.22h0M430.08 373.22h0M256.3 377.52h0M260.76 377.52h0M265.21 377.52h0M269.67 377.52h0M274.12 377.52h0M278.58 377.52h0M283.04 377.52h0M287.49 377.52h0M291.95 377.52h0M296.4 377.52h0M300.86 377.52h0M305.32 377.52h0M309.77 377.52h0M314.23 377.52h0M318.68 377.52h0M323.14 377.52h0M327.6 377.52h0M332.05 377.52h0M336.51 377.52h0M340.96 377.52h0M345.42 377.52h0M349.88 377.52h0M354.33 377.52h0M358.79 377.52h0M363.24 377.52h0M367.7 377.52h0M372.16 377.52h0M376.61 377.52h0M381.07 377.52h0M385.52 377.52h0M389.98 377.52h0M394.44 377.52h0M398.89 377.52h0M403.35 377.52h0M407.8 377.52h0M412.26 377.52h0M416.72 377.52h0M421.17 377.52h0M425.63 377.52h0M430.08 377.52h0M256.3 381.82h0M260.76 381.82h0M265.21 381.82h0M269.67 381.82h0M274.12 381.82h0M278.58 381.82h0M283.04 381.82h0M287.49 381.82h0M291.95 381.82h0M296.4 381.82h0M300.86 381.82h0M305.32 381.82h0M309.77 381.82h0M314.23 381.82h0M318.68 381.82h0M323.14 381.82h0M327.6 381.82h0M332.05 381.82h0M336.51 381.82h0M340.96 381.82h0M345.42 381.82h0M349.88 381.82h0M354.33 381.82h0M358.79 381.82h0M363.24 381.82h0M367.7 381.82h0M372.16 381.82h0M376.61 381.82h0M381.07 381.82h0M385.52 381.82h0M389.98 381.82h0M394.44 381.82h0M398.89 381.82h0M403.35 381.82h0M407.8 381.82h0M412.26 381.82h0M416.72 381.82h0M421.17 381.82h0M425.63 381.82h0M430.08 381.82h0M256.3 386.13h0M260.76 386.13h0M265.21 386.13h0M269.67 386.13h0M274.12 386.13h0M278.58 386.13h0M283.04 386.13h0M287.49 386.13h0M291.95 386.13h0M296.4 386.13h0M300.86 386.13h0M305.32 386.13h0M309.77 386.13h0M314.23 386.13h0M318.68 386.13h0M323.14 386.13h0M327.6 386.13h0M332.05 386.13h0M336.51 386.13h0M340.96 386.13h0M345.42 386.13h0M349.88 386.13h0M354.33 386.13h0M358.79 386.13h0M363.24 386.13h0M367.7 386.13h0M372.16 386.13h0M376.61 386.13h0M381.07 386.13h0M385.52 386.13h0M389.98 386.13h0M394.44 386.13h0M398.89 386.13h0M403.35 386.13h0M407.8 386.13h0M412.26 386.13h0M416.72 386.13h0M421.17 386.13h0M425.63 386.13h0M430.08 386.13h0M256.3 390.44h0M260.76 390.44h0M265.21 390.44h0M269.67 390.44h0M274.12 390.44h0M278.58 390.44h0M283.04 390.44h0M287.49 390.44h0M291.95 390.44h0M296.4 390.44h0M300.86 390.44h0M305.32 390.44h0M309.77 390.44h0M314.23 390.44h0M318.68 390.44h0M323.14 390.44h0M327.6 390.44h0M332.05 390.44h0M336.51 390.44h0M340.96 390.44h0M345.42 390.44h0M349.88 390.44h0M354.33 390.44h0M358.79 390.44h0M363.24 390.44h0M367.7 390.44h0M372.16 390.44h0M376.61 390.44h0M381.07 390.44h0M385.52 390.44h0M389.98 390.44h0M394.44 390.44h0M398.89 390.44h0M403.35 390.44h0M407.8 390.44h0M412.26 390.44h0M416.72 390.44h0M421.17 390.44h0M425.63 390.44h0M430.08 390.44h0M256.3 394.74h0M260.76 394.74h0M265.21 394.74h0M269.67 394.74h0M274.12 394.74h0M278.58 394.74h0M283.04 394.74h0M287.49 394.74h0M291.95 394.74h0M296.4 394.74h0M300.86 394.74h0M305.32 394.74h0M309.77 394.74h0M314.23 394.74h0M318.68 394.74h0M323.14 394.74h0M327.6 394.74h0M332.05 394.74h0M336.51 394.74h0M340.96 394.74h0M345.42 394.74h0M349.88 394.74h0M354.33 394.74h0M358.79 394.74h0M363.24 394.74h0M367.7 394.74h0M372.16 394.74h0M376.61 394.74h0M381.07 394.74h0M385.52 394.74h0M389.98 394.74h0M394.44 394.74h0M398.89 394.74h0M403.35 394.74h0M407.8 394.74h0M412.26 394.74h0M416.72 394.74h0M421.17 394.74h0M425.63 394.74h0M430.08 394.74h0M256.3 399.05h0M260.76 399.05h0M265.21 399.05h0M269.67 399.05h0M274.12 399.05h0M278.58 399.05h0M283.04 399.05h0M287.49 399.05h0M291.95 399.05h0M296.4 399.05h0M300.86 399.05h0M305.32 399.05h0M309.77 399.05h0M314.23 399.05h0M318.68 399.05h0M323.14 399.05h0M327.6 399.05h0M332.05 399.05h0M336.51 399.05h0M340.96 399.05h0M345.42 399.05h0M349.88 399.05h0M354.33 399.05h0M358.79 399.05h0M363.24 399.05h0M367.7 399.05h0M372.16 399.05h0M376.61 399.05h0M381.07 399.05h0M385.52 399.05h0M389.98 399.05h0M394.44 399.05h0M398.89 399.05h0M403.35 399.05h0M407.8 399.05h0M412.26 399.05h0M416.72 399.05h0M421.17 399.05h0M425.63 399.05h0M430.08 399.05h0M256.3 403.35h0M260.76 403.35h0M265.21 403.35h0M269.67 403.35h0M274.12 403.35h0M278.58 403.35h0M283.04 403.35h0M287.49 403.35h0M291.95 403.35h0M296.4 403.35h0M300.86 403.35h0M305.32 403.35h0M309.77 403.35h0M314.23 403.35h0M318.68 403.35h0M323.14 403.35h0M327.6 403.35h0M332.05 403.35h0M336.51 403.35h0M340.96 403.35h0M345.42 403.35h0M349.88 403.35h0M354.33 403.35h0M358.79 403.35h0M363.24 403.35h0M367.7 403.35h0M372.16 403.35h0M376.61 403.35h0M381.07 403.35h0M385.52 403.35h0M389.98 403.35h0M394.44 403.35h0M398.89 403.35h0M403.35 403.35h0M407.8 403.35h0M412.26 403.35h0M416.72 403.35h0M421.17 403.35h0M425.63 403.35h0M430.08 403.35h0M256.3 407.66h0M260.76 407.66h0M265.21 407.66h0M269.67 407.66h0M274.12 407.66h0M278.58 407.66h0M283.04 407.66h0M287.49 407.66h0M291.95 407.66h0M296.4 407.66h0M300.86 407.66h0M305.32 407.66h0M309.77 407.66h0M314.23 407.66h0M318.68 407.66h0M323.14 407.66h0M327.6 407.66h0M332.05 407.66h0M336.51 407.66h0M340.96 407.66h0M345.42 407.66h0M349.88 407.66h0M354.33 407.66h0M358.79 407.66h0M363.24 407.66h0M367.7 407.66h0M372.16 407.66h0M376.61 407.66h0M381.07 407.66h0M385.52 407.66h0M389.98 407.66h0M394.44 407.66h0M398.89 407.66h0M403.35 407.66h0M407.8 407.66h0M412.26 407.66h0M416.72 407.66h0M421.17 407.66h0M425.63 407.66h0M430.08 407.66h0M363.24 411.96h0M367.7 411.96h0M372.16 411.96h0M376.61 411.96h0M381.07 411.96h0M385.52 411.96h0M389.98 411.96h0M394.44 411.96h0M398.89 411.96h0M403.35 411.96h0M407.8 411.96h0M412.26 411.96h0M416.72 411.96h0M421.17 411.96h0M425.63 411.96h0M430.08 411.96h0M363.24 416.26h0M367.7 416.26h0M372.16 416.26h0M376.61 416.26h0M381.07 416.26h0M385.52 416.26h0M389.98 416.26h0M394.44 416.26h0M398.89 416.26h0M403.35 416.26h0M407.8 416.26h0M412.26 416.26h0M416.72 416.26h0M421.17 416.26h0M425.63 416.26h0M430.08 416.26h0M363.24 420.57h0M367.7 420.57h0M372.16 420.57h0M376.61 420.57h0M381.07 420.57h0M385.52 420.57h0M389.98 420.57h0M394.44 420.57h0M398.89 420.57h0M403.35 420.57h0M407.8 420.57h0M412.26 420.57h0M416.72 420.57h0M421.17 420.57h0M425.63 420.57h0M430.08 420.57h0M367.7 424.88h0M372.16 424.88h0M376.61 424.88h0M381.07 424.88h0M385.52 424.88h0M389.98 424.88h0M394.44 424.88h0M398.89 424.88h0M403.35 424.88h0M407.8 424.88h0M412.26 424.88h0M416.72 424.88h0M421.17 424.88h0M425.63 424.88h0M430.08 424.88h0M367.7 429.18h0M372.16 429.18h0M376.61 429.18h0M381.07 429.18h0M385.52 429.18h0M389.98 429.18h0M394.44 429.18h0M398.89 429.18h0M403.35 429.18h0M407.8 429.18h0M412.26 429.18h0M416.72 429.18h0M421.17 429.18h0M425.63 429.18h0M430.08 429.18h0M367.7 433.49h0M372.16 433.49h0M376.61 433.49h0M381.07 433.49h0M385.52 433.49h0M389.98 433.49h0M394.44 433.49h0M398.89 433.49h0M403.35 433.49h0M407.8 433.49h0M412.26 433.49h0M416.72 433.49h0M421.17 433.49h0M425.63 433.49h0M430.08 433.49h0M367.7 437.79h0M372.16 437.79h0M376.61 437.79h0M381.07 437.79h0M385.52 437.79h0M389.98 437.79h0M394.44 437.79h0M398.89 437.79h0M403.35 437.79h0M407.8 437.79h0M412.26 437.79h0M416.72 437.79h0M421.17 437.79h0M425.63 437.79h0M430.08 437.79h0M372.16 442.1h0M376.61 442.1h0M381.07 442.1h0M385.52 442.1h0M389.98 442.1h0M394.44 442.1h0M398.89 442.1h0M403.35 442.1h0M407.8 442.1h0M412.26 442.1h0M416.72 442.1h0M421.17 442.1h0M425.63 442.1h0M430.08 442.1h0M372.16 446.4h0M376.61 446.4h0M381.07 446.4h0M385.52 446.4h0M389.98 446.4h0M394.44 446.4h0M398.89 446.4h0M403.35 446.4h0M407.8 446.4h0M412.26 446.4h0M416.72 446.4h0M421.17 446.4h0M425.63 446.4h0M430.08 446.4h0M372.16 450.71h0M376.61 450.71h0M381.07 450.71h0M385.52 450.71h0M389.98 450.71h0M394.44 450.71h0M398.89 450.71h0M403.35 450.71h0M407.8 450.71h0M412.26 450.71h0M416.72 450.71h0M421.17 450.71h0M425.63 450.71h0M430.08 450.71h0M376.61 455.01h0M381.07 455.01h0M385.52 455.01h0M389.98 455.01h0M394.44 455.01h0M398.89 455.01h0M403.35 455.01h0M407.8 455.01h0M412.26 455.01h0M416.72 455.01h0M421.17 455.01h0M425.63 455.01h0M430.08 455.01h0M381.07 459.31h0M385.52 459.31h0M389.98 459.31h0M394.44 459.31h0M398.89 459.31h0M403.35 459.31h0M407.8 459.31h0M412.26 459.31h0M416.72 459.31h0M421.17 459.31h0M425.63 459.31h0M430.08 459.31h0M389.98 463.62h0M394.44 463.62h0M398.89 463.62h0M403.35 463.62h0M407.8 463.62h0M412.26 463.62h0M416.72 463.62h0M421.17 463.62h0M425.63 463.62h0M430.08 463.62h0"/>
<polyline fill="none" stroke="#111" stroke-width="1.1" stroke-linejoin="round" points="256.3,409.81 358.79,409.81 361.02,411.96 361.02,420.57 365.47,424.88 365.47,437.79 369.93,442.1 369.93,450.71 381.07,461.47 385.52,461.47 389.98,465.77 430.08,465.77"/>
<rect x="247.4" y="352.5" width="191.3" height="184" fill="none" stroke="#6a6a6a" stroke-width="0.85"/>
<path d="M256.3 536.5v3.2M299.75 536.5v3.2M343.19 536.5v3.2M386.64 536.5v3.2M430.08 536.5v3.2M438.7 528.19h3.2M438.7 468.23h3.2M438.7 408.27h3.2" fill="none" stroke="#404040" stroke-width="0.9"/>
<text y="347" font-size="13.6"><tspan x="323.35">μ</tspan><tspan x="333.45" textLength="10.2" lengthAdjust="spacingAndGlyphs">=</tspan><tspan x="346.75" textLength="17.0" lengthAdjust="spacingAndGlyphs">1.0</tspan></text>
<text x="244.3" y="558.5" font-size="13.6" textLength="11.8" lengthAdjust="spacingAndGlyphs">10</text>
<text y="551.2" font-size="8.8"><tspan x="258.3" textLength="6.6" lengthAdjust="spacingAndGlyphs">−</tspan><tspan x="266.3">3</tspan></text>
<text x="287.75" y="558.5" font-size="13.6" textLength="11.8" lengthAdjust="spacingAndGlyphs">10</text>
<text y="551.2" font-size="8.8"><tspan x="301.75" textLength="6.6" lengthAdjust="spacingAndGlyphs">−</tspan><tspan x="309.75">2</tspan></text>
<text x="331.19" y="558.5" font-size="13.6" textLength="11.8" lengthAdjust="spacingAndGlyphs">10</text>
<text y="551.2" font-size="8.8"><tspan x="345.19" textLength="6.6" lengthAdjust="spacingAndGlyphs">−</tspan><tspan x="353.19">1</tspan></text>
<text x="379.64" y="558.5" font-size="13.6" textLength="11.8" lengthAdjust="spacingAndGlyphs">10</text>
<text x="392.14" y="551.2" font-size="8.8">0</text>
<text x="423.08" y="558.5" font-size="13.6" textLength="11.8" lengthAdjust="spacingAndGlyphs">10</text>
<text x="435.58" y="551.2" font-size="8.8">1</text>
<text class="i" x="344.35" y="578" font-size="12.8" text-anchor="middle" textLength="6.2" lengthAdjust="spacingAndGlyphs">a</text>
</g>
<g>
<path d="M461.5 352.5v184M504.95 352.5v184M548.39 352.5v184M591.84 352.5v184M635.28 352.5v184M452.5 528.19h191.3M452.5 468.23h191.3M452.5 408.27h191.3" fill="none" stroke="#f1f1f1" stroke-width="0.8"/>
<path class="d" stroke="#1d92f3" d="M461.5 411.96h0M465.96 411.96h0M470.41 411.96h0M474.87 411.96h0M479.32 411.96h0M483.78 411.96h0M488.24 411.96h0M492.69 411.96h0M497.15 411.96h0M501.6 411.96h0M506.06 411.96h0M510.52 411.96h0M514.97 411.96h0M519.43 411.96h0M523.88 411.96h0M528.34 411.96h0M532.8 411.96h0M537.25 411.96h0M541.71 411.96h0M546.16 411.96h0M550.62 411.96h0M555.08 411.96h0M559.53 411.96h0M563.99 411.96h0M568.44 411.96h0M572.9 411.96h0M577.36 411.96h0M581.81 411.96h0M586.27 411.96h0M590.72 411.96h0M595.18 411.96h0M599.64 411.96h0M604.09 411.96h0M608.55 411.96h0M613 411.96h0M617.46 411.96h0M621.92 411.96h0M626.37 411.96h0M630.83 411.96h0M635.28 411.96h0"/>
<path class="d" stroke="#208df4" d="M461.5 416.26h0M465.96 416.26h0M470.41 416.26h0M474.87 416.26h0M479.32 416.26h0M483.78 416.26h0M488.24 416.26h0M492.69 416.26h0M497.15 416.26h0M501.6 416.26h0M506.06 416.26h0M510.52 416.26h0M514.97 416.26h0M519.43 416.26h0M523.88 416.26h0M528.34 416.26h0M532.8 416.26h0M537.25 416.26h0M541.71 416.26h0M546.16 416.26h0M550.62 416.26h0M555.08 416.26h0M559.53 416.26h0M563.99 416.26h0M568.44 416.26h0M572.9 416.26h0M577.36 416.26h0M581.81 416.26h0M586.27 416.26h0M590.72 416.26h0M595.18 416.26h0M599.64 416.26h0M604.09 416.26h0M608.55 416.26h0M613 416.26h0M617.46 416.26h0M621.92 416.26h0M626.37 416.26h0M630.83 416.26h0M635.28 416.26h0"/>
<path class="d" stroke="#2488f5" d="M461.5 420.57h0M465.96 420.57h0M470.41 420.57h0M474.87 420.57h0M479.32 420.57h0M483.78 420.57h0M488.24 420.57h0M492.69 420.57h0M497.15 420.57h0M501.6 420.57h0M506.06 420.57h0M510.52 420.57h0M514.97 420.57h0M519.43 420.57h0M523.88 420.57h0M528.34 420.57h0M532.8 420.57h0M537.25 420.57h0M541.71 420.57h0M546.16 420.57h0M550.62 420.57h0M555.08 420.57h0M559.53 420.57h0M563.99 420.57h0M568.44 420.57h0M572.9 420.57h0M577.36 420.57h0M581.81 420.57h0M586.27 420.57h0M590.72 420.57h0M595.18 420.57h0M599.64 420.57h0M604.09 420.57h0M608.55 420.57h0M613 420.57h0M617.46 420.57h0M621.92 420.57h0M626.37 420.57h0M630.83 420.57h0M635.28 420.57h0"/>
<path class="d" stroke="#2883f6" d="M461.5 424.88h0M465.96 424.88h0M470.41 424.88h0M474.87 424.88h0M479.32 424.88h0M483.78 424.88h0M488.24 424.88h0M492.69 424.88h0M497.15 424.88h0M501.6 424.88h0M506.06 424.88h0M510.52 424.88h0M514.97 424.88h0M519.43 424.88h0M523.88 424.88h0M528.34 424.88h0M532.8 424.88h0M537.25 424.88h0M541.71 424.88h0M546.16 424.88h0M550.62 424.88h0M555.08 424.88h0M559.53 424.88h0M563.99 424.88h0M568.44 424.88h0M572.9 424.88h0M577.36 424.88h0M581.81 424.88h0M586.27 424.88h0M590.72 424.88h0M595.18 424.88h0M599.64 424.88h0M604.09 424.88h0M608.55 424.88h0M613 424.88h0M617.46 424.88h0M621.92 424.88h0M626.37 424.88h0M630.83 424.88h0M635.28 424.88h0"/>
<path class="d" stroke="#2b7ef6" d="M461.5 429.18h0M465.96 429.18h0M470.41 429.18h0M474.87 429.18h0M479.32 429.18h0M483.78 429.18h0M488.24 429.18h0M492.69 429.18h0M497.15 429.18h0M501.6 429.18h0M506.06 429.18h0M510.52 429.18h0M514.97 429.18h0M519.43 429.18h0M523.88 429.18h0M528.34 429.18h0M532.8 429.18h0M537.25 429.18h0M541.71 429.18h0M546.16 429.18h0M550.62 429.18h0M555.08 429.18h0M559.53 429.18h0M563.99 429.18h0M568.44 429.18h0M572.9 429.18h0M577.36 429.18h0M581.81 429.18h0M586.27 429.18h0M590.72 429.18h0M595.18 429.18h0M599.64 429.18h0M604.09 429.18h0M608.55 429.18h0M613 429.18h0M617.46 429.18h0M621.92 429.18h0M626.37 429.18h0M630.83 429.18h0M635.28 429.18h0"/>
<path class="d" stroke="#2f79f7" d="M461.5 433.49h0M465.96 433.49h0M470.41 433.49h0M474.87 433.49h0M479.32 433.49h0M483.78 433.49h0M488.24 433.49h0M492.69 433.49h0M497.15 433.49h0M501.6 433.49h0M506.06 433.49h0M510.52 433.49h0M514.97 433.49h0M519.43 433.49h0M523.88 433.49h0M528.34 433.49h0M532.8 433.49h0M537.25 433.49h0M541.71 433.49h0M546.16 433.49h0M550.62 433.49h0M555.08 433.49h0M559.53 433.49h0M563.99 433.49h0M568.44 433.49h0M572.9 433.49h0M577.36 433.49h0M581.81 433.49h0M586.27 433.49h0M590.72 433.49h0M595.18 433.49h0M599.64 433.49h0M604.09 433.49h0M608.55 433.49h0M613 433.49h0M617.46 433.49h0M621.92 433.49h0M626.37 433.49h0M630.83 433.49h0M635.28 433.49h0"/>
<path class="d" stroke="#3374f8" d="M461.5 437.79h0M465.96 437.79h0M470.41 437.79h0M474.87 437.79h0M479.32 437.79h0M483.78 437.79h0M488.24 437.79h0M492.69 437.79h0M497.15 437.79h0M501.6 437.79h0M506.06 437.79h0M510.52 437.79h0M514.97 437.79h0M519.43 437.79h0M523.88 437.79h0M528.34 437.79h0M532.8 437.79h0M537.25 437.79h0M541.71 437.79h0M546.16 437.79h0M550.62 437.79h0M555.08 437.79h0M559.53 437.79h0M563.99 437.79h0M568.44 437.79h0M572.9 437.79h0M577.36 437.79h0M581.81 437.79h0M586.27 437.79h0M590.72 437.79h0M595.18 437.79h0M599.64 437.79h0M604.09 437.79h0M608.55 437.79h0M613 437.79h0M617.46 437.79h0M621.92 437.79h0M626.37 437.79h0M630.83 437.79h0M635.28 437.79h0"/>
<path class="d" stroke="#366ff9" d="M461.5 442.1h0M465.96 442.1h0M470.41 442.1h0M474.87 442.1h0M479.32 442.1h0M483.78 442.1h0M488.24 442.1h0M492.69 442.1h0M497.15 442.1h0M501.6 442.1h0M506.06 442.1h0M510.52 442.1h0M514.97 442.1h0M519.43 442.1h0M523.88 442.1h0M528.34 442.1h0M532.8 442.1h0M537.25 442.1h0M541.71 442.1h0M546.16 442.1h0M550.62 442.1h0M555.08 442.1h0M559.53 442.1h0M563.99 442.1h0M568.44 442.1h0M572.9 442.1h0M577.36 442.1h0M581.81 442.1h0M586.27 442.1h0M590.72 442.1h0M595.18 442.1h0M599.64 442.1h0M604.09 442.1h0M608.55 442.1h0M613 442.1h0M617.46 442.1h0M621.92 442.1h0M626.37 442.1h0M630.83 442.1h0M635.28 442.1h0"/>
<path class="d" stroke="#3a6af9" d="M461.5 446.4h0M465.96 446.4h0M470.41 446.4h0M474.87 446.4h0M479.32 446.4h0M483.78 446.4h0M488.24 446.4h0M492.69 446.4h0M497.15 446.4h0M501.6 446.4h0M506.06 446.4h0M510.52 446.4h0M514.97 446.4h0M519.43 446.4h0M523.88 446.4h0M528.34 446.4h0M532.8 446.4h0M537.25 446.4h0M541.71 446.4h0M546.16 446.4h0M550.62 446.4h0M555.08 446.4h0M559.53 446.4h0M563.99 446.4h0M568.44 446.4h0M572.9 446.4h0M577.36 446.4h0M581.81 446.4h0M586.27 446.4h0M590.72 446.4h0M595.18 446.4h0M599.64 446.4h0M604.09 446.4h0M608.55 446.4h0M613 446.4h0M617.46 446.4h0M621.92 446.4h0M626.37 446.4h0M630.83 446.4h0M635.28 446.4h0"/>
<path class="d" stroke="#3e65fa" d="M461.5 450.71h0M465.96 450.71h0M470.41 450.71h0M474.87 450.71h0M479.32 450.71h0M483.78 450.71h0M488.24 450.71h0M492.69 450.71h0M497.15 450.71h0M501.6 450.71h0M506.06 450.71h0M510.52 450.71h0M514.97 450.71h0M519.43 450.71h0M523.88 450.71h0M528.34 450.71h0M532.8 450.71h0M537.25 450.71h0M541.71 450.71h0M546.16 450.71h0M550.62 450.71h0M555.08 450.71h0M559.53 450.71h0M563.99 450.71h0M568.44 450.71h0M572.9 450.71h0M577.36 450.71h0M581.81 450.71h0M586.27 450.71h0M590.72 450.71h0M595.18 450.71h0M599.64 450.71h0M604.09 450.71h0M608.55 450.71h0M613 450.71h0M617.46 450.71h0M621.92 450.71h0M626.37 450.71h0M630.83 450.71h0M635.28 450.71h0"/>
<path class="d" stroke="#415ffa" d="M461.5 455.01h0M465.96 455.01h0M470.41 455.01h0M474.87 455.01h0M479.32 455.01h0M483.78 455.01h0M488.24 455.01h0M492.69 455.01h0M497.15 455.01h0M501.6 455.01h0M506.06 455.01h0M510.52 455.01h0M514.97 455.01h0M519.43 455.01h0M523.88 455.01h0M528.34 455.01h0M532.8 455.01h0M537.25 455.01h0M541.71 455.01h0M546.16 455.01h0M550.62 455.01h0M555.08 455.01h0M559.53 455.01h0M563.99 455.01h0M568.44 455.01h0M572.9 455.01h0M577.36 455.01h0M581.81 455.01h0M586.27 455.01h0M590.72 455.01h0M595.18 455.01h0M599.64 455.01h0M604.09 455.01h0M608.55 455.01h0M613 455.01h0M617.46 455.01h0M621.92 455.01h0M626.37 455.01h0M630.83 455.01h0M635.28 455.01h0"/>
<path class="d" stroke="#455afb" d="M461.5 459.31h0M465.96 459.31h0M470.41 459.31h0M474.87 459.31h0M479.32 459.31h0M483.78 459.31h0M488.24 459.31h0M492.69 459.31h0M497.15 459.31h0M501.6 459.31h0M506.06 459.31h0M510.52 459.31h0M514.97 459.31h0M519.43 459.31h0M523.88 459.31h0M528.34 459.31h0M532.8 459.31h0M537.25 459.31h0M541.71 459.31h0M546.16 459.31h0M550.62 459.31h0M555.08 459.31h0M559.53 459.31h0M563.99 459.31h0M568.44 459.31h0M572.9 459.31h0M577.36 459.31h0M581.81 459.31h0M586.27 459.31h0M590.72 459.31h0M595.18 459.31h0M599.64 459.31h0M604.09 459.31h0M608.55 459.31h0M613 459.31h0M617.46 459.31h0M621.92 459.31h0M626.37 459.31h0M630.83 459.31h0M635.28 459.31h0"/>
<path class="d" stroke="#4955fb" d="M461.5 463.62h0M465.96 463.62h0M470.41 463.62h0M474.87 463.62h0M479.32 463.62h0M483.78 463.62h0M488.24 463.62h0M492.69 463.62h0M497.15 463.62h0M501.6 463.62h0M506.06 463.62h0M510.52 463.62h0M514.97 463.62h0M519.43 463.62h0M523.88 463.62h0M528.34 463.62h0M532.8 463.62h0M537.25 463.62h0M541.71 463.62h0M546.16 463.62h0M550.62 463.62h0M555.08 463.62h0M559.53 463.62h0M563.99 463.62h0M568.44 463.62h0M572.9 463.62h0M577.36 463.62h0M581.81 463.62h0M586.27 463.62h0M590.72 463.62h0M595.18 463.62h0M599.64 463.62h0M604.09 463.62h0M608.55 463.62h0M613 463.62h0M617.46 463.62h0M621.92 463.62h0M626.37 463.62h0M630.83 463.62h0M635.28 463.62h0"/>
<path class="d" stroke="#4c4ffc" d="M461.5 467.93h0M465.96 467.93h0M470.41 467.93h0M474.87 467.93h0M479.32 467.93h0M483.78 467.93h0M488.24 467.93h0M492.69 467.93h0M497.15 467.93h0M501.6 467.93h0M506.06 467.93h0M510.52 467.93h0M514.97 467.93h0M519.43 467.93h0M523.88 467.93h0M528.34 467.93h0M532.8 467.93h0M537.25 467.93h0M541.71 467.93h0M546.16 467.93h0M550.62 467.93h0M555.08 467.93h0M559.53 467.93h0M563.99 467.93h0M568.44 467.93h0M572.9 467.93h0M577.36 467.93h0M581.81 467.93h0M586.27 467.93h0M590.72 467.93h0M595.18 467.93h0M599.64 467.93h0M604.09 467.93h0M608.55 467.93h0M613 467.93h0M617.46 467.93h0M621.92 467.93h0M626.37 467.93h0M630.83 467.93h0M635.28 467.93h0"/>
<path class="d" stroke="#504afc" d="M461.5 472.23h0M465.96 472.23h0M470.41 472.23h0M474.87 472.23h0M479.32 472.23h0M483.78 472.23h0M488.24 472.23h0M492.69 472.23h0M497.15 472.23h0M501.6 472.23h0M506.06 472.23h0M510.52 472.23h0M514.97 472.23h0M519.43 472.23h0M523.88 472.23h0M528.34 472.23h0M532.8 472.23h0M537.25 472.23h0M541.71 472.23h0M546.16 472.23h0M550.62 472.23h0M555.08 472.23h0M559.53 472.23h0M563.99 472.23h0M568.44 472.23h0M572.9 472.23h0M577.36 472.23h0M581.81 472.23h0M586.27 472.23h0M590.72 472.23h0M595.18 472.23h0M599.64 472.23h0M604.09 472.23h0M608.55 472.23h0M613 472.23h0M617.46 472.23h0M621.92 472.23h0M626.37 472.23h0M630.83 472.23h0M635.28 472.23h0"/>
<path class="d" stroke="#5444fd" d="M461.5 476.53h0M465.96 476.53h0M470.41 476.53h0M474.87 476.53h0M479.32 476.53h0M483.78 476.53h0M488.24 476.53h0M492.69 476.53h0M497.15 476.53h0M501.6 476.53h0M506.06 476.53h0M510.52 476.53h0M514.97 476.53h0M519.43 476.53h0M523.88 476.53h0M528.34 476.53h0M532.8 476.53h0M537.25 476.53h0M541.71 476.53h0M546.16 476.53h0M550.62 476.53h0M555.08 476.53h0M559.53 476.53h0M563.99 476.53h0M568.44 476.53h0M572.9 476.53h0M577.36 476.53h0M581.81 476.53h0M586.27 476.53h0M590.72 476.53h0M595.18 476.53h0M599.64 476.53h0M604.09 476.53h0M608.55 476.53h0M613 476.53h0M617.46 476.53h0M621.92 476.53h0M626.37 476.53h0M630.83 476.53h0M635.28 476.53h0"/>
<path class="d" stroke="#573ffd" d="M461.5 480.84h0M465.96 480.84h0M470.41 480.84h0M474.87 480.84h0M479.32 480.84h0M483.78 480.84h0M488.24 480.84h0M492.69 480.84h0M497.15 480.84h0M501.6 480.84h0M506.06 480.84h0M510.52 480.84h0M514.97 480.84h0M519.43 480.84h0M523.88 480.84h0M528.34 480.84h0M532.8 480.84h0M537.25 480.84h0M541.71 480.84h0M546.16 480.84h0M550.62 480.84h0M555.08 480.84h0M559.53 480.84h0M563.99 480.84h0M568.44 480.84h0M572.9 480.84h0M577.36 480.84h0M581.81 480.84h0M586.27 480.84h0M590.72 480.84h0M595.18 480.84h0M599.64 480.84h0M604.09 480.84h0M608.55 480.84h0M613 480.84h0M617.46 480.84h0M621.92 480.84h0M626.37 480.84h0M630.83 480.84h0M635.28 480.84h0"/>
<path class="d" stroke="#5b39fd" d="M461.5 485.14h0M465.96 485.14h0M470.41 485.14h0M474.87 485.14h0M479.32 485.14h0M483.78 485.14h0M488.24 485.14h0M492.69 485.14h0M497.15 485.14h0M501.6 485.14h0M506.06 485.14h0M510.52 485.14h0M514.97 485.14h0M519.43 485.14h0M523.88 485.14h0M528.34 485.14h0M532.8 485.14h0M537.25 485.14h0M541.71 485.14h0M546.16 485.14h0M550.62 485.14h0M555.08 485.14h0M559.53 485.14h0M563.99 485.14h0M568.44 485.14h0M572.9 485.14h0M577.36 485.14h0M581.81 485.14h0M586.27 485.14h0M590.72 485.14h0M595.18 485.14h0M599.64 485.14h0M604.09 485.14h0M608.55 485.14h0M613 485.14h0M617.46 485.14h0M621.92 485.14h0M626.37 485.14h0M630.83 485.14h0M635.28 485.14h0"/>
<path class="d" stroke="#5f33fe" d="M461.5 489.45h0M465.96 489.45h0M470.41 489.45h0M474.87 489.45h0M479.32 489.45h0M483.78 489.45h0M488.24 489.45h0M492.69 489.45h0M497.15 489.45h0M501.6 489.45h0M506.06 489.45h0M510.52 489.45h0M514.97 489.45h0M519.43 489.45h0M523.88 489.45h0M528.34 489.45h0M532.8 489.45h0M537.25 489.45h0M541.71 489.45h0M546.16 489.45h0M550.62 489.45h0M555.08 489.45h0M559.53 489.45h0M563.99 489.45h0M568.44 489.45h0M572.9 489.45h0M577.36 489.45h0M581.81 489.45h0M586.27 489.45h0M590.72 489.45h0M595.18 489.45h0M599.64 489.45h0M604.09 489.45h0M608.55 489.45h0M613 489.45h0M617.46 489.45h0M621.92 489.45h0M626.37 489.45h0M630.83 489.45h0M635.28 489.45h0"/>
<path class="d" stroke="#622efe" d="M461.5 493.75h0M465.96 493.75h0M470.41 493.75h0M474.87 493.75h0M479.32 493.75h0M483.78 493.75h0M488.24 493.75h0M492.69 493.75h0M497.15 493.75h0M501.6 493.75h0M506.06 493.75h0M510.52 493.75h0M514.97 493.75h0M519.43 493.75h0M523.88 493.75h0M528.34 493.75h0M532.8 493.75h0M537.25 493.75h0M541.71 493.75h0M546.16 493.75h0M550.62 493.75h0M555.08 493.75h0M559.53 493.75h0M563.99 493.75h0M568.44 493.75h0M572.9 493.75h0M577.36 493.75h0M581.81 493.75h0M586.27 493.75h0M590.72 493.75h0M595.18 493.75h0M599.64 493.75h0M604.09 493.75h0M608.55 493.75h0M613 493.75h0M617.46 493.75h0M621.92 493.75h0M626.37 493.75h0M630.83 493.75h0M635.28 493.75h0"/>
<path class="d" stroke="#6628fe" d="M461.5 498.06h0M465.96 498.06h0M470.41 498.06h0M474.87 498.06h0M479.32 498.06h0M483.78 498.06h0M488.24 498.06h0M492.69 498.06h0M497.15 498.06h0M501.6 498.06h0M506.06 498.06h0M510.52 498.06h0M514.97 498.06h0M519.43 498.06h0M523.88 498.06h0M528.34 498.06h0M532.8 498.06h0M537.25 498.06h0M541.71 498.06h0M546.16 498.06h0M550.62 498.06h0M555.08 498.06h0M559.53 498.06h0M563.99 498.06h0M568.44 498.06h0M572.9 498.06h0M577.36 498.06h0M581.81 498.06h0M586.27 498.06h0M590.72 498.06h0M595.18 498.06h0M599.64 498.06h0M604.09 498.06h0M608.55 498.06h0M613 498.06h0M617.46 498.06h0M621.92 498.06h0M626.37 498.06h0M630.83 498.06h0M635.28 498.06h0"/>
<path class="d" stroke="#6a22fe" d="M461.5 502.37h0M465.96 502.37h0M470.41 502.37h0M474.87 502.37h0M479.32 502.37h0M483.78 502.37h0M488.24 502.37h0M492.69 502.37h0M497.15 502.37h0M501.6 502.37h0M506.06 502.37h0M510.52 502.37h0M514.97 502.37h0M519.43 502.37h0M523.88 502.37h0M528.34 502.37h0M532.8 502.37h0M537.25 502.37h0M541.71 502.37h0M546.16 502.37h0M550.62 502.37h0M555.08 502.37h0M559.53 502.37h0M563.99 502.37h0M568.44 502.37h0M572.9 502.37h0M577.36 502.37h0M581.81 502.37h0M586.27 502.37h0M590.72 502.37h0M595.18 502.37h0M599.64 502.37h0M604.09 502.37h0M608.55 502.37h0M613 502.37h0M617.46 502.37h0M621.92 502.37h0M626.37 502.37h0M630.83 502.37h0M635.28 502.37h0"/>
<path class="d" stroke="#6d1dff" d="M461.5 506.67h0M465.96 506.67h0M470.41 506.67h0M474.87 506.67h0M479.32 506.67h0M483.78 506.67h0M488.24 506.67h0M492.69 506.67h0M497.15 506.67h0M501.6 506.67h0M506.06 506.67h0M510.52 506.67h0M514.97 506.67h0M519.43 506.67h0M523.88 506.67h0M528.34 506.67h0M532.8 506.67h0M537.25 506.67h0M541.71 506.67h0M546.16 506.67h0M550.62 506.67h0M555.08 506.67h0M559.53 506.67h0M563.99 506.67h0M568.44 506.67h0M572.9 506.67h0M577.36 506.67h0M581.81 506.67h0M586.27 506.67h0M590.72 506.67h0M595.18 506.67h0M599.64 506.67h0M604.09 506.67h0M608.55 506.67h0M613 506.67h0M617.46 506.67h0M621.92 506.67h0M626.37 506.67h0M630.83 506.67h0M635.28 506.67h0"/>
<path class="d" stroke="#7117ff" d="M461.5 510.98h0M465.96 510.98h0M470.41 510.98h0M474.87 510.98h0M479.32 510.98h0M483.78 510.98h0M488.24 510.98h0M492.69 510.98h0M497.15 510.98h0M501.6 510.98h0M506.06 510.98h0M510.52 510.98h0M514.97 510.98h0M519.43 510.98h0M523.88 510.98h0M528.34 510.98h0M532.8 510.98h0M537.25 510.98h0M541.71 510.98h0M546.16 510.98h0M550.62 510.98h0M555.08 510.98h0M559.53 510.98h0M563.99 510.98h0M568.44 510.98h0M572.9 510.98h0M577.36 510.98h0M581.81 510.98h0M586.27 510.98h0M590.72 510.98h0M595.18 510.98h0M599.64 510.98h0M604.09 510.98h0M608.55 510.98h0M613 510.98h0M617.46 510.98h0M621.92 510.98h0M626.37 510.98h0M630.83 510.98h0M635.28 510.98h0"/>
<path class="d" stroke="#7511ff" d="M461.5 515.28h0M465.96 515.28h0M470.41 515.28h0M474.87 515.28h0M479.32 515.28h0M483.78 515.28h0M488.24 515.28h0M492.69 515.28h0M497.15 515.28h0M501.6 515.28h0M506.06 515.28h0M510.52 515.28h0M514.97 515.28h0M519.43 515.28h0M523.88 515.28h0M528.34 515.28h0M532.8 515.28h0M537.25 515.28h0M541.71 515.28h0M546.16 515.28h0M550.62 515.28h0M555.08 515.28h0M559.53 515.28h0M563.99 515.28h0M568.44 515.28h0M572.9 515.28h0M577.36 515.28h0M581.81 515.28h0M586.27 515.28h0M590.72 515.28h0M595.18 515.28h0M599.64 515.28h0M604.09 515.28h0M608.55 515.28h0M613 515.28h0M617.46 515.28h0M621.92 515.28h0M626.37 515.28h0M630.83 515.28h0M635.28 515.28h0"/>
<path class="d" stroke="#780bff" d="M461.5 519.59h0M465.96 519.59h0M470.41 519.59h0M474.87 519.59h0M479.32 519.59h0M483.78 519.59h0M488.24 519.59h0M492.69 519.59h0M497.15 519.59h0M501.6 519.59h0M506.06 519.59h0M510.52 519.59h0M514.97 519.59h0M519.43 519.59h0M523.88 519.59h0M528.34 519.59h0M532.8 519.59h0M537.25 519.59h0M541.71 519.59h0M546.16 519.59h0M550.62 519.59h0M555.08 519.59h0M559.53 519.59h0M563.99 519.59h0M568.44 519.59h0M572.9 519.59h0M577.36 519.59h0M581.81 519.59h0M586.27 519.59h0M590.72 519.59h0M595.18 519.59h0M599.64 519.59h0M604.09 519.59h0M608.55 519.59h0M613 519.59h0M617.46 519.59h0M621.92 519.59h0M626.37 519.59h0M630.83 519.59h0M635.28 519.59h0"/>
<path class="d" stroke="#7c06ff" d="M461.5 523.89h0M465.96 523.89h0M470.41 523.89h0M474.87 523.89h0M479.32 523.89h0M483.78 523.89h0M488.24 523.89h0M492.69 523.89h0M497.15 523.89h0M501.6 523.89h0M506.06 523.89h0M510.52 523.89h0M514.97 523.89h0M519.43 523.89h0M523.88 523.89h0M528.34 523.89h0M532.8 523.89h0M537.25 523.89h0M541.71 523.89h0M546.16 523.89h0M550.62 523.89h0M555.08 523.89h0M559.53 523.89h0M563.99 523.89h0M568.44 523.89h0M572.9 523.89h0M577.36 523.89h0M581.81 523.89h0M586.27 523.89h0M590.72 523.89h0M595.18 523.89h0M599.64 523.89h0M604.09 523.89h0M608.55 523.89h0M613 523.89h0M617.46 523.89h0M621.92 523.89h0M626.37 523.89h0M630.83 523.89h0M635.28 523.89h0"/>
<path class="d" stroke="#8000ff" d="M461.5 528.19h0M465.96 528.19h0M470.41 528.19h0M474.87 528.19h0M479.32 528.19h0M483.78 528.19h0M488.24 528.19h0M492.69 528.19h0M497.15 528.19h0M501.6 528.19h0M506.06 528.19h0M510.52 528.19h0M514.97 528.19h0M519.43 528.19h0M523.88 528.19h0M528.34 528.19h0M532.8 528.19h0M537.25 528.19h0M541.71 528.19h0M546.16 528.19h0M550.62 528.19h0M555.08 528.19h0M559.53 528.19h0M563.99 528.19h0M568.44 528.19h0M572.9 528.19h0M577.36 528.19h0M581.81 528.19h0M586.27 528.19h0M590.72 528.19h0M595.18 528.19h0M599.64 528.19h0M604.09 528.19h0M608.55 528.19h0M613 528.19h0M617.46 528.19h0M621.92 528.19h0M626.37 528.19h0M630.83 528.19h0M635.28 528.19h0"/>
<path class="d" stroke="#ff0000" d="M461.5 360.3h0M465.96 360.3h0M470.41 360.3h0M474.87 360.3h0M479.32 360.3h0M483.78 360.3h0M488.24 360.3h0M492.69 360.3h0M497.15 360.3h0M501.6 360.3h0M506.06 360.3h0M510.52 360.3h0M514.97 360.3h0M519.43 360.3h0M523.88 360.3h0M528.34 360.3h0M532.8 360.3h0M537.25 360.3h0M541.71 360.3h0M546.16 360.3h0M550.62 360.3h0M555.08 360.3h0M559.53 360.3h0M563.99 360.3h0M568.44 360.3h0M572.9 360.3h0M577.36 360.3h0M581.81 360.3h0M586.27 360.3h0M590.72 360.3h0M595.18 360.3h0M599.64 360.3h0M604.09 360.3h0M608.55 360.3h0M613 360.3h0M617.46 360.3h0M621.92 360.3h0M626.37 360.3h0M630.83 360.3h0M635.28 360.3h0M461.5 364.61h0M465.96 364.61h0M470.41 364.61h0M474.87 364.61h0M479.32 364.61h0M483.78 364.61h0M488.24 364.61h0M492.69 364.61h0M497.15 364.61h0M501.6 364.61h0M506.06 364.61h0M510.52 364.61h0M514.97 364.61h0M519.43 364.61h0M523.88 364.61h0M528.34 364.61h0M532.8 364.61h0M537.25 364.61h0M541.71 364.61h0M546.16 364.61h0M550.62 364.61h0M555.08 364.61h0M559.53 364.61h0M563.99 364.61h0M568.44 364.61h0M572.9 364.61h0M577.36 364.61h0M581.81 364.61h0M586.27 364.61h0M590.72 364.61h0M595.18 364.61h0M599.64 364.61h0M604.09 364.61h0M608.55 364.61h0M613 364.61h0M617.46 364.61h0M621.92 364.61h0M626.37 364.61h0M630.83 364.61h0M635.28 364.61h0M461.5 368.91h0M465.96 368.91h0M470.41 368.91h0M474.87 368.91h0M479.32 368.91h0M483.78 368.91h0M488.24 368.91h0M492.69 368.91h0M497.15 368.91h0M501.6 368.91h0M506.06 368.91h0M510.52 368.91h0M514.97 368.91h0M519.43 368.91h0M523.88 368.91h0M528.34 368.91h0M532.8 368.91h0M537.25 368.91h0M541.71 368.91h0M546.16 368.91h0M550.62 368.91h0M555.08 368.91h0M559.53 368.91h0M563.99 368.91h0M568.44 368.91h0M572.9 368.91h0M577.36 368.91h0M581.81 368.91h0M586.27 368.91h0M590.72 368.91h0M595.18 368.91h0M599.64 368.91h0M604.09 368.91h0M608.55 368.91h0M613 368.91h0M617.46 368.91h0M621.92 368.91h0M626.37 368.91h0M630.83 368.91h0M635.28 368.91h0M461.5 373.22h0M465.96 373.22h0M470.41 373.22h0M474.87 373.22h0M479.32 373.22h0M483.78 373.22h0M488.24 373.22h0M492.69 373.22h0M497.15 373.22h0M501.6 373.22h0M506.06 373.22h0M510.52 373.22h0M514.97 373.22h0M519.43 373.22h0M523.88 373.22h0M528.34 373.22h0M532.8 373.22h0M537.25 373.22h0M541.71 373.22h0M546.16 373.22h0M550.62 373.22h0M555.08 373.22h0M559.53 373.22h0M563.99 373.22h0M568.44 373.22h0M572.9 373.22h0M577.36 373.22h0M581.81 373.22h0M586.27 373.22h0M590.72 373.22h0M595.18 373.22h0M599.64 373.22h0M604.09 373.22h0M608.55 373.22h0M613 373.22h0M617.46 373.22h0M621.92 373.22h0M626.37 373.22h0M630.83 373.22h0M635.28 373.22h0M461.5 377.52h0M465.96 377.52h0M470.41 377.52h0M474.87 377.52h0M479.32 377.52h0M483.78 377.52h0M488.24 377.52h0M492.69 377.52h0M497.15 377.52h0M501.6 377.52h0M506.06 377.52h0M510.52 377.52h0M514.97 377.52h0M519.43 377.52h0M523.88 377.52h0M528.34 377.52h0M532.8 377.52h0M537.25 377.52h0M541.71 377.52h0M546.16 377.52h0M550.62 377.52h0M555.08 377.52h0M559.53 377.52h0M563.99 377.52h0M568.44 377.52h0M572.9 377.52h0M577.36 377.52h0M581.81 377.52h0M586.27 377.52h0M590.72 377.52h0M595.18 377.52h0M599.64 377.52h0M604.09 377.52h0M608.55 377.52h0M613 377.52h0M617.46 377.52h0M621.92 377.52h0M626.37 377.52h0M630.83 377.52h0M635.28 377.52h0M461.5 381.82h0M465.96 381.82h0M470.41 381.82h0M474.87 381.82h0M479.32 381.82h0M483.78 381.82h0M488.24 381.82h0M492.69 381.82h0M497.15 381.82h0M501.6 381.82h0M506.06 381.82h0M510.52 381.82h0M514.97 381.82h0M519.43 381.82h0M523.88 381.82h0M528.34 381.82h0M532.8 381.82h0M537.25 381.82h0M541.71 381.82h0M546.16 381.82h0M550.62 381.82h0M555.08 381.82h0M559.53 381.82h0M563.99 381.82h0M568.44 381.82h0M572.9 381.82h0M577.36 381.82h0M581.81 381.82h0M586.27 381.82h0M590.72 381.82h0M595.18 381.82h0M599.64 381.82h0M604.09 381.82h0M608.55 381.82h0M613 381.82h0M617.46 381.82h0M621.92 381.82h0M626.37 381.82h0M630.83 381.82h0M635.28 381.82h0M461.5 386.13h0M465.96 386.13h0M470.41 386.13h0M474.87 386.13h0M479.32 386.13h0M483.78 386.13h0M488.24 386.13h0M492.69 386.13h0M497.15 386.13h0M501.6 386.13h0M506.06 386.13h0M510.52 386.13h0M514.97 386.13h0M519.43 386.13h0M523.88 386.13h0M528.34 386.13h0M532.8 386.13h0M537.25 386.13h0M541.71 386.13h0M546.16 386.13h0M550.62 386.13h0M555.08 386.13h0M559.53 386.13h0M563.99 386.13h0M568.44 386.13h0M572.9 386.13h0M577.36 386.13h0M581.81 386.13h0M586.27 386.13h0M590.72 386.13h0M595.18 386.13h0M599.64 386.13h0M604.09 386.13h0M608.55 386.13h0M613 386.13h0M617.46 386.13h0M621.92 386.13h0M626.37 386.13h0M630.83 386.13h0M635.28 386.13h0M461.5 390.44h0M465.96 390.44h0M470.41 390.44h0M474.87 390.44h0M479.32 390.44h0M483.78 390.44h0M488.24 390.44h0M492.69 390.44h0M497.15 390.44h0M501.6 390.44h0M506.06 390.44h0M510.52 390.44h0M514.97 390.44h0M519.43 390.44h0M523.88 390.44h0M528.34 390.44h0M532.8 390.44h0M537.25 390.44h0M541.71 390.44h0M546.16 390.44h0M550.62 390.44h0M555.08 390.44h0M559.53 390.44h0M563.99 390.44h0M568.44 390.44h0M572.9 390.44h0M577.36 390.44h0M581.81 390.44h0M586.27 390.44h0M590.72 390.44h0M595.18 390.44h0M599.64 390.44h0M604.09 390.44h0M608.55 390.44h0M613 390.44h0M617.46 390.44h0M621.92 390.44h0M626.37 390.44h0M630.83 390.44h0M635.28 390.44h0M461.5 394.74h0M465.96 394.74h0M470.41 394.74h0M474.87 394.74h0M479.32 394.74h0M483.78 394.74h0M488.24 394.74h0M492.69 394.74h0M497.15 394.74h0M501.6 394.74h0M506.06 394.74h0M510.52 394.74h0M514.97 394.74h0M519.43 394.74h0M523.88 394.74h0M528.34 394.74h0M532.8 394.74h0M537.25 394.74h0M541.71 394.74h0M546.16 394.74h0M550.62 394.74h0M555.08 394.74h0M559.53 394.74h0M563.99 394.74h0M568.44 394.74h0M572.9 394.74h0M577.36 394.74h0M581.81 394.74h0M586.27 394.74h0M590.72 394.74h0M595.18 394.74h0M599.64 394.74h0M604.09 394.74h0M608.55 394.74h0M613 394.74h0M617.46 394.74h0M621.92 394.74h0M626.37 394.74h0M630.83 394.74h0M635.28 394.74h0M461.5 399.05h0M465.96 399.05h0M470.41 399.05h0M474.87 399.05h0M479.32 399.05h0M483.78 399.05h0M488.24 399.05h0M492.69 399.05h0M497.15 399.05h0M501.6 399.05h0M506.06 399.05h0M510.52 399.05h0M514.97 399.05h0M519.43 399.05h0M523.88 399.05h0M528.34 399.05h0M532.8 399.05h0M537.25 399.05h0M541.71 399.05h0M546.16 399.05h0M550.62 399.05h0M555.08 399.05h0M559.53 399.05h0M563.99 399.05h0M568.44 399.05h0M572.9 399.05h0M577.36 399.05h0M581.81 399.05h0M586.27 399.05h0M590.72 399.05h0M595.18 399.05h0M599.64 399.05h0M604.09 399.05h0M608.55 399.05h0M613 399.05h0M617.46 399.05h0M621.92 399.05h0M626.37 399.05h0M630.83 399.05h0M635.28 399.05h0M461.5 403.35h0M465.96 403.35h0M470.41 403.35h0M474.87 403.35h0M479.32 403.35h0M483.78 403.35h0M488.24 403.35h0M492.69 403.35h0M497.15 403.35h0M501.6 403.35h0M506.06 403.35h0M510.52 403.35h0M514.97 403.35h0M519.43 403.35h0M523.88 403.35h0M528.34 403.35h0M532.8 403.35h0M537.25 403.35h0M541.71 403.35h0M546.16 403.35h0M550.62 403.35h0M555.08 403.35h0M559.53 403.35h0M563.99 403.35h0M568.44 403.35h0M572.9 403.35h0M577.36 403.35h0M581.81 403.35h0M586.27 403.35h0M590.72 403.35h0M595.18 403.35h0M599.64 403.35h0M604.09 403.35h0M608.55 403.35h0M613 403.35h0M617.46 403.35h0M621.92 403.35h0M626.37 403.35h0M630.83 403.35h0M635.28 403.35h0M461.5 407.66h0M465.96 407.66h0M470.41 407.66h0M474.87 407.66h0M479.32 407.66h0M483.78 407.66h0M488.24 407.66h0M492.69 407.66h0M497.15 407.66h0M501.6 407.66h0M506.06 407.66h0M510.52 407.66h0M514.97 407.66h0M519.43 407.66h0M523.88 407.66h0M528.34 407.66h0M532.8 407.66h0M537.25 407.66h0M541.71 407.66h0M546.16 407.66h0M550.62 407.66h0M555.08 407.66h0M559.53 407.66h0M563.99 407.66h0M568.44 407.66h0M572.9 407.66h0M577.36 407.66h0M581.81 407.66h0M586.27 407.66h0M590.72 407.66h0M595.18 407.66h0M599.64 407.66h0M604.09 407.66h0M608.55 407.66h0M613 407.66h0M617.46 407.66h0M621.92 407.66h0M626.37 407.66h0M630.83 407.66h0M635.28 407.66h0"/>
<polyline fill="none" stroke="#111" stroke-width="1.1" stroke-linejoin="round" points="461.5,409.81 635.28,409.81"/>
<rect x="452.5" y="352.5" width="191.3" height="184" fill="none" stroke="#6a6a6a" stroke-width="0.85"/>
<path d="M461.5 536.5v3.2M504.95 536.5v3.2M548.39 536.5v3.2M591.84 536.5v3.2M635.28 536.5v3.2M643.8 528.19h3.2M643.8 468.23h3.2M643.8 408.27h3.2" fill="none" stroke="#404040" stroke-width="0.9"/>
<text y="347" font-size="13.6"><tspan x="528.45">μ</tspan><tspan x="538.55" textLength="10.2" lengthAdjust="spacingAndGlyphs">=</tspan><tspan x="551.85" textLength="17.0" lengthAdjust="spacingAndGlyphs">5.0</tspan></text>
<text x="449.5" y="558.5" font-size="13.6" textLength="11.8" lengthAdjust="spacingAndGlyphs">10</text>
<text y="551.2" font-size="8.8"><tspan x="463.5" textLength="6.6" lengthAdjust="spacingAndGlyphs">−</tspan><tspan x="471.5">3</tspan></text>
<text x="492.95" y="558.5" font-size="13.6" textLength="11.8" lengthAdjust="spacingAndGlyphs">10</text>
<text y="551.2" font-size="8.8"><tspan x="506.95" textLength="6.6" lengthAdjust="spacingAndGlyphs">−</tspan><tspan x="514.95">2</tspan></text>
<text x="536.39" y="558.5" font-size="13.6" textLength="11.8" lengthAdjust="spacingAndGlyphs">10</text>
<text y="551.2" font-size="8.8"><tspan x="550.39" textLength="6.6" lengthAdjust="spacingAndGlyphs">−</tspan><tspan x="558.39">1</tspan></text>
<text x="584.84" y="558.5" font-size="13.6" textLength="11.8" lengthAdjust="spacingAndGlyphs">10</text>
<text x="597.34" y="551.2" font-size="8.8">0</text>
<text x="628.28" y="558.5" font-size="13.6" textLength="11.8" lengthAdjust="spacingAndGlyphs">10</text>
<text x="640.78" y="551.2" font-size="8.8">1</text>
<text class="i" x="549.45" y="578" font-size="12.8" text-anchor="middle" textLength="6.2" lengthAdjust="spacingAndGlyphs">a</text>
</g>
<rect x="325.1" y="186.1" width="45" height="25" fill="none" stroke="#8a8a8a" stroke-width="1.4"/>
<path d="M257.3 104L325.1 186.1M437 104L370.1 186.1" fill="none" stroke="#8a8a8a" stroke-width="1.3"/>
<g>
<rect x="256.5" y="1.6" width="179.9" height="102.65" fill="#fff" stroke="#8a8a8a" stroke-width="2.9"/>
<path d="M329.9 3.3V102.7M258 13.3H435M258 60.7H435" fill="none" stroke="#e4e4e4" stroke-width="0.9"/>
<path d="M284.4 3.3V102.7" fill="none" stroke="#ededed" stroke-width="0.9"/>
<path d="M266.7 10.4h0M284.68 10.4h0M302.66 10.4h0M320.64 10.4h0M338.62 10.4h0M356.6 10.4h0M374.58 10.4h0M392.56 10.4h0M410.54 10.4h0M428.52 10.4h0M338.62 27.7h0M356.6 27.7h0M374.58 27.7h0M392.56 27.7h0M410.54 27.7h0M428.52 27.7h0M338.62 45h0M356.6 45h0M392.56 45h0M410.54 45h0M428.52 45h0M410.54 62.3h0M428.52 62.3h0M410.54 79.6h0M428.52 79.6h0M410.54 96.9h0M428.52 96.9h0" fill="none" stroke="#ff0000" stroke-linecap="round" stroke-width="9.7"/>
<path d="M266.7 27.7h0M284.68 27.7h0M302.66 27.7h0M320.64 27.7h0M266.7 45h0M284.68 45h0M302.66 45h0M320.64 45h0M374.58 45h0M266.7 62.3h0M284.68 62.3h0M302.66 62.3h0M320.64 62.3h0M338.62 62.3h0M356.6 62.3h0M374.58 62.3h0M392.56 62.3h0M266.7 79.6h0M284.68 79.6h0M302.66 79.6h0M320.64 79.6h0M338.62 79.6h0M356.6 79.6h0M374.58 79.6h0M392.56 79.6h0M266.7 96.9h0M284.68 96.9h0M302.66 96.9h0M320.64 96.9h0M338.62 96.9h0M356.6 96.9h0M374.58 96.9h0M392.56 96.9h0" fill="none" stroke="#1e8bf0" stroke-linecap="round" stroke-width="9.7"/>
<clipPath id="ic"><rect x="257.95" y="3.05" width="177" height="99.5"/></clipPath>
<polyline clip-path="url(#ic)" fill="none" stroke="#000" stroke-width="3.4" stroke-linejoin="miter" points="253.8,6.8 265.3,18.3 320.4,18.8 331,27.6 331,44 338.2,52 357.6,52.2 375.1,37 402.6,61.8 403.6,106"/>
<rect x="292.6" y="34.6" width="108.6" height="20.6" fill="none" stroke="#6a0dc4" stroke-width="2.7"/>
</g>
<defs><linearGradient id="cb" x1="0" y1="1" x2="0" y2="0">
<stop offset="0" stop-color="#8000ff"/>
<stop offset="0.03" stop-color="#7314ff"/>
<stop offset="0.05" stop-color="#6628fe"/>
<stop offset="0.07" stop-color="#593cfd"/>
<stop offset="0.1" stop-color="#4c4ffc"/>
<stop offset="0.12" stop-color="#4062fa"/>
<stop offset="0.15" stop-color="#3374f8"/>
<stop offset="0.17" stop-color="#2685f5"/>
<stop offset="0.2" stop-color="#1996f3"/>
<stop offset="0.23" stop-color="#0da6ef"/>
<stop offset="0.25" stop-color="#00b4ec"/>
<stop offset="0.28" stop-color="#0dc2e8"/>
<stop offset="0.3" stop-color="#19cee3"/>
<stop offset="0.33" stop-color="#26d9de"/>
<stop offset="0.35" stop-color="#33e3d9"/>
<stop offset="0.38" stop-color="#40ecd4"/>
<stop offset="0.4" stop-color="#4df3ce"/>
<stop offset="0.42" stop-color="#59f8c8"/>
<stop offset="0.45" stop-color="#66fcc2"/>
<stop offset="0.47" stop-color="#73febb"/>
<stop offset="0.5" stop-color="#80ffb4"/>
<stop offset="0.53" stop-color="#8cfead"/>
<stop offset="0.55" stop-color="#99fca6"/>
<stop offset="0.57" stop-color="#a6f89e"/>
<stop offset="0.6" stop-color="#b2f396"/>
<stop offset="0.62" stop-color="#bfec8e"/>
<stop offset="0.65" stop-color="#cce385"/>
<stop offset="0.68" stop-color="#d9d97d"/>
<stop offset="0.7" stop-color="#e5ce74"/>
<stop offset="0.72" stop-color="#f2c26b"/>
<stop offset="0.75" stop-color="#ffb462"/>
<stop offset="0.78" stop-color="#ffa658"/>
<stop offset="0.8" stop-color="#ff964f"/>
<stop offset="0.82" stop-color="#ff8545"/>
<stop offset="0.85" stop-color="#ff743c"/>
<stop offset="0.88" stop-color="#ff6232"/>
<stop offset="0.9" stop-color="#ff4f28"/>
<stop offset="0.93" stop-color="#ff3c1e"/>
<stop offset="0.95" stop-color="#ff2814"/>
<stop offset="0.97" stop-color="#ff140a"/>
<stop offset="1" stop-color="#ff0000"/>
</linearGradient></defs>
<rect x="658.1" y="239.8" width="8.2" height="189.2" fill="url(#cb)"/>
<path d="M658.1 240.1L662.2 233.1L666.3 240.1Z" fill="#ff0000"/>
<path d="M658.1 428.7L662.2 435.7L666.3 428.7Z" fill="#8000ff"/>
<path d="M658.1 239.8L662.2 233.1L666.3 239.8V429L662.2 435.7L658.1 429Z" fill="none" stroke="#333" stroke-opacity="0.55" stroke-width="0.5"/>
<text x="670.5" y="433.3" font-size="13.6" textLength="16.2" lengthAdjust="spacingAndGlyphs">0.5</text>
<text x="670.5" y="395.46" font-size="13.6" textLength="16.2" lengthAdjust="spacingAndGlyphs">1.0</text>
<text x="670.5" y="357.62" font-size="13.6" textLength="16.2" lengthAdjust="spacingAndGlyphs">1.5</text>
<text x="670.5" y="319.78" font-size="13.6" textLength="16.2" lengthAdjust="spacingAndGlyphs">2.0</text>
<text x="670.5" y="281.94" font-size="13.6" textLength="16.2" lengthAdjust="spacingAndGlyphs">2.5</text>
<text x="670.5" y="244.1" font-size="13.6" textLength="16.2" lengthAdjust="spacingAndGlyphs">3.0</text>
<path d="M666.3 429h2.6M666.3 391.16h2.6M666.3 353.32h2.6M666.3 315.48h2.6M666.3 277.64h2.6M666.3 239.8h2.6" fill="none" stroke="#404040" stroke-width="0.9"/>
<text transform="translate(705.4 362) rotate(-90)" font-size="13.6"><tspan x="-0.8" y="0.4" font-size="15.5">|</tspan><tspan x="2.75" y="0.4" font-size="15.5">|</tspan><tspan class="i" x="7.5" y="0">x</tspan><tspan x="13.6" y="0.3" font-size="15">(</tspan><tspan class="i" x="18.4" y="0">t</tspan><tspan x="25.7" y="0" textLength="9.9" lengthAdjust="spacingAndGlyphs">=</tspan><tspan class="i" x="39.6" y="0">t</tspan><tspan class="i" x="44" y="2.4" font-size="8.8">e</tspan><tspan x="47.3" y="0.3" font-size="15">)</tspan><tspan x="52.6" y="0.4" font-size="15.5">|</tspan><tspan x="56.1" y="0.4" font-size="15.5">|</tspan></text>
</svg></body></html>
